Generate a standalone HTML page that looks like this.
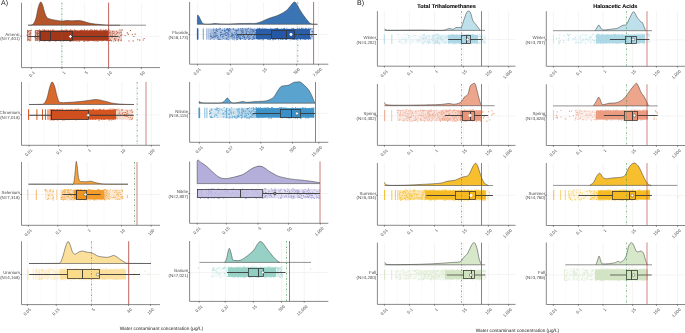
<!DOCTYPE html>
<html><head><meta charset="utf-8"><style>
html,body{margin:0;padding:0;background:#fff;width:685px;height:333px;overflow:hidden}
svg{display:block;font-family:"Liberation Sans", sans-serif;will-change:transform;text-rendering:geometricPrecision}
</style></head><body>
<svg width="685" height="333" viewBox="0 0 685 333">
<rect width="685" height="333" fill="#fff"/>
<line x1="46.60" y1="2.70" x2="46.60" y2="67.60" stroke="#f7f7f7" stroke-width="0.50"/>
<line x1="73.20" y1="2.70" x2="73.20" y2="67.60" stroke="#f7f7f7" stroke-width="0.50"/>
<line x1="96.40" y1="2.70" x2="96.40" y2="67.60" stroke="#f7f7f7" stroke-width="0.50"/>
<line x1="124.90" y1="2.70" x2="124.90" y2="67.60" stroke="#f7f7f7" stroke-width="0.50"/>
<line x1="156.40" y1="2.70" x2="156.40" y2="67.60" stroke="#f7f7f7" stroke-width="0.50"/>
<line x1="31.40" y1="2.70" x2="31.40" y2="67.60" stroke="#ededed" stroke-width="0.60"/>
<line x1="61.90" y1="2.70" x2="61.90" y2="67.60" stroke="#ededed" stroke-width="0.60"/>
<line x1="84.40" y1="2.70" x2="84.40" y2="67.60" stroke="#ededed" stroke-width="0.60"/>
<line x1="108.40" y1="2.70" x2="108.40" y2="67.60" stroke="#ededed" stroke-width="0.60"/>
<line x1="141.40" y1="2.70" x2="141.40" y2="67.60" stroke="#ededed" stroke-width="0.60"/>
<line x1="21.50" y1="36.30" x2="160.00" y2="36.30" stroke="#ededed" stroke-width="0.60"/>
<path d="M27.90,25.20C28.60,25.13 30.98,25.37 32.10,24.80C33.22,24.23 33.90,23.13 34.60,21.80C35.30,20.47 35.73,19.03 36.30,16.80C36.87,14.57 37.30,10.85 38.00,8.40C38.70,5.95 39.73,2.67 40.50,2.10C41.27,1.53 41.90,3.25 42.60,5.00C43.30,6.75 44.00,10.57 44.70,12.60C45.40,14.63 45.97,16.15 46.80,17.20C47.63,18.25 48.23,18.40 49.70,18.90C51.17,19.40 53.55,19.85 55.60,20.20C57.65,20.55 60.10,20.95 62.00,21.00C63.90,21.05 65.17,20.53 67.00,20.50C68.83,20.47 71.00,20.78 73.00,20.80C75.00,20.82 77.17,20.48 79.00,20.60C80.83,20.72 82.33,21.10 84.00,21.50C85.67,21.90 87.17,22.58 89.00,23.00C90.83,23.42 93.00,23.73 95.00,24.00C97.00,24.27 98.83,24.42 101.00,24.60C103.17,24.78 104.83,25.00 108.00,25.10C111.17,25.20 118.00,25.18 120.00,25.20L120.00,25.20L27.90,25.20Z" fill="#b5552b"/>
<line x1="27.90" y1="25.20" x2="146.00" y2="25.20" stroke="#4a4a4a" stroke-width="0.60"/>
<path d="M27.90,25.20C28.60,25.13 30.98,25.37 32.10,24.80C33.22,24.23 33.90,23.13 34.60,21.80C35.30,20.47 35.73,19.03 36.30,16.80C36.87,14.57 37.30,10.85 38.00,8.40C38.70,5.95 39.73,2.67 40.50,2.10C41.27,1.53 41.90,3.25 42.60,5.00C43.30,6.75 44.00,10.57 44.70,12.60C45.40,14.63 45.97,16.15 46.80,17.20C47.63,18.25 48.23,18.40 49.70,18.90C51.17,19.40 53.55,19.85 55.60,20.20C57.65,20.55 60.10,20.95 62.00,21.00C63.90,21.05 65.17,20.53 67.00,20.50C68.83,20.47 71.00,20.78 73.00,20.80C75.00,20.82 77.17,20.48 79.00,20.60C80.83,20.72 82.33,21.10 84.00,21.50C85.67,21.90 87.17,22.58 89.00,23.00C90.83,23.42 93.00,23.73 95.00,24.00C97.00,24.27 98.83,24.42 101.00,24.60C103.17,24.78 104.83,25.00 108.00,25.10C111.17,25.20 118.00,25.18 120.00,25.20" fill="none" stroke="#333" stroke-width="0.5"/>
<rect x="27.00" y="30.20" width="4.50" height="10.70" fill="#a9391b" fill-opacity="0.23"/>
<rect x="34.80" y="30.20" width="3.70" height="10.70" fill="#a9391b" fill-opacity="0.28"/>
<rect x="38.50" y="30.40" width="70.00" height="10.30" fill="#a9391b"/>
<rect x="108.50" y="30.20" width="13.50" height="10.70" fill="#a9391b" fill-opacity="0.25"/>
<rect x="27.28" y="30.00" width="1.05" height="11.10" fill="#a9391b" fill-opacity="0.60"/>
<rect x="29.68" y="30.00" width="1.05" height="11.10" fill="#a9391b" fill-opacity="0.50"/>
<rect x="34.98" y="30.00" width="1.05" height="11.10" fill="#a9391b" fill-opacity="0.60"/>
<rect x="36.78" y="30.00" width="1.05" height="11.10" fill="#a9391b" fill-opacity="0.70"/>
<path fill="#a9391b" fill-opacity="0.8" d="M28.0 31.0h.9v.9h-.9zM29.5 30.1h.9v.9h-.9zM29.0 33.5h.9v.9h-.9zM26.8 35.2h.9v.9h-.9zM26.7 34.3h.9v.9h-.9zM26.9 30.3h.9v.9h-.9zM28.5 38.9h.9v.9h-.9zM27.1 31.9h.9v.9h-.9zM29.4 40.3h.9v.9h-.9zM29.1 33.9h.9v.9h-.9zM30.9 29.8h.9v.9h-.9zM30.4 32.6h.9v.9h-.9zM27.2 30.6h.9v.9h-.9zM27.9 38.8h.9v.9h-.9zM27.4 36.1h.9v.9h-.9zM29.4 33.6h.9v.9h-.9zM36.4 30.0h.9v.9h-.9zM34.6 31.7h.9v.9h-.9zM36.9 34.3h.9v.9h-.9zM35.5 36.1h.9v.9h-.9zM36.0 32.8h.9v.9h-.9zM37.3 37.4h.9v.9h-.9zM35.3 36.0h.9v.9h-.9zM36.3 39.5h.9v.9h-.9zM37.0 32.6h.9v.9h-.9zM38.0 30.6h.9v.9h-.9zM35.9 38.1h.9v.9h-.9zM34.9 35.0h.9v.9h-.9zM34.5 37.1h.9v.9h-.9zM37.2 36.0h.9v.9h-.9zM37.6 32.9h.9v.9h-.9zM36.9 36.2h.9v.9h-.9zM78.6 40.8h.9v.9h-.9zM71.2 40.0h.9v.9h-.9zM83.3 40.8h.9v.9h-.9zM88.2 40.3h.9v.9h-.9zM62.9 29.9h.9v.9h-.9zM91.8 40.2h.9v.9h-.9zM102.2 40.1h.9v.9h-.9zM76.5 40.8h.9v.9h-.9zM87.5 40.6h.9v.9h-.9zM105.1 29.4h.9v.9h-.9zM84.1 29.3h.9v.9h-.9zM56.4 40.4h.9v.9h-.9zM80.7 29.6h.9v.9h-.9zM70.0 40.9h.9v.9h-.9zM65.9 40.4h.9v.9h-.9zM42.4 29.3h.9v.9h-.9zM45.7 29.9h.9v.9h-.9zM75.6 30.2h.9v.9h-.9zM99.3 40.1h.9v.9h-.9zM104.9 29.9h.9v.9h-.9zM97.5 40.4h.9v.9h-.9zM59.9 40.7h.9v.9h-.9zM71.6 29.9h.9v.9h-.9zM104.6 29.8h.9v.9h-.9zM91.1 29.5h.9v.9h-.9zM86.8 29.5h.9v.9h-.9zM62.9 40.5h.9v.9h-.9zM82.6 29.9h.9v.9h-.9zM94.5 30.1h.9v.9h-.9zM52.0 29.7h.9v.9h-.9zM93.4 40.1h.9v.9h-.9zM69.4 40.9h.9v.9h-.9zM43.7 40.4h.9v.9h-.9zM52.4 29.9h.9v.9h-.9zM71.6 29.9h.9v.9h-.9zM96.5 29.4h.9v.9h-.9zM71.5 40.7h.9v.9h-.9zM44.1 40.7h.9v.9h-.9zM66.1 30.2h.9v.9h-.9zM107.6 40.5h.9v.9h-.9zM94.5 40.8h.9v.9h-.9zM84.1 29.6h.9v.9h-.9zM39.5 30.0h.9v.9h-.9zM74.9 30.2h.9v.9h-.9zM95.9 40.2h.9v.9h-.9zM73.1 40.3h.9v.9h-.9zM96.4 40.7h.9v.9h-.9zM84.4 30.1h.9v.9h-.9zM75.3 40.0h.9v.9h-.9zM92.4 29.9h.9v.9h-.9zM50.1 29.7h.9v.9h-.9zM60.9 29.8h.9v.9h-.9zM99.9 29.3h.9v.9h-.9zM92.1 29.8h.9v.9h-.9zM69.1 29.9h.9v.9h-.9zM86.5 40.5h.9v.9h-.9zM73.6 40.5h.9v.9h-.9zM102.6 40.2h.9v.9h-.9zM47.6 29.4h.9v.9h-.9zM85.0 40.2h.9v.9h-.9zM92.9 40.1h.9v.9h-.9zM48.1 30.1h.9v.9h-.9zM90.3 29.3h.9v.9h-.9zM107.3 40.1h.9v.9h-.9zM107.6 40.4h.9v.9h-.9zM60.3 40.0h.9v.9h-.9zM68.9 40.3h.9v.9h-.9zM73.9 29.3h.9v.9h-.9zM106.1 29.4h.9v.9h-.9zM101.5 40.7h.9v.9h-.9zM97.5 40.9h.9v.9h-.9zM48.5 40.5h.9v.9h-.9zM44.3 40.6h.9v.9h-.9zM100.7 29.5h.9v.9h-.9zM94.2 29.3h.9v.9h-.9zM56.6 40.0h.9v.9h-.9zM102.9 29.5h.9v.9h-.9zM103.7 30.2h.9v.9h-.9zM52.2 29.6h.9v.9h-.9zM58.3 40.1h.9v.9h-.9zM94.3 30.2h.9v.9h-.9zM89.4 40.1h.9v.9h-.9zM55.2 40.6h.9v.9h-.9zM84.0 40.8h.9v.9h-.9zM86.2 30.2h.9v.9h-.9zM66.4 29.6h.9v.9h-.9zM39.0 40.8h.9v.9h-.9zM49.5 40.8h.9v.9h-.9zM80.0 29.9h.9v.9h-.9zM49.1 40.2h.9v.9h-.9zM106.1 40.2h.9v.9h-.9zM53.3 29.4h.9v.9h-.9zM71.3 29.8h.9v.9h-.9zM44.4 30.1h.9v.9h-.9zM65.6 29.5h.9v.9h-.9zM79.0 40.7h.9v.9h-.9zM91.6 40.4h.9v.9h-.9zM88.7 40.0h.9v.9h-.9zM89.4 30.1h.9v.9h-.9zM95.9 29.8h.9v.9h-.9zM44.0 29.3h.9v.9h-.9zM64.4 29.7h.9v.9h-.9zM81.9 29.9h.9v.9h-.9zM70.0 29.3h.9v.9h-.9zM84.2 40.7h.9v.9h-.9zM94.7 30.1h.9v.9h-.9zM54.2 40.4h.9v.9h-.9zM43.4 30.2h.9v.9h-.9zM81.2 29.9h.9v.9h-.9zM61.3 29.9h.9v.9h-.9zM38.9 29.3h.9v.9h-.9zM86.5 40.2h.9v.9h-.9zM114.3 34.7h.9v.9h-.9zM109.6 39.7h.9v.9h-.9zM110.7 40.7h.9v.9h-.9zM120.7 29.5h.9v.9h-.9zM114.2 38.8h.9v.9h-.9zM121.1 34.5h.9v.9h-.9zM111.7 31.7h.9v.9h-.9zM120.8 31.7h.9v.9h-.9zM115.9 30.9h.9v.9h-.9zM115.1 40.4h.9v.9h-.9zM109.8 38.8h.9v.9h-.9zM114.9 39.6h.9v.9h-.9zM117.5 32.0h.9v.9h-.9zM120.2 34.9h.9v.9h-.9zM108.4 29.3h.9v.9h-.9zM114.7 34.5h.9v.9h-.9zM112.1 30.9h.9v.9h-.9zM112.7 32.9h.9v.9h-.9zM119.4 29.3h.9v.9h-.9zM118.2 39.1h.9v.9h-.9zM109.7 40.1h.9v.9h-.9zM117.7 39.8h.9v.9h-.9zM112.0 33.6h.9v.9h-.9zM113.4 40.9h.9v.9h-.9zM116.0 33.5h.9v.9h-.9zM113.8 32.5h.9v.9h-.9zM108.7 30.4h.9v.9h-.9zM119.3 32.6h.9v.9h-.9zM120.7 32.2h.9v.9h-.9zM111.6 35.2h.9v.9h-.9zM110.6 33.6h.9v.9h-.9zM121.0 39.6h.9v.9h-.9zM119.0 36.6h.9v.9h-.9zM120.4 40.3h.9v.9h-.9zM115.5 37.7h.9v.9h-.9zM108.7 37.8h.9v.9h-.9zM114.1 38.1h.9v.9h-.9zM116.8 32.6h.9v.9h-.9zM108.7 40.1h.9v.9h-.9zM109.8 34.8h.9v.9h-.9zM112.7 32.7h.9v.9h-.9zM118.0 40.7h.9v.9h-.9zM111.6 36.9h.9v.9h-.9zM112.1 35.8h.9v.9h-.9zM113.4 31.2h.9v.9h-.9zM110.2 31.7h.9v.9h-.9zM120.3 35.1h.9v.9h-.9zM111.0 39.9h.9v.9h-.9zM121.5 34.5h.9v.9h-.9zM109.9 31.5h.9v.9h-.9zM109.3 33.3h.9v.9h-.9zM109.3 32.0h.9v.9h-.9zM111.5 35.9h.9v.9h-.9zM143.6 37.9h1.1v1.1h-1.1zM131.8 34.0h1.1v1.1h-1.1zM134.6 33.6h1.1v1.1h-1.1zM129.9 29.9h1.1v1.1h-1.1zM128.4 40.5h1.1v1.1h-1.1zM124.6 35.0h1.1v1.1h-1.1zM137.2 39.2h1.1v1.1h-1.1zM126.8 32.3h1.1v1.1h-1.1zM127.7 33.8h1.1v1.1h-1.1zM132.6 40.3h1.1v1.1h-1.1zM142.7 39.4h1.1v1.1h-1.1zM122.0 29.5h1.1v1.1h-1.1zM139.2 39.6h1.1v1.1h-1.1zM133.3 36.0h1.1v1.1h-1.1z"/>
<line x1="28.20" y1="36.50" x2="40.50" y2="36.50" stroke="#383838" stroke-width="0.90"/>
<line x1="72.50" y1="36.50" x2="118.50" y2="36.50" stroke="#383838" stroke-width="0.90"/>
<rect x="40.50" y="31.50" width="32.00" height="9.00" fill="#a3361a" fill-opacity="0.90" stroke="#333" stroke-width="0.75"/>
<line x1="50.50" y1="31.50" x2="50.50" y2="40.50" stroke="#333" stroke-width="0.90"/>
<line x1="61.90" y1="2.70" x2="61.90" y2="67.60" stroke="#3f8f4f" stroke-width="0.75" stroke-dasharray="1.8,1.5,0.5,1.5" opacity="0.85"/>
<line x1="108.60" y1="2.70" x2="108.60" y2="67.60" stroke="#b33a30" stroke-width="0.90" opacity="0.85"/>
<path d="M68.90,36.50h3M70.40,35.00v3" stroke="#fff" stroke-width="1.1"/>
<line x1="21.50" y1="2.70" x2="21.50" y2="67.60" stroke="#7a7a7a" stroke-width="0.90"/>
<line x1="21.50" y1="67.60" x2="160.00" y2="67.60" stroke="#7a7a7a" stroke-width="0.90"/>
<line x1="31.40" y1="67.60" x2="31.40" y2="68.90" stroke="#333" stroke-width="0.60"/>
<text transform="translate(35.10,72.90) rotate(-45)" text-anchor="end" font-size="4.3" fill="#4a4a4a" stroke="#4a4a4a" stroke-width="0.0">0.1</text>
<line x1="61.90" y1="67.60" x2="61.90" y2="68.90" stroke="#333" stroke-width="0.60"/>
<text transform="translate(65.60,72.90) rotate(-45)" text-anchor="end" font-size="4.3" fill="#4a4a4a" stroke="#4a4a4a" stroke-width="0.0">1</text>
<line x1="84.40" y1="67.60" x2="84.40" y2="68.90" stroke="#333" stroke-width="0.60"/>
<text transform="translate(88.10,72.90) rotate(-45)" text-anchor="end" font-size="4.3" fill="#4a4a4a" stroke="#4a4a4a" stroke-width="0.0">5</text>
<line x1="108.40" y1="67.60" x2="108.40" y2="68.90" stroke="#333" stroke-width="0.60"/>
<text transform="translate(112.10,72.90) rotate(-45)" text-anchor="end" font-size="4.3" fill="#4a4a4a" stroke="#4a4a4a" stroke-width="0.0">10</text>
<line x1="141.40" y1="67.60" x2="141.40" y2="68.90" stroke="#333" stroke-width="0.60"/>
<text transform="translate(145.10,72.90) rotate(-45)" text-anchor="end" font-size="4.3" fill="#4a4a4a" stroke="#4a4a4a" stroke-width="0.0">50</text>
<line x1="20.20" y1="36.30" x2="21.50" y2="36.30" stroke="#333" stroke-width="0.60"/>
<text x="19.80" y="35.60" text-anchor="end" font-size="4.4" fill="#4a4a4a" stroke="#4a4a4a" stroke-width="0.0">Arsenic</text>
<text x="19.80" y="40.40" text-anchor="end" font-size="4.4" fill="#4a4a4a" stroke="#4a4a4a" stroke-width="0.0">(N=7,401)</text>
<line x1="43.80" y1="82.00" x2="43.80" y2="145.30" stroke="#f7f7f7" stroke-width="0.50"/>
<line x1="73.10" y1="82.00" x2="73.10" y2="145.30" stroke="#f7f7f7" stroke-width="0.50"/>
<line x1="104.50" y1="82.00" x2="104.50" y2="145.30" stroke="#f7f7f7" stroke-width="0.50"/>
<line x1="136.60" y1="82.00" x2="136.60" y2="145.30" stroke="#f7f7f7" stroke-width="0.50"/>
<line x1="29.00" y1="82.00" x2="29.00" y2="145.30" stroke="#ededed" stroke-width="0.60"/>
<line x1="58.60" y1="82.00" x2="58.60" y2="145.30" stroke="#ededed" stroke-width="0.60"/>
<line x1="87.40" y1="82.00" x2="87.40" y2="145.30" stroke="#ededed" stroke-width="0.60"/>
<line x1="121.90" y1="82.00" x2="121.90" y2="145.30" stroke="#ededed" stroke-width="0.60"/>
<line x1="151.30" y1="82.00" x2="151.30" y2="145.30" stroke="#ededed" stroke-width="0.60"/>
<line x1="21.50" y1="114.80" x2="160.00" y2="114.80" stroke="#ededed" stroke-width="0.60"/>
<path d="M29.00,104.50C30.83,104.47 37.50,104.47 40.00,104.30C42.50,104.13 42.83,104.55 44.00,103.50C45.17,102.45 46.08,100.58 47.00,98.00C47.92,95.42 48.67,90.67 49.50,88.00C50.33,85.33 51.17,82.33 52.00,82.00C52.83,81.67 53.67,83.67 54.50,86.00C55.33,88.33 56.25,93.42 57.00,96.00C57.75,98.58 58.17,100.40 59.00,101.50C59.83,102.60 60.17,102.47 62.00,102.60C63.83,102.73 67.00,102.48 70.00,102.30C73.00,102.12 77.00,101.80 80.00,101.50C83.00,101.20 85.50,100.83 88.00,100.50C90.50,100.17 93.00,99.58 95.00,99.50C97.00,99.42 97.83,99.58 100.00,100.00C102.17,100.42 105.50,101.40 108.00,102.00C110.50,102.60 112.17,103.22 115.00,103.60C117.83,103.98 121.83,104.15 125.00,104.30C128.17,104.45 132.50,104.47 134.00,104.50L134.00,104.50L29.00,104.50Z" fill="#d8692c"/>
<line x1="29.00" y1="104.50" x2="134.00" y2="104.50" stroke="#4a4a4a" stroke-width="0.60"/>
<path d="M29.00,104.50C30.83,104.47 37.50,104.47 40.00,104.30C42.50,104.13 42.83,104.55 44.00,103.50C45.17,102.45 46.08,100.58 47.00,98.00C47.92,95.42 48.67,90.67 49.50,88.00C50.33,85.33 51.17,82.33 52.00,82.00C52.83,81.67 53.67,83.67 54.50,86.00C55.33,88.33 56.25,93.42 57.00,96.00C57.75,98.58 58.17,100.40 59.00,101.50C59.83,102.60 60.17,102.47 62.00,102.60C63.83,102.73 67.00,102.48 70.00,102.30C73.00,102.12 77.00,101.80 80.00,101.50C83.00,101.20 85.50,100.83 88.00,100.50C90.50,100.17 93.00,99.58 95.00,99.50C97.00,99.42 97.83,99.58 100.00,100.00C102.17,100.42 105.50,101.40 108.00,102.00C110.50,102.60 112.17,103.22 115.00,103.60C117.83,103.98 121.83,104.15 125.00,104.30C128.17,104.45 132.50,104.47 134.00,104.50" fill="none" stroke="#333" stroke-width="0.5"/>
<rect x="50.50" y="109.70" width="65.50" height="9.80" fill="#d5541f"/>
<rect x="116.00" y="109.50" width="17.00" height="10.20" fill="#d5541f" fill-opacity="0.20"/>
<rect x="28.08" y="109.30" width="1.05" height="10.60" fill="#d5541f" fill-opacity="1.00"/>
<rect x="36.38" y="109.30" width="1.05" height="10.60" fill="#d5541f" fill-opacity="0.95"/>
<rect x="41.98" y="109.30" width="1.05" height="10.60" fill="#d5541f" fill-opacity="0.95"/>
<rect x="44.98" y="109.30" width="1.05" height="10.60" fill="#d5541f" fill-opacity="0.90"/>
<rect x="47.48" y="109.30" width="1.05" height="10.60" fill="#d5541f" fill-opacity="0.90"/>
<rect x="49.48" y="109.30" width="1.05" height="10.60" fill="#d5541f" fill-opacity="0.95"/>
<path fill="#d5541f" fill-opacity="0.8" d="M50.1 119.7h.9v.9h-.9zM113.7 108.8h.9v.9h-.9zM60.0 118.9h.9v.9h-.9zM55.6 109.3h.9v.9h-.9zM65.3 119.4h.9v.9h-.9zM113.1 119.3h.9v.9h-.9zM95.8 108.7h.9v.9h-.9zM75.5 108.8h.9v.9h-.9zM85.3 119.0h.9v.9h-.9zM92.3 109.4h.9v.9h-.9zM85.9 119.2h.9v.9h-.9zM53.7 119.6h.9v.9h-.9zM55.4 119.2h.9v.9h-.9zM64.9 119.1h.9v.9h-.9zM73.8 118.8h.9v.9h-.9zM98.5 109.1h.9v.9h-.9zM70.5 109.4h.9v.9h-.9zM67.4 118.9h.9v.9h-.9zM90.0 109.4h.9v.9h-.9zM112.2 108.7h.9v.9h-.9zM51.6 109.1h.9v.9h-.9zM62.1 119.5h.9v.9h-.9zM98.0 119.7h.9v.9h-.9zM62.5 119.3h.9v.9h-.9zM52.1 119.1h.9v.9h-.9zM114.6 109.0h.9v.9h-.9zM68.4 108.9h.9v.9h-.9zM86.8 119.1h.9v.9h-.9zM103.9 118.8h.9v.9h-.9zM62.9 119.2h.9v.9h-.9zM73.9 118.8h.9v.9h-.9zM66.3 119.2h.9v.9h-.9zM52.3 119.7h.9v.9h-.9zM62.8 119.4h.9v.9h-.9zM67.9 119.4h.9v.9h-.9zM98.9 119.7h.9v.9h-.9zM50.3 109.3h.9v.9h-.9zM51.6 119.2h.9v.9h-.9zM112.5 119.0h.9v.9h-.9zM103.4 108.7h.9v.9h-.9zM102.6 109.3h.9v.9h-.9zM89.8 119.1h.9v.9h-.9zM101.4 119.3h.9v.9h-.9zM99.4 108.8h.9v.9h-.9zM81.6 118.9h.9v.9h-.9zM107.9 109.5h.9v.9h-.9zM63.7 119.7h.9v.9h-.9zM61.4 108.7h.9v.9h-.9zM99.0 109.4h.9v.9h-.9zM101.1 119.0h.9v.9h-.9zM74.5 109.3h.9v.9h-.9zM62.2 108.8h.9v.9h-.9zM71.4 108.9h.9v.9h-.9zM92.6 108.7h.9v.9h-.9zM56.8 119.6h.9v.9h-.9zM109.9 108.6h.9v.9h-.9zM53.4 109.2h.9v.9h-.9zM111.0 119.6h.9v.9h-.9zM89.5 109.3h.9v.9h-.9zM57.0 109.1h.9v.9h-.9zM52.5 118.8h.9v.9h-.9zM52.6 109.3h.9v.9h-.9zM103.7 119.1h.9v.9h-.9zM55.2 119.2h.9v.9h-.9zM54.2 108.7h.9v.9h-.9zM91.9 118.9h.9v.9h-.9zM76.9 108.8h.9v.9h-.9zM70.5 119.1h.9v.9h-.9zM51.2 109.3h.9v.9h-.9zM75.6 119.7h.9v.9h-.9zM109.1 119.6h.9v.9h-.9zM87.9 108.9h.9v.9h-.9zM51.0 119.4h.9v.9h-.9zM55.9 109.2h.9v.9h-.9zM59.6 108.8h.9v.9h-.9zM57.2 109.0h.9v.9h-.9zM69.8 118.8h.9v.9h-.9zM70.7 109.2h.9v.9h-.9zM109.3 109.2h.9v.9h-.9zM92.0 109.4h.9v.9h-.9zM104.4 119.0h.9v.9h-.9zM111.5 108.7h.9v.9h-.9zM66.2 109.3h.9v.9h-.9zM107.9 119.4h.9v.9h-.9zM57.8 119.3h.9v.9h-.9zM92.6 119.0h.9v.9h-.9zM93.2 109.0h.9v.9h-.9zM50.3 119.2h.9v.9h-.9zM100.1 109.3h.9v.9h-.9zM103.1 118.8h.9v.9h-.9zM78.3 108.6h.9v.9h-.9zM52.7 119.7h.9v.9h-.9zM101.0 118.8h.9v.9h-.9zM92.8 109.3h.9v.9h-.9zM115.3 109.3h.9v.9h-.9zM58.7 109.4h.9v.9h-.9zM95.0 119.0h.9v.9h-.9zM90.0 119.1h.9v.9h-.9zM109.3 119.0h.9v.9h-.9zM63.7 119.3h.9v.9h-.9zM74.4 119.2h.9v.9h-.9zM94.6 118.9h.9v.9h-.9zM57.6 119.4h.9v.9h-.9zM113.3 109.0h.9v.9h-.9zM119.8 114.5h.9v.9h-.9zM130.1 116.8h.9v.9h-.9zM121.9 112.8h.9v.9h-.9zM121.8 110.2h.9v.9h-.9zM121.2 109.5h.9v.9h-.9zM119.5 115.4h.9v.9h-.9zM131.8 111.9h.9v.9h-.9zM124.3 112.0h.9v.9h-.9zM132.0 118.3h.9v.9h-.9zM131.3 118.6h.9v.9h-.9zM128.0 116.9h.9v.9h-.9zM119.3 111.8h.9v.9h-.9zM126.2 113.2h.9v.9h-.9zM121.7 109.1h.9v.9h-.9zM123.9 115.4h.9v.9h-.9zM116.3 109.2h.9v.9h-.9zM125.2 112.0h.9v.9h-.9zM124.4 114.5h.9v.9h-.9zM122.6 111.9h.9v.9h-.9zM117.8 112.7h.9v.9h-.9zM129.6 110.3h.9v.9h-.9zM115.8 117.5h.9v.9h-.9zM127.6 113.6h.9v.9h-.9zM116.6 110.2h.9v.9h-.9zM126.9 111.6h.9v.9h-.9zM129.3 119.4h.9v.9h-.9zM116.5 117.7h.9v.9h-.9zM130.7 115.2h.9v.9h-.9zM125.4 115.3h.9v.9h-.9zM124.3 114.1h.9v.9h-.9zM118.4 108.6h.9v.9h-.9zM116.6 108.8h.9v.9h-.9zM118.7 110.3h.9v.9h-.9zM131.0 109.7h.9v.9h-.9zM126.0 115.9h.9v.9h-.9zM118.9 113.2h.9v.9h-.9zM124.4 115.7h.9v.9h-.9zM126.6 113.2h.9v.9h-.9zM126.0 114.2h.9v.9h-.9zM116.6 115.6h.9v.9h-.9zM132.4 116.7h.9v.9h-.9zM123.7 114.6h.9v.9h-.9zM121.9 113.4h.9v.9h-.9zM131.1 109.5h.9v.9h-.9zM126.7 110.5h.9v.9h-.9zM132.5 111.5h.9v.9h-.9zM126.5 109.9h.9v.9h-.9zM130.7 118.9h.9v.9h-.9zM131.6 111.5h.9v.9h-.9zM116.4 115.7h.9v.9h-.9zM127.1 116.2h.9v.9h-.9z"/>
<line x1="29.20" y1="115.25" x2="51.50" y2="115.25" stroke="#383838" stroke-width="1.00"/>
<line x1="88.50" y1="115.25" x2="133.80" y2="115.25" stroke="#383838" stroke-width="1.00"/>
<rect x="51.50" y="110.50" width="37.00" height="9.00" fill="#cf4f1f" fill-opacity="0.90" stroke="#333" stroke-width="0.75"/>
<line x1="51.50" y1="110.50" x2="51.50" y2="119.50" stroke="#333" stroke-width="0.90"/>
<line x1="137.20" y1="82.00" x2="137.20" y2="145.30" stroke="#3f8f4f" stroke-width="0.75" stroke-dasharray="1.8,1.5,0.5,1.5" opacity="0.85"/>
<line x1="146.00" y1="82.00" x2="146.00" y2="145.30" stroke="#b33a30" stroke-width="1.00" opacity="0.62"/>
<circle cx="88.20" cy="115.25" r="1.45" fill="#fff" stroke="#333" stroke-width="0.45"/>
<line x1="21.50" y1="82.00" x2="21.50" y2="145.30" stroke="#7a7a7a" stroke-width="0.90"/>
<line x1="21.50" y1="145.30" x2="160.00" y2="145.30" stroke="#7a7a7a" stroke-width="0.90"/>
<line x1="29.00" y1="145.30" x2="29.00" y2="146.60" stroke="#333" stroke-width="0.60"/>
<text transform="translate(32.70,150.60) rotate(-45)" text-anchor="end" font-size="4.3" fill="#4a4a4a" stroke="#4a4a4a" stroke-width="0.0">0.01</text>
<line x1="58.60" y1="145.30" x2="58.60" y2="146.60" stroke="#333" stroke-width="0.60"/>
<text transform="translate(62.30,150.60) rotate(-45)" text-anchor="end" font-size="4.3" fill="#4a4a4a" stroke="#4a4a4a" stroke-width="0.0">0.1</text>
<line x1="87.40" y1="145.30" x2="87.40" y2="146.60" stroke="#333" stroke-width="0.60"/>
<text transform="translate(91.10,150.60) rotate(-45)" text-anchor="end" font-size="4.3" fill="#4a4a4a" stroke="#4a4a4a" stroke-width="0.0">1</text>
<line x1="121.90" y1="145.30" x2="121.90" y2="146.60" stroke="#333" stroke-width="0.60"/>
<text transform="translate(125.60,150.60) rotate(-45)" text-anchor="end" font-size="4.3" fill="#4a4a4a" stroke="#4a4a4a" stroke-width="0.0">10</text>
<line x1="151.30" y1="145.30" x2="151.30" y2="146.60" stroke="#333" stroke-width="0.60"/>
<text transform="translate(155.00,150.60) rotate(-45)" text-anchor="end" font-size="4.3" fill="#4a4a4a" stroke="#4a4a4a" stroke-width="0.0">100</text>
<line x1="20.20" y1="114.80" x2="21.50" y2="114.80" stroke="#333" stroke-width="0.60"/>
<text x="19.80" y="114.10" text-anchor="end" font-size="4.4" fill="#4a4a4a" stroke="#4a4a4a" stroke-width="0.0">Chromium</text>
<text x="19.80" y="118.90" text-anchor="end" font-size="4.4" fill="#4a4a4a" stroke="#4a4a4a" stroke-width="0.0">(N=7,018)</text>
<line x1="43.00" y1="162.00" x2="43.00" y2="225.30" stroke="#f7f7f7" stroke-width="0.50"/>
<line x1="72.50" y1="162.00" x2="72.50" y2="225.30" stroke="#f7f7f7" stroke-width="0.50"/>
<line x1="104.00" y1="162.00" x2="104.00" y2="225.30" stroke="#f7f7f7" stroke-width="0.50"/>
<line x1="136.00" y1="162.00" x2="136.00" y2="225.30" stroke="#f7f7f7" stroke-width="0.50"/>
<line x1="28.40" y1="162.00" x2="28.40" y2="225.30" stroke="#ededed" stroke-width="0.60"/>
<line x1="57.80" y1="162.00" x2="57.80" y2="225.30" stroke="#ededed" stroke-width="0.60"/>
<line x1="87.20" y1="162.00" x2="87.20" y2="225.30" stroke="#ededed" stroke-width="0.60"/>
<line x1="121.50" y1="162.00" x2="121.50" y2="225.30" stroke="#ededed" stroke-width="0.60"/>
<line x1="151.10" y1="162.00" x2="151.10" y2="225.30" stroke="#ededed" stroke-width="0.60"/>
<line x1="21.50" y1="194.50" x2="160.00" y2="194.50" stroke="#ededed" stroke-width="0.60"/>
<path d="M28.50,184.20C35.42,184.20 62.55,184.23 70.00,184.20C73.20,184.17 72.45,185.03 73.20,184.00C73.95,182.97 74.12,180.67 74.50,178.00C74.88,175.33 75.22,170.77 75.50,168.00C75.78,165.23 75.92,161.73 76.20,161.40C76.48,161.07 76.85,163.57 77.20,166.00C77.55,168.43 77.90,173.50 78.30,176.00C78.70,178.50 78.98,180.08 79.60,181.00C80.22,181.92 80.93,181.37 82.00,181.50C83.07,181.63 84.50,181.85 86.00,181.80C87.50,181.75 89.50,181.08 91.00,181.20C92.50,181.32 93.50,182.12 95.00,182.50C96.50,182.88 98.17,183.23 100.00,183.50C101.83,183.77 101.33,183.98 106.00,184.10C110.67,184.22 124.33,184.18 128.00,184.20L128.00,184.20L28.50,184.20Z" fill="#f5a43c"/>
<line x1="28.50" y1="184.20" x2="128.00" y2="184.20" stroke="#4a4a4a" stroke-width="0.60"/>
<path d="M28.50,184.20C35.42,184.20 62.55,184.23 70.00,184.20C73.20,184.17 72.45,185.03 73.20,184.00C73.95,182.97 74.12,180.67 74.50,178.00C74.88,175.33 75.22,170.77 75.50,168.00C75.78,165.23 75.92,161.73 76.20,161.40C76.48,161.07 76.85,163.57 77.20,166.00C77.55,168.43 77.90,173.50 78.30,176.00C78.70,178.50 78.98,180.08 79.60,181.00C80.22,181.92 80.93,181.37 82.00,181.50C83.07,181.63 84.50,181.85 86.00,181.80C87.50,181.75 89.50,181.08 91.00,181.20C92.50,181.32 93.50,182.12 95.00,182.50C96.50,182.88 98.17,183.23 100.00,183.50C101.83,183.77 101.33,183.98 106.00,184.10C110.67,184.22 124.33,184.18 128.00,184.20" fill="none" stroke="#333" stroke-width="0.5"/>
<rect x="45.00" y="189.70" width="9.00" height="10.00" fill="#f39b2b" fill-opacity="0.17"/>
<rect x="60.50" y="189.70" width="13.50" height="10.00" fill="#f39b2b" fill-opacity="0.35"/>
<rect x="74.00" y="189.90" width="30.40" height="9.60" fill="#f39b2b"/>
<rect x="104.40" y="189.70" width="5.60" height="10.00" fill="#f39b2b" fill-opacity="0.35"/>
<rect x="110.00" y="189.70" width="13.00" height="10.00" fill="#f39b2b" fill-opacity="0.20"/>
<rect x="27.18" y="189.50" width="1.05" height="10.40" fill="#f39b2b" fill-opacity="0.50"/>
<rect x="35.78" y="189.50" width="1.05" height="10.40" fill="#f39b2b" fill-opacity="0.70"/>
<rect x="56.28" y="189.50" width="1.05" height="10.40" fill="#f39b2b" fill-opacity="0.50"/>
<path fill="#f39b2b" fill-opacity="0.8" d="M52.8 199.4h.9v.9h-.9zM47.2 199.0h.9v.9h-.9zM52.6 189.7h.9v.9h-.9zM49.1 190.6h.9v.9h-.9zM52.7 198.0h.9v.9h-.9zM46.4 190.5h.9v.9h-.9zM52.8 190.9h.9v.9h-.9zM48.0 195.4h.9v.9h-.9zM48.0 198.1h.9v.9h-.9zM52.8 199.5h.9v.9h-.9zM52.1 194.6h.9v.9h-.9zM48.8 194.6h.9v.9h-.9zM44.6 189.0h.9v.9h-.9zM53.2 191.3h.9v.9h-.9zM52.5 197.4h.9v.9h-.9zM48.1 195.2h.9v.9h-.9zM49.6 190.6h.9v.9h-.9zM44.8 190.0h.9v.9h-.9zM50.1 190.5h.9v.9h-.9zM53.3 196.5h.9v.9h-.9zM44.8 190.3h.9v.9h-.9zM50.3 189.2h.9v.9h-.9zM45.2 189.3h.9v.9h-.9zM71.6 197.1h.9v.9h-.9zM62.7 199.3h.9v.9h-.9zM67.3 196.1h.9v.9h-.9zM71.9 197.1h.9v.9h-.9zM69.7 193.0h.9v.9h-.9zM63.4 191.0h.9v.9h-.9zM60.5 199.2h.9v.9h-.9zM72.4 197.0h.9v.9h-.9zM61.2 197.0h.9v.9h-.9zM68.6 194.0h.9v.9h-.9zM61.8 197.5h.9v.9h-.9zM68.8 192.0h.9v.9h-.9zM64.6 191.6h.9v.9h-.9zM64.8 199.0h.9v.9h-.9zM60.7 197.1h.9v.9h-.9zM72.3 197.2h.9v.9h-.9zM68.2 194.0h.9v.9h-.9zM63.9 197.0h.9v.9h-.9zM70.7 189.1h.9v.9h-.9zM67.1 189.8h.9v.9h-.9zM66.4 189.3h.9v.9h-.9zM67.7 196.6h.9v.9h-.9zM71.2 195.1h.9v.9h-.9zM63.9 193.5h.9v.9h-.9zM67.1 191.9h.9v.9h-.9zM70.2 189.3h.9v.9h-.9zM64.7 189.8h.9v.9h-.9zM69.4 197.8h.9v.9h-.9zM73.1 195.3h.9v.9h-.9zM73.0 194.4h.9v.9h-.9zM67.9 190.5h.9v.9h-.9zM71.1 199.1h.9v.9h-.9zM63.2 190.6h.9v.9h-.9zM72.7 197.2h.9v.9h-.9zM66.7 199.7h.9v.9h-.9zM67.6 189.9h.9v.9h-.9zM64.5 189.8h.9v.9h-.9zM72.6 198.6h.9v.9h-.9zM70.1 193.4h.9v.9h-.9zM68.8 192.8h.9v.9h-.9zM64.1 193.5h.9v.9h-.9zM67.4 190.6h.9v.9h-.9zM73.3 195.7h.9v.9h-.9zM72.8 190.1h.9v.9h-.9zM68.1 196.3h.9v.9h-.9zM68.2 189.1h.9v.9h-.9zM67.9 194.5h.9v.9h-.9zM71.8 193.7h.9v.9h-.9zM67.5 192.3h.9v.9h-.9zM66.3 196.3h.9v.9h-.9zM63.5 191.3h.9v.9h-.9zM64.6 195.8h.9v.9h-.9zM69.5 194.3h.9v.9h-.9zM63.7 197.1h.9v.9h-.9zM71.2 195.5h.9v.9h-.9zM69.8 199.5h.9v.9h-.9zM69.8 195.4h.9v.9h-.9zM64.8 191.3h.9v.9h-.9zM73.0 191.6h.9v.9h-.9zM72.9 199.7h.9v.9h-.9zM62.3 196.0h.9v.9h-.9zM62.7 190.4h.9v.9h-.9zM62.1 192.1h.9v.9h-.9zM64.1 191.8h.9v.9h-.9zM61.5 198.8h.9v.9h-.9zM63.8 198.5h.9v.9h-.9zM66.3 188.9h.9v.9h-.9zM71.6 193.6h.9v.9h-.9zM63.1 199.5h.9v.9h-.9zM64.0 189.0h.9v.9h-.9zM81.4 189.5h.9v.9h-.9zM101.2 199.3h.9v.9h-.9zM99.3 189.4h.9v.9h-.9zM94.2 199.2h.9v.9h-.9zM81.4 189.5h.9v.9h-.9zM97.3 199.4h.9v.9h-.9zM99.4 198.8h.9v.9h-.9zM89.3 199.6h.9v.9h-.9zM97.2 189.1h.9v.9h-.9zM74.7 189.3h.9v.9h-.9zM89.3 188.9h.9v.9h-.9zM95.4 199.4h.9v.9h-.9zM89.4 189.2h.9v.9h-.9zM103.7 188.9h.9v.9h-.9zM95.7 199.4h.9v.9h-.9zM81.9 198.8h.9v.9h-.9zM101.4 199.4h.9v.9h-.9zM76.9 189.1h.9v.9h-.9zM103.8 189.7h.9v.9h-.9zM77.5 189.5h.9v.9h-.9zM87.8 189.3h.9v.9h-.9zM84.3 199.6h.9v.9h-.9zM87.8 189.0h.9v.9h-.9zM97.3 189.2h.9v.9h-.9zM81.7 199.0h.9v.9h-.9zM94.2 199.6h.9v.9h-.9zM84.4 199.1h.9v.9h-.9zM86.6 199.4h.9v.9h-.9zM78.2 189.1h.9v.9h-.9zM98.7 189.7h.9v.9h-.9zM89.7 189.1h.9v.9h-.9zM79.9 188.8h.9v.9h-.9zM91.1 198.9h.9v.9h-.9zM84.1 188.9h.9v.9h-.9zM92.1 189.4h.9v.9h-.9zM93.9 199.5h.9v.9h-.9zM79.6 199.3h.9v.9h-.9zM94.0 198.9h.9v.9h-.9zM80.7 188.9h.9v.9h-.9zM88.3 189.7h.9v.9h-.9zM88.7 189.3h.9v.9h-.9zM78.4 199.4h.9v.9h-.9zM93.8 199.1h.9v.9h-.9zM103.9 198.9h.9v.9h-.9zM92.9 199.4h.9v.9h-.9zM98.1 188.8h.9v.9h-.9zM74.6 199.4h.9v.9h-.9zM76.4 189.4h.9v.9h-.9zM105.5 192.5h.9v.9h-.9zM105.4 189.3h.9v.9h-.9zM105.6 192.7h.9v.9h-.9zM106.7 192.4h.9v.9h-.9zM109.5 198.4h.9v.9h-.9zM105.9 191.0h.9v.9h-.9zM106.7 190.0h.9v.9h-.9zM105.0 196.6h.9v.9h-.9zM104.7 199.5h.9v.9h-.9zM104.4 199.7h.9v.9h-.9zM106.2 194.8h.9v.9h-.9zM106.2 195.1h.9v.9h-.9zM106.2 189.9h.9v.9h-.9zM104.2 197.8h.9v.9h-.9zM106.6 197.2h.9v.9h-.9zM104.3 194.3h.9v.9h-.9zM107.0 192.9h.9v.9h-.9zM104.8 196.2h.9v.9h-.9zM107.8 198.4h.9v.9h-.9zM104.4 189.2h.9v.9h-.9zM107.5 195.6h.9v.9h-.9zM104.9 196.0h.9v.9h-.9zM108.8 193.4h.9v.9h-.9zM104.5 199.0h.9v.9h-.9zM104.0 198.3h.9v.9h-.9zM104.7 192.2h.9v.9h-.9zM107.9 198.2h.9v.9h-.9zM105.0 189.1h.9v.9h-.9zM104.1 195.0h.9v.9h-.9zM117.1 198.8h.9v.9h-.9zM116.0 194.5h.9v.9h-.9zM120.3 197.3h.9v.9h-.9zM115.0 196.4h.9v.9h-.9zM114.8 189.5h.9v.9h-.9zM118.4 195.3h.9v.9h-.9zM122.5 196.0h.9v.9h-.9zM111.6 197.2h.9v.9h-.9zM116.7 189.7h.9v.9h-.9zM115.7 198.6h.9v.9h-.9zM117.7 193.4h.9v.9h-.9zM109.7 196.1h.9v.9h-.9zM122.4 198.2h.9v.9h-.9zM112.4 190.1h.9v.9h-.9zM115.7 191.8h.9v.9h-.9zM116.9 193.7h.9v.9h-.9zM119.2 198.9h.9v.9h-.9zM114.3 197.0h.9v.9h-.9zM118.6 190.3h.9v.9h-.9zM119.4 192.0h.9v.9h-.9zM116.8 194.2h.9v.9h-.9zM118.3 198.5h.9v.9h-.9zM121.4 189.3h.9v.9h-.9zM110.0 189.4h.9v.9h-.9zM121.0 196.3h.9v.9h-.9zM117.6 193.0h.9v.9h-.9zM113.6 195.4h.9v.9h-.9zM122.0 197.9h.9v.9h-.9zM117.5 192.2h.9v.9h-.9zM121.9 196.8h.9v.9h-.9zM115.7 190.6h.9v.9h-.9zM122.1 190.0h.9v.9h-.9zM122.0 190.6h.9v.9h-.9zM120.0 194.0h.9v.9h-.9zM119.7 193.7h.9v.9h-.9zM113.1 197.1h.9v.9h-.9zM113.9 191.8h.9v.9h-.9zM117.6 195.9h.9v.9h-.9zM126.7 195.2h1.1v1.1h-1.1zM126.9 196.6h1.1v1.1h-1.1z"/>
<line x1="62.40" y1="194.50" x2="76.50" y2="194.50" stroke="#383838" stroke-width="0.90"/>
<line x1="86.50" y1="194.50" x2="100.50" y2="194.50" stroke="#383838" stroke-width="0.90"/>
<rect x="76.50" y="190.50" width="10.00" height="9.00" fill="#f0961f" fill-opacity="0.90" stroke="#333" stroke-width="0.75"/>
<line x1="76.50" y1="190.50" x2="76.50" y2="199.50" stroke="#333" stroke-width="0.90"/>
<line x1="134.50" y1="162.00" x2="134.50" y2="225.30" stroke="#3f8f4f" stroke-width="0.75" stroke-dasharray="1.8,1.5,0.5,1.5" opacity="0.85"/>
<line x1="137.00" y1="162.00" x2="137.00" y2="225.30" stroke="#b33a30" stroke-width="1.00" opacity="0.62"/>
<circle cx="85.40" cy="194.50" r="1.45" fill="#fff" stroke="#333" stroke-width="0.45"/>
<line x1="21.50" y1="162.00" x2="21.50" y2="225.30" stroke="#7a7a7a" stroke-width="0.90"/>
<line x1="21.50" y1="225.30" x2="160.00" y2="225.30" stroke="#7a7a7a" stroke-width="0.90"/>
<line x1="28.40" y1="225.30" x2="28.40" y2="226.60" stroke="#333" stroke-width="0.60"/>
<text transform="translate(32.10,230.60) rotate(-45)" text-anchor="end" font-size="4.3" fill="#4a4a4a" stroke="#4a4a4a" stroke-width="0.0">0.01</text>
<line x1="57.80" y1="225.30" x2="57.80" y2="226.60" stroke="#333" stroke-width="0.60"/>
<text transform="translate(61.50,230.60) rotate(-45)" text-anchor="end" font-size="4.3" fill="#4a4a4a" stroke="#4a4a4a" stroke-width="0.0">0.1</text>
<line x1="87.20" y1="225.30" x2="87.20" y2="226.60" stroke="#333" stroke-width="0.60"/>
<text transform="translate(90.90,230.60) rotate(-45)" text-anchor="end" font-size="4.3" fill="#4a4a4a" stroke="#4a4a4a" stroke-width="0.0">1</text>
<line x1="121.50" y1="225.30" x2="121.50" y2="226.60" stroke="#333" stroke-width="0.60"/>
<text transform="translate(125.20,230.60) rotate(-45)" text-anchor="end" font-size="4.3" fill="#4a4a4a" stroke="#4a4a4a" stroke-width="0.0">10</text>
<line x1="151.10" y1="225.30" x2="151.10" y2="226.60" stroke="#333" stroke-width="0.60"/>
<text transform="translate(154.80,230.60) rotate(-45)" text-anchor="end" font-size="4.3" fill="#4a4a4a" stroke="#4a4a4a" stroke-width="0.0">100</text>
<line x1="20.20" y1="194.50" x2="21.50" y2="194.50" stroke="#333" stroke-width="0.60"/>
<text x="19.80" y="193.80" text-anchor="end" font-size="4.4" fill="#4a4a4a" stroke="#4a4a4a" stroke-width="0.0">Selenium</text>
<text x="19.80" y="198.60" text-anchor="end" font-size="4.4" fill="#4a4a4a" stroke="#4a4a4a" stroke-width="0.0">(N=7,318)</text>
<line x1="41.50" y1="241.30" x2="41.50" y2="304.60" stroke="#f7f7f7" stroke-width="0.50"/>
<line x1="70.00" y1="241.30" x2="70.00" y2="304.60" stroke="#f7f7f7" stroke-width="0.50"/>
<line x1="109.40" y1="241.30" x2="109.40" y2="304.60" stroke="#f7f7f7" stroke-width="0.50"/>
<line x1="140.00" y1="241.30" x2="140.00" y2="304.60" stroke="#f7f7f7" stroke-width="0.50"/>
<line x1="27.40" y1="241.30" x2="27.40" y2="304.60" stroke="#ededed" stroke-width="0.60"/>
<line x1="56.30" y1="241.30" x2="56.30" y2="304.60" stroke="#ededed" stroke-width="0.60"/>
<line x1="91.50" y1="241.30" x2="91.50" y2="304.60" stroke="#ededed" stroke-width="0.60"/>
<line x1="128.50" y1="241.30" x2="128.50" y2="304.60" stroke="#ededed" stroke-width="0.60"/>
<line x1="150.50" y1="241.30" x2="150.50" y2="304.60" stroke="#ededed" stroke-width="0.60"/>
<line x1="21.50" y1="274.50" x2="160.00" y2="274.50" stroke="#ededed" stroke-width="0.60"/>
<path d="M29.00,263.50C33.83,263.47 52.77,263.47 58.00,263.30C60.40,263.13 59.57,263.72 60.40,262.50C61.23,261.28 62.15,258.58 63.00,256.00C63.85,253.42 64.65,249.43 65.50,247.00C66.35,244.57 67.27,241.57 68.10,241.40C68.93,241.23 69.77,244.23 70.50,246.00C71.23,247.77 71.75,250.63 72.50,252.00C73.25,253.37 74.08,254.12 75.00,254.20C75.92,254.28 76.83,253.03 78.00,252.50C79.17,251.97 80.67,251.08 82.00,251.00C83.33,250.92 84.42,251.70 86.00,252.00C87.58,252.30 90.00,252.38 91.50,252.80C93.00,253.22 93.88,253.93 95.00,254.50C96.12,255.07 96.87,255.78 98.20,256.20C99.53,256.62 101.42,256.82 103.00,257.00C104.58,257.18 106.37,257.42 107.70,257.30C109.03,257.18 109.98,256.60 111.00,256.30C112.02,256.00 112.80,255.38 113.80,255.50C114.80,255.62 115.80,256.25 117.00,257.00C118.20,257.75 119.62,259.07 121.00,260.00C122.38,260.93 124.13,262.05 125.30,262.60C126.47,263.15 125.30,263.15 128.00,263.30C132.28,263.45 147.17,263.47 151.00,263.50L151.00,263.50L29.00,263.50Z" fill="#fbe09c"/>
<line x1="29.00" y1="263.50" x2="151.00" y2="263.50" stroke="#4a4a4a" stroke-width="0.60"/>
<path d="M29.00,263.50C33.83,263.47 52.77,263.47 58.00,263.30C60.40,263.13 59.57,263.72 60.40,262.50C61.23,261.28 62.15,258.58 63.00,256.00C63.85,253.42 64.65,249.43 65.50,247.00C66.35,244.57 67.27,241.57 68.10,241.40C68.93,241.23 69.77,244.23 70.50,246.00C71.23,247.77 71.75,250.63 72.50,252.00C73.25,253.37 74.08,254.12 75.00,254.20C75.92,254.28 76.83,253.03 78.00,252.50C79.17,251.97 80.67,251.08 82.00,251.00C83.33,250.92 84.42,251.70 86.00,252.00C87.58,252.30 90.00,252.38 91.50,252.80C93.00,253.22 93.88,253.93 95.00,254.50C96.12,255.07 96.87,255.78 98.20,256.20C99.53,256.62 101.42,256.82 103.00,257.00C104.58,257.18 106.37,257.42 107.70,257.30C109.03,257.18 109.98,256.60 111.00,256.30C112.02,256.00 112.80,255.38 113.80,255.50C114.80,255.62 115.80,256.25 117.00,257.00C118.20,257.75 119.62,259.07 121.00,260.00C122.38,260.93 124.13,262.05 125.30,262.60C126.47,263.15 125.30,263.15 128.00,263.30C132.28,263.45 147.17,263.47 151.00,263.50" fill="none" stroke="#333" stroke-width="0.5"/>
<rect x="36.00" y="269.10" width="24.00" height="10.40" fill="#fbe0a0" fill-opacity="0.25"/>
<rect x="60.00" y="269.30" width="66.00" height="10.00" fill="#fbe0a0"/>
<rect x="27.48" y="268.90" width="1.05" height="10.80" fill="#fbe0a0" fill-opacity="0.90"/>
<rect x="32.78" y="268.90" width="1.05" height="10.80" fill="#fbe0a0" fill-opacity="0.60"/>
<rect x="34.78" y="268.90" width="1.05" height="10.80" fill="#fbe0a0" fill-opacity="0.60"/>
<rect x="38.88" y="268.90" width="1.05" height="10.80" fill="#fbe0a0" fill-opacity="0.60"/>
<rect x="41.48" y="268.90" width="1.05" height="10.80" fill="#fbe0a0" fill-opacity="0.60"/>
<path fill="#fbe0a0" fill-opacity="0.8" d="M35.9 269.9h.9v.9h-.9zM55.5 274.8h.9v.9h-.9zM59.0 271.0h.9v.9h-.9zM44.8 272.4h.9v.9h-.9zM54.1 270.8h.9v.9h-.9zM46.4 276.0h.9v.9h-.9zM43.3 271.2h.9v.9h-.9zM39.3 278.6h.9v.9h-.9zM53.9 277.1h.9v.9h-.9zM42.5 269.8h.9v.9h-.9zM56.9 279.5h.9v.9h-.9zM39.1 279.3h.9v.9h-.9zM54.7 274.4h.9v.9h-.9zM54.2 273.8h.9v.9h-.9zM48.4 274.3h.9v.9h-.9zM47.2 272.5h.9v.9h-.9zM54.5 276.4h.9v.9h-.9zM59.1 271.7h.9v.9h-.9zM36.9 272.7h.9v.9h-.9zM52.6 278.7h.9v.9h-.9zM49.6 268.3h.9v.9h-.9zM44.8 274.3h.9v.9h-.9zM48.4 272.2h.9v.9h-.9zM37.1 272.7h.9v.9h-.9zM48.1 271.1h.9v.9h-.9zM55.5 271.8h.9v.9h-.9zM47.7 270.5h.9v.9h-.9zM40.7 269.2h.9v.9h-.9zM54.9 271.5h.9v.9h-.9zM49.4 272.2h.9v.9h-.9zM54.3 277.9h.9v.9h-.9zM41.5 278.7h.9v.9h-.9zM47.4 278.0h.9v.9h-.9zM44.5 273.4h.9v.9h-.9zM37.5 271.7h.9v.9h-.9zM36.3 271.3h.9v.9h-.9zM50.1 269.2h.9v.9h-.9zM40.5 278.1h.9v.9h-.9zM49.1 274.8h.9v.9h-.9zM40.7 278.7h.9v.9h-.9zM42.3 269.3h.9v.9h-.9zM46.3 274.9h.9v.9h-.9zM50.2 269.6h.9v.9h-.9zM55.8 272.0h.9v.9h-.9zM59.4 272.5h.9v.9h-.9zM36.2 268.5h.9v.9h-.9zM44.4 276.2h.9v.9h-.9zM47.2 277.8h.9v.9h-.9zM57.0 278.0h.9v.9h-.9zM50.9 278.7h.9v.9h-.9zM52.5 269.2h.9v.9h-.9zM43.2 270.8h.9v.9h-.9zM37.7 278.6h.9v.9h-.9zM47.7 270.2h.9v.9h-.9zM55.9 272.4h.9v.9h-.9zM41.2 276.4h.9v.9h-.9zM39.7 278.9h.9v.9h-.9zM58.1 268.8h.9v.9h-.9zM48.8 268.5h.9v.9h-.9zM57.6 271.1h.9v.9h-.9zM47.9 276.6h.9v.9h-.9zM53.8 273.7h.9v.9h-.9zM38.0 271.8h.9v.9h-.9zM35.7 270.4h.9v.9h-.9zM53.5 274.9h.9v.9h-.9zM46.1 275.6h.9v.9h-.9zM46.8 272.4h.9v.9h-.9zM44.9 272.4h.9v.9h-.9zM44.7 273.2h.9v.9h-.9zM54.9 278.6h.9v.9h-.9zM57.0 273.5h.9v.9h-.9zM57.5 277.3h.9v.9h-.9zM39.3 277.6h.9v.9h-.9zM37.4 275.2h.9v.9h-.9zM44.5 276.7h.9v.9h-.9zM54.2 279.1h.9v.9h-.9zM57.8 272.5h.9v.9h-.9zM36.1 269.0h.9v.9h-.9zM58.9 271.8h.9v.9h-.9zM41.2 269.5h.9v.9h-.9zM44.3 271.9h.9v.9h-.9zM53.2 270.2h.9v.9h-.9zM46.4 278.3h.9v.9h-.9zM46.1 269.9h.9v.9h-.9zM45.6 271.0h.9v.9h-.9zM36.2 274.7h.9v.9h-.9zM42.7 277.3h.9v.9h-.9zM41.8 269.4h.9v.9h-.9zM46.5 273.6h.9v.9h-.9zM39.2 274.0h.9v.9h-.9zM50.7 277.1h.9v.9h-.9zM57.8 274.5h.9v.9h-.9zM114.7 279.3h.9v.9h-.9zM88.1 268.4h.9v.9h-.9zM66.0 268.4h.9v.9h-.9zM114.5 269.1h.9v.9h-.9zM88.7 279.1h.9v.9h-.9zM59.7 269.0h.9v.9h-.9zM83.3 279.0h.9v.9h-.9zM97.3 268.3h.9v.9h-.9zM106.5 268.3h.9v.9h-.9zM118.2 268.9h.9v.9h-.9zM73.1 268.8h.9v.9h-.9zM98.0 278.6h.9v.9h-.9zM115.1 279.1h.9v.9h-.9zM81.7 279.4h.9v.9h-.9zM65.5 268.6h.9v.9h-.9zM117.1 278.7h.9v.9h-.9zM62.0 268.9h.9v.9h-.9zM83.1 269.1h.9v.9h-.9zM67.5 279.4h.9v.9h-.9zM111.0 269.0h.9v.9h-.9zM78.8 279.3h.9v.9h-.9zM93.4 268.7h.9v.9h-.9zM75.6 268.2h.9v.9h-.9zM66.3 268.4h.9v.9h-.9zM60.8 279.3h.9v.9h-.9zM60.7 268.7h.9v.9h-.9zM105.9 268.3h.9v.9h-.9zM62.5 279.0h.9v.9h-.9zM66.8 268.3h.9v.9h-.9zM116.4 279.1h.9v.9h-.9zM70.4 279.5h.9v.9h-.9zM105.3 268.7h.9v.9h-.9zM85.7 279.3h.9v.9h-.9zM86.0 279.3h.9v.9h-.9zM113.3 269.0h.9v.9h-.9zM122.8 278.8h.9v.9h-.9zM103.3 268.2h.9v.9h-.9zM64.1 268.6h.9v.9h-.9zM74.4 278.9h.9v.9h-.9zM101.3 269.0h.9v.9h-.9zM61.8 278.8h.9v.9h-.9zM101.0 269.0h.9v.9h-.9zM76.1 268.7h.9v.9h-.9zM78.5 268.5h.9v.9h-.9zM63.5 279.5h.9v.9h-.9zM65.1 279.5h.9v.9h-.9zM67.7 278.8h.9v.9h-.9zM97.7 279.3h.9v.9h-.9zM115.0 279.1h.9v.9h-.9zM72.8 279.0h.9v.9h-.9zM100.0 268.6h.9v.9h-.9zM81.6 279.1h.9v.9h-.9zM60.3 268.5h.9v.9h-.9zM80.9 268.5h.9v.9h-.9zM79.1 268.9h.9v.9h-.9zM99.5 279.2h.9v.9h-.9zM114.6 268.5h.9v.9h-.9zM124.8 279.5h.9v.9h-.9zM81.8 279.2h.9v.9h-.9zM113.7 279.3h.9v.9h-.9zM77.3 268.8h.9v.9h-.9zM86.8 268.3h.9v.9h-.9zM92.4 279.1h.9v.9h-.9zM115.6 268.4h.9v.9h-.9zM84.6 279.0h.9v.9h-.9zM78.9 279.1h.9v.9h-.9zM102.3 279.3h.9v.9h-.9zM84.7 268.5h.9v.9h-.9zM88.3 278.8h.9v.9h-.9zM80.9 279.4h.9v.9h-.9zM73.0 268.6h.9v.9h-.9zM61.2 279.4h.9v.9h-.9zM120.3 279.1h.9v.9h-.9zM93.7 279.2h.9v.9h-.9zM90.2 279.2h.9v.9h-.9zM122.1 268.8h.9v.9h-.9zM86.6 268.7h.9v.9h-.9zM117.6 279.0h.9v.9h-.9zM110.2 269.0h.9v.9h-.9zM70.8 279.5h.9v.9h-.9zM93.4 279.4h.9v.9h-.9zM113.7 279.4h.9v.9h-.9zM101.2 268.7h.9v.9h-.9zM92.9 268.3h.9v.9h-.9zM82.9 269.1h.9v.9h-.9zM105.2 268.2h.9v.9h-.9zM120.1 268.5h.9v.9h-.9zM103.6 279.0h.9v.9h-.9zM117.0 269.0h.9v.9h-.9zM97.5 268.6h.9v.9h-.9zM93.8 268.7h.9v.9h-.9zM70.8 279.4h.9v.9h-.9zM112.8 278.6h.9v.9h-.9zM69.0 268.4h.9v.9h-.9zM77.1 268.2h.9v.9h-.9zM82.6 268.6h.9v.9h-.9zM74.1 268.5h.9v.9h-.9zM88.6 268.8h.9v.9h-.9zM70.1 268.7h.9v.9h-.9zM118.9 278.9h.9v.9h-.9zM122.9 268.6h.9v.9h-.9zM104.3 279.1h.9v.9h-.9zM80.0 269.0h.9v.9h-.9zM65.3 268.3h.9v.9h-.9zM123.7 268.4h.9v.9h-.9zM133.5 278.0h1.1v1.1h-1.1zM133.5 275.5h1.1v1.1h-1.1zM148.5 272.9h1.1v1.1h-1.1zM147.4 274.4h1.1v1.1h-1.1zM134.7 273.4h1.1v1.1h-1.1zM133.7 273.0h1.1v1.1h-1.1zM132.1 268.3h1.1v1.1h-1.1zM144.8 270.8h1.1v1.1h-1.1zM128.6 270.3h1.1v1.1h-1.1zM138.5 277.0h1.1v1.1h-1.1zM138.8 273.4h1.1v1.1h-1.1zM144.5 270.8h1.1v1.1h-1.1zM134.3 270.5h1.1v1.1h-1.1z"/>
<line x1="29.20" y1="274.50" x2="67.50" y2="274.50" stroke="#383838" stroke-width="0.90"/>
<line x1="99.50" y1="274.50" x2="140.00" y2="274.50" stroke="#383838" stroke-width="0.90"/>
<rect x="67.50" y="269.50" width="32.00" height="9.00" fill="#f9da86" fill-opacity="0.90" stroke="#333" stroke-width="0.75"/>
<line x1="82.50" y1="269.50" x2="82.50" y2="278.50" stroke="#333" stroke-width="0.90"/>
<line x1="91.50" y1="241.30" x2="91.50" y2="304.60" stroke="#3f8f4f" stroke-width="0.75" stroke-dasharray="1.8,1.5,0.5,1.5" opacity="0.85"/>
<line x1="128.70" y1="241.30" x2="128.70" y2="304.60" stroke="#b33a30" stroke-width="0.90" opacity="0.85"/>
<circle cx="97.80" cy="274.50" r="1.45" fill="#fff" stroke="#333" stroke-width="0.45"/>
<line x1="21.50" y1="241.30" x2="21.50" y2="304.60" stroke="#7a7a7a" stroke-width="0.90"/>
<line x1="21.50" y1="304.60" x2="160.00" y2="304.60" stroke="#7a7a7a" stroke-width="0.90"/>
<line x1="27.40" y1="304.60" x2="27.40" y2="305.90" stroke="#333" stroke-width="0.60"/>
<text transform="translate(31.10,309.90) rotate(-45)" text-anchor="end" font-size="4.3" fill="#4a4a4a" stroke="#4a4a4a" stroke-width="0.0">0.05</text>
<line x1="56.30" y1="304.60" x2="56.30" y2="305.90" stroke="#333" stroke-width="0.60"/>
<text transform="translate(60.00,309.90) rotate(-45)" text-anchor="end" font-size="4.3" fill="#4a4a4a" stroke="#4a4a4a" stroke-width="0.0">0.15</text>
<line x1="91.50" y1="304.60" x2="91.50" y2="305.90" stroke="#333" stroke-width="0.60"/>
<text transform="translate(95.20,309.90) rotate(-45)" text-anchor="end" font-size="4.3" fill="#4a4a4a" stroke="#4a4a4a" stroke-width="0.0">5</text>
<line x1="128.50" y1="304.60" x2="128.50" y2="305.90" stroke="#333" stroke-width="0.60"/>
<text transform="translate(132.20,309.90) rotate(-45)" text-anchor="end" font-size="4.3" fill="#4a4a4a" stroke="#4a4a4a" stroke-width="0.0">30</text>
<line x1="150.50" y1="304.60" x2="150.50" y2="305.90" stroke="#333" stroke-width="0.60"/>
<text transform="translate(154.20,309.90) rotate(-45)" text-anchor="end" font-size="4.3" fill="#4a4a4a" stroke="#4a4a4a" stroke-width="0.0">150</text>
<line x1="20.20" y1="274.50" x2="21.50" y2="274.50" stroke="#333" stroke-width="0.60"/>
<text x="19.80" y="273.80" text-anchor="end" font-size="4.4" fill="#4a4a4a" stroke="#4a4a4a" stroke-width="0.0">Uranium</text>
<text x="19.80" y="278.60" text-anchor="end" font-size="4.4" fill="#4a4a4a" stroke="#4a4a4a" stroke-width="0.0">(N=4,168)</text>
<line x1="214.50" y1="2.00" x2="214.50" y2="64.20" stroke="#f7f7f7" stroke-width="0.50"/>
<line x1="246.70" y1="2.00" x2="246.70" y2="64.20" stroke="#f7f7f7" stroke-width="0.50"/>
<line x1="279.40" y1="2.00" x2="279.40" y2="64.20" stroke="#f7f7f7" stroke-width="0.50"/>
<line x1="307.50" y1="2.00" x2="307.50" y2="64.20" stroke="#f7f7f7" stroke-width="0.50"/>
<line x1="197.40" y1="2.00" x2="197.40" y2="64.20" stroke="#ededed" stroke-width="0.60"/>
<line x1="230.40" y1="2.00" x2="230.40" y2="64.20" stroke="#ededed" stroke-width="0.60"/>
<line x1="263.60" y1="2.00" x2="263.60" y2="64.20" stroke="#ededed" stroke-width="0.60"/>
<line x1="296.60" y1="2.00" x2="296.60" y2="64.20" stroke="#ededed" stroke-width="0.60"/>
<line x1="318.50" y1="2.00" x2="318.50" y2="64.20" stroke="#ededed" stroke-width="0.60"/>
<line x1="189.60" y1="34.50" x2="328.30" y2="34.50" stroke="#ededed" stroke-width="0.60"/>
<path d="M197.40,24.30C197.42,22.83 197.40,16.80 197.50,15.50C197.77,14.20 198.42,15.67 199.00,16.50C199.58,17.33 200.25,19.28 201.00,20.50C201.75,21.72 202.00,23.20 203.50,23.80C205.00,24.40 208.08,24.13 210.00,24.10C211.92,24.07 213.33,23.63 215.00,23.60C216.67,23.57 217.50,23.83 220.00,23.90C222.50,23.97 226.67,24.05 230.00,24.00C233.33,23.95 236.67,23.70 240.00,23.60C243.33,23.50 247.50,23.43 250.00,23.40C252.50,23.37 253.33,23.60 255.00,23.40C256.67,23.20 258.33,22.77 260.00,22.20C261.67,21.63 263.13,20.77 265.00,20.00C266.87,19.23 269.03,18.38 271.20,17.60C273.37,16.82 275.53,16.43 278.00,15.30C280.47,14.17 284.00,12.27 286.00,10.80C288.00,9.33 288.63,7.97 290.00,6.50C291.37,5.03 293.03,2.33 294.20,2.00C295.37,1.67 296.03,3.17 297.00,4.50C297.97,5.83 298.83,8.08 300.00,10.00C301.17,11.92 302.67,14.17 304.00,16.00C305.33,17.83 306.83,19.70 308.00,21.00C309.17,22.30 309.42,23.25 311.00,23.80C312.58,24.35 316.42,24.22 317.50,24.30L317.50,24.30L197.40,24.30Z" fill="#3b74b5"/>
<line x1="197.40" y1="24.30" x2="317.50" y2="24.30" stroke="#4a4a4a" stroke-width="0.60"/>
<path d="M197.40,24.30C197.42,22.83 197.40,16.80 197.50,15.50C197.77,14.20 198.42,15.67 199.00,16.50C199.58,17.33 200.25,19.28 201.00,20.50C201.75,21.72 202.00,23.20 203.50,23.80C205.00,24.40 208.08,24.13 210.00,24.10C211.92,24.07 213.33,23.63 215.00,23.60C216.67,23.57 217.50,23.83 220.00,23.90C222.50,23.97 226.67,24.05 230.00,24.00C233.33,23.95 236.67,23.70 240.00,23.60C243.33,23.50 247.50,23.43 250.00,23.40C252.50,23.37 253.33,23.60 255.00,23.40C256.67,23.20 258.33,22.77 260.00,22.20C261.67,21.63 263.13,20.77 265.00,20.00C266.87,19.23 269.03,18.38 271.20,17.60C273.37,16.82 275.53,16.43 278.00,15.30C280.47,14.17 284.00,12.27 286.00,10.80C288.00,9.33 288.63,7.97 290.00,6.50C291.37,5.03 293.03,2.33 294.20,2.00C295.37,1.67 296.03,3.17 297.00,4.50C297.97,5.83 298.83,8.08 300.00,10.00C301.17,11.92 302.67,14.17 304.00,16.00C305.33,17.83 306.83,19.70 308.00,21.00C309.17,22.30 309.42,23.25 311.00,23.80C312.58,24.35 316.42,24.22 317.50,24.30" fill="none" stroke="#333" stroke-width="0.5"/>
<rect x="210.00" y="28.60" width="26.00" height="10.80" fill="#2a5ea8" fill-opacity="0.38"/>
<rect x="236.00" y="28.60" width="20.00" height="10.80" fill="#2a5ea8" fill-opacity="0.45"/>
<rect x="256.00" y="28.80" width="54.00" height="10.40" fill="#2a5ea8"/>
<rect x="310.00" y="28.60" width="3.00" height="10.80" fill="#2a5ea8" fill-opacity="0.30"/>
<rect x="196.88" y="28.40" width="1.05" height="11.20" fill="#2a5ea8" fill-opacity="1.00"/>
<rect x="197.38" y="28.40" width="1.05" height="11.20" fill="#2a5ea8" fill-opacity="1.00"/>
<rect x="202.78" y="28.40" width="1.05" height="11.20" fill="#2a5ea8" fill-opacity="0.60"/>
<rect x="206.38" y="28.40" width="1.05" height="11.20" fill="#2a5ea8" fill-opacity="0.60"/>
<rect x="208.38" y="28.40" width="1.05" height="11.20" fill="#2a5ea8" fill-opacity="0.60"/>
<path fill="#2a5ea8" fill-opacity="0.8" d="M220.1 35.1h.9v.9h-.9zM224.6 31.2h.9v.9h-.9zM221.9 30.1h.9v.9h-.9zM231.9 35.6h.9v.9h-.9zM234.0 39.4h.9v.9h-.9zM225.0 32.8h.9v.9h-.9zM235.3 34.0h.9v.9h-.9zM220.1 33.7h.9v.9h-.9zM212.8 36.5h.9v.9h-.9zM227.2 28.7h.9v.9h-.9zM231.7 36.3h.9v.9h-.9zM229.4 28.0h.9v.9h-.9zM228.2 29.4h.9v.9h-.9zM209.9 36.0h.9v.9h-.9zM227.6 36.8h.9v.9h-.9zM215.6 29.9h.9v.9h-.9zM232.7 28.5h.9v.9h-.9zM233.3 37.2h.9v.9h-.9zM229.3 29.9h.9v.9h-.9zM228.2 28.7h.9v.9h-.9zM217.1 37.3h.9v.9h-.9zM219.9 31.8h.9v.9h-.9zM231.5 33.1h.9v.9h-.9zM225.9 35.1h.9v.9h-.9zM232.0 38.7h.9v.9h-.9zM214.1 32.0h.9v.9h-.9zM230.3 35.8h.9v.9h-.9zM232.9 27.9h.9v.9h-.9zM227.8 33.1h.9v.9h-.9zM235.5 32.4h.9v.9h-.9zM233.1 28.8h.9v.9h-.9zM217.1 30.8h.9v.9h-.9zM225.4 30.2h.9v.9h-.9zM227.2 32.4h.9v.9h-.9zM225.4 32.7h.9v.9h-.9zM229.2 29.5h.9v.9h-.9zM228.7 34.2h.9v.9h-.9zM225.9 38.8h.9v.9h-.9zM224.2 30.3h.9v.9h-.9zM222.5 33.8h.9v.9h-.9zM233.6 35.6h.9v.9h-.9zM224.5 38.7h.9v.9h-.9zM212.5 36.7h.9v.9h-.9zM226.6 38.3h.9v.9h-.9zM232.3 34.6h.9v.9h-.9zM227.6 39.1h.9v.9h-.9zM227.3 28.1h.9v.9h-.9zM217.8 36.8h.9v.9h-.9zM218.5 38.4h.9v.9h-.9zM220.4 36.4h.9v.9h-.9zM235.5 34.9h.9v.9h-.9zM215.3 33.9h.9v.9h-.9zM218.6 38.9h.9v.9h-.9zM221.1 31.7h.9v.9h-.9zM222.6 35.8h.9v.9h-.9zM231.4 35.0h.9v.9h-.9zM222.8 35.6h.9v.9h-.9zM214.9 35.6h.9v.9h-.9zM231.6 36.8h.9v.9h-.9zM222.3 29.9h.9v.9h-.9zM234.3 37.4h.9v.9h-.9zM224.1 29.7h.9v.9h-.9zM213.8 36.9h.9v.9h-.9zM215.7 30.7h.9v.9h-.9zM234.6 29.6h.9v.9h-.9zM218.6 28.7h.9v.9h-.9zM226.1 29.3h.9v.9h-.9zM227.4 33.4h.9v.9h-.9zM222.1 36.0h.9v.9h-.9zM209.7 35.8h.9v.9h-.9zM213.0 35.2h.9v.9h-.9zM227.7 29.2h.9v.9h-.9zM228.0 34.6h.9v.9h-.9zM215.8 35.1h.9v.9h-.9zM212.6 32.7h.9v.9h-.9zM234.0 35.6h.9v.9h-.9zM213.6 39.2h.9v.9h-.9zM231.4 32.4h.9v.9h-.9zM214.9 35.8h.9v.9h-.9zM209.9 33.4h.9v.9h-.9zM210.7 38.2h.9v.9h-.9zM217.5 29.0h.9v.9h-.9zM217.6 39.0h.9v.9h-.9zM213.7 32.9h.9v.9h-.9zM224.3 31.1h.9v.9h-.9zM224.0 28.2h.9v.9h-.9zM221.7 39.2h.9v.9h-.9zM222.2 36.5h.9v.9h-.9zM218.2 36.4h.9v.9h-.9zM216.4 35.3h.9v.9h-.9zM234.4 33.4h.9v.9h-.9zM229.9 31.4h.9v.9h-.9zM218.9 28.7h.9v.9h-.9zM217.0 34.9h.9v.9h-.9zM228.5 35.9h.9v.9h-.9zM226.5 28.6h.9v.9h-.9zM229.0 27.9h.9v.9h-.9zM219.8 29.4h.9v.9h-.9zM219.1 39.0h.9v.9h-.9zM223.2 38.2h.9v.9h-.9zM227.3 28.9h.9v.9h-.9zM228.2 31.3h.9v.9h-.9zM225.6 32.1h.9v.9h-.9zM226.4 31.9h.9v.9h-.9zM215.5 29.3h.9v.9h-.9zM233.5 37.5h.9v.9h-.9zM216.1 28.3h.9v.9h-.9zM212.3 37.1h.9v.9h-.9zM233.5 39.4h.9v.9h-.9zM220.0 28.2h.9v.9h-.9zM215.2 32.6h.9v.9h-.9zM228.5 39.4h.9v.9h-.9zM225.2 35.0h.9v.9h-.9zM213.2 30.3h.9v.9h-.9zM213.1 35.2h.9v.9h-.9zM220.0 39.2h.9v.9h-.9zM231.7 33.3h.9v.9h-.9zM215.2 32.0h.9v.9h-.9zM210.4 34.9h.9v.9h-.9zM231.2 33.7h.9v.9h-.9zM213.3 28.5h.9v.9h-.9zM211.0 36.0h.9v.9h-.9zM232.7 28.4h.9v.9h-.9zM209.8 38.9h.9v.9h-.9zM214.1 36.2h.9v.9h-.9zM219.4 27.7h.9v.9h-.9zM230.5 35.6h.9v.9h-.9zM224.3 33.2h.9v.9h-.9zM223.7 33.7h.9v.9h-.9zM220.7 34.0h.9v.9h-.9zM225.8 29.5h.9v.9h-.9zM220.0 34.8h.9v.9h-.9zM211.7 37.2h.9v.9h-.9zM228.3 31.6h.9v.9h-.9zM226.7 34.3h.9v.9h-.9zM220.5 32.0h.9v.9h-.9zM226.6 29.3h.9v.9h-.9zM232.0 33.9h.9v.9h-.9zM226.0 37.7h.9v.9h-.9zM215.3 36.4h.9v.9h-.9zM227.5 29.4h.9v.9h-.9zM224.6 34.2h.9v.9h-.9zM234.1 31.9h.9v.9h-.9zM215.8 32.9h.9v.9h-.9zM216.3 30.3h.9v.9h-.9zM234.7 30.0h.9v.9h-.9zM229.0 30.3h.9v.9h-.9zM231.3 35.3h.9v.9h-.9zM214.4 35.6h.9v.9h-.9zM228.0 30.3h.9v.9h-.9zM221.5 34.0h.9v.9h-.9zM227.7 36.3h.9v.9h-.9zM233.2 34.3h.9v.9h-.9zM231.7 35.7h.9v.9h-.9zM230.4 29.2h.9v.9h-.9zM222.6 33.6h.9v.9h-.9zM252.3 38.8h.9v.9h-.9zM248.1 39.0h.9v.9h-.9zM245.9 33.1h.9v.9h-.9zM249.3 34.1h.9v.9h-.9zM254.9 29.9h.9v.9h-.9zM245.1 28.7h.9v.9h-.9zM243.0 35.0h.9v.9h-.9zM243.6 28.2h.9v.9h-.9zM236.4 35.9h.9v.9h-.9zM254.7 33.1h.9v.9h-.9zM238.0 29.3h.9v.9h-.9zM253.7 28.7h.9v.9h-.9zM255.3 30.0h.9v.9h-.9zM237.8 36.2h.9v.9h-.9zM242.6 32.0h.9v.9h-.9zM252.4 37.1h.9v.9h-.9zM250.3 27.8h.9v.9h-.9zM240.7 30.5h.9v.9h-.9zM245.8 33.8h.9v.9h-.9zM242.7 33.4h.9v.9h-.9zM251.9 31.8h.9v.9h-.9zM242.7 31.5h.9v.9h-.9zM247.6 28.1h.9v.9h-.9zM253.8 30.5h.9v.9h-.9zM242.6 35.8h.9v.9h-.9zM236.0 39.3h.9v.9h-.9zM244.3 37.0h.9v.9h-.9zM245.3 28.5h.9v.9h-.9zM240.7 29.4h.9v.9h-.9zM254.2 38.0h.9v.9h-.9zM248.9 37.5h.9v.9h-.9zM247.3 30.6h.9v.9h-.9zM255.5 36.6h.9v.9h-.9zM240.9 32.9h.9v.9h-.9zM236.0 39.4h.9v.9h-.9zM245.3 33.4h.9v.9h-.9zM236.2 37.5h.9v.9h-.9zM237.0 35.0h.9v.9h-.9zM248.4 34.7h.9v.9h-.9zM252.4 39.1h.9v.9h-.9zM249.4 32.9h.9v.9h-.9zM240.1 39.0h.9v.9h-.9zM245.9 31.9h.9v.9h-.9zM246.1 31.3h.9v.9h-.9zM238.2 35.0h.9v.9h-.9zM239.8 37.3h.9v.9h-.9zM250.1 31.6h.9v.9h-.9zM244.9 38.7h.9v.9h-.9zM241.8 31.6h.9v.9h-.9zM245.2 30.3h.9v.9h-.9zM240.5 38.0h.9v.9h-.9zM247.7 35.1h.9v.9h-.9zM250.1 29.3h.9v.9h-.9zM243.2 28.4h.9v.9h-.9zM255.4 31.9h.9v.9h-.9zM247.0 34.5h.9v.9h-.9zM238.3 35.9h.9v.9h-.9zM253.9 38.3h.9v.9h-.9zM237.5 30.0h.9v.9h-.9zM244.1 34.4h.9v.9h-.9zM237.5 37.0h.9v.9h-.9zM251.4 30.5h.9v.9h-.9zM251.5 29.3h.9v.9h-.9zM237.0 39.0h.9v.9h-.9zM242.4 31.9h.9v.9h-.9zM252.6 30.5h.9v.9h-.9zM253.0 36.1h.9v.9h-.9zM242.2 36.0h.9v.9h-.9zM249.0 38.1h.9v.9h-.9zM251.2 33.6h.9v.9h-.9zM253.4 37.2h.9v.9h-.9zM255.5 29.4h.9v.9h-.9zM239.7 38.1h.9v.9h-.9zM249.0 32.4h.9v.9h-.9zM243.5 36.8h.9v.9h-.9zM254.1 34.6h.9v.9h-.9zM238.4 36.1h.9v.9h-.9zM240.6 34.4h.9v.9h-.9zM248.7 39.0h.9v.9h-.9zM237.0 29.9h.9v.9h-.9zM254.0 34.6h.9v.9h-.9zM241.6 31.8h.9v.9h-.9zM244.9 39.1h.9v.9h-.9zM249.4 36.2h.9v.9h-.9zM254.0 37.5h.9v.9h-.9zM241.9 29.7h.9v.9h-.9zM253.5 34.1h.9v.9h-.9zM250.7 35.0h.9v.9h-.9zM240.3 27.9h.9v.9h-.9zM236.5 32.9h.9v.9h-.9zM253.4 31.0h.9v.9h-.9zM245.6 28.8h.9v.9h-.9zM240.4 28.3h.9v.9h-.9zM238.1 28.2h.9v.9h-.9zM237.0 37.3h.9v.9h-.9zM247.1 36.1h.9v.9h-.9zM235.7 30.8h.9v.9h-.9zM248.4 27.8h.9v.9h-.9zM242.0 28.0h.9v.9h-.9zM242.0 37.9h.9v.9h-.9zM236.1 33.4h.9v.9h-.9zM247.7 37.1h.9v.9h-.9zM239.0 37.8h.9v.9h-.9zM251.5 28.7h.9v.9h-.9zM247.8 36.8h.9v.9h-.9zM255.3 32.4h.9v.9h-.9zM254.4 38.0h.9v.9h-.9zM236.1 31.4h.9v.9h-.9zM248.6 31.3h.9v.9h-.9zM243.9 36.0h.9v.9h-.9zM252.2 29.5h.9v.9h-.9zM235.9 30.1h.9v.9h-.9zM246.1 37.6h.9v.9h-.9zM242.7 31.9h.9v.9h-.9zM242.4 35.7h.9v.9h-.9zM252.9 29.5h.9v.9h-.9zM255.2 34.4h.9v.9h-.9zM240.2 35.0h.9v.9h-.9zM251.8 33.3h.9v.9h-.9zM236.2 35.3h.9v.9h-.9zM248.6 34.1h.9v.9h-.9zM249.7 34.2h.9v.9h-.9zM242.8 33.9h.9v.9h-.9zM241.0 30.6h.9v.9h-.9zM246.7 28.8h.9v.9h-.9zM251.7 39.2h.9v.9h-.9zM238.6 35.1h.9v.9h-.9zM243.6 39.2h.9v.9h-.9zM254.3 35.0h.9v.9h-.9zM238.0 34.1h.9v.9h-.9zM239.6 36.8h.9v.9h-.9zM240.7 34.8h.9v.9h-.9zM250.3 38.3h.9v.9h-.9zM253.0 37.7h.9v.9h-.9zM251.1 33.9h.9v.9h-.9zM242.6 36.0h.9v.9h-.9zM244.4 37.8h.9v.9h-.9zM239.8 38.4h.9v.9h-.9zM253.6 32.2h.9v.9h-.9zM239.8 37.0h.9v.9h-.9zM236.1 35.4h.9v.9h-.9zM235.9 37.2h.9v.9h-.9zM253.8 35.6h.9v.9h-.9zM242.6 30.3h.9v.9h-.9zM275.9 28.6h.9v.9h-.9zM257.2 27.7h.9v.9h-.9zM268.0 39.2h.9v.9h-.9zM271.7 28.6h.9v.9h-.9zM281.3 28.6h.9v.9h-.9zM300.0 38.8h.9v.9h-.9zM302.6 38.8h.9v.9h-.9zM267.0 39.2h.9v.9h-.9zM258.0 38.9h.9v.9h-.9zM302.2 28.6h.9v.9h-.9zM299.0 27.8h.9v.9h-.9zM304.8 27.8h.9v.9h-.9zM296.1 38.8h.9v.9h-.9zM273.9 39.2h.9v.9h-.9zM308.5 27.7h.9v.9h-.9zM257.6 38.7h.9v.9h-.9zM293.3 38.5h.9v.9h-.9zM259.0 27.8h.9v.9h-.9zM283.9 27.7h.9v.9h-.9zM289.7 39.4h.9v.9h-.9zM300.9 28.6h.9v.9h-.9zM301.6 28.6h.9v.9h-.9zM270.3 27.8h.9v.9h-.9zM307.7 38.5h.9v.9h-.9zM270.0 38.5h.9v.9h-.9zM284.9 39.1h.9v.9h-.9zM277.1 28.0h.9v.9h-.9zM276.5 28.0h.9v.9h-.9zM304.0 38.7h.9v.9h-.9zM293.0 28.4h.9v.9h-.9zM291.4 27.7h.9v.9h-.9zM304.6 39.1h.9v.9h-.9zM292.5 39.1h.9v.9h-.9zM308.0 39.2h.9v.9h-.9zM283.1 28.2h.9v.9h-.9zM300.1 39.3h.9v.9h-.9zM294.0 39.0h.9v.9h-.9zM259.4 39.1h.9v.9h-.9zM269.7 39.3h.9v.9h-.9zM283.7 28.1h.9v.9h-.9zM259.1 28.4h.9v.9h-.9zM284.0 28.5h.9v.9h-.9zM263.8 28.3h.9v.9h-.9zM272.9 39.3h.9v.9h-.9zM262.2 27.8h.9v.9h-.9zM275.2 39.0h.9v.9h-.9zM280.0 38.8h.9v.9h-.9zM293.1 28.1h.9v.9h-.9zM296.5 39.1h.9v.9h-.9zM281.9 39.1h.9v.9h-.9zM298.8 27.9h.9v.9h-.9zM286.4 38.6h.9v.9h-.9zM305.1 38.7h.9v.9h-.9zM260.5 28.3h.9v.9h-.9zM262.5 38.7h.9v.9h-.9zM305.3 28.4h.9v.9h-.9zM294.0 38.9h.9v.9h-.9zM274.6 28.0h.9v.9h-.9zM308.3 28.5h.9v.9h-.9zM291.5 38.5h.9v.9h-.9zM276.0 28.2h.9v.9h-.9zM261.4 39.4h.9v.9h-.9zM278.0 39.3h.9v.9h-.9zM277.0 27.8h.9v.9h-.9zM291.8 28.4h.9v.9h-.9zM305.5 38.8h.9v.9h-.9zM297.1 27.8h.9v.9h-.9zM286.4 27.7h.9v.9h-.9zM286.0 39.1h.9v.9h-.9zM281.6 39.1h.9v.9h-.9zM301.1 27.8h.9v.9h-.9zM302.6 27.8h.9v.9h-.9zM265.6 28.2h.9v.9h-.9zM272.5 39.3h.9v.9h-.9zM283.1 38.5h.9v.9h-.9zM269.0 38.9h.9v.9h-.9zM272.0 38.7h.9v.9h-.9zM305.9 28.3h.9v.9h-.9zM275.3 28.5h.9v.9h-.9zM294.9 38.5h.9v.9h-.9zM257.5 27.9h.9v.9h-.9zM293.9 39.0h.9v.9h-.9zM277.5 28.4h.9v.9h-.9zM258.7 28.1h.9v.9h-.9zM262.9 39.3h.9v.9h-.9zM265.3 28.6h.9v.9h-.9zM311.0 35.6h.9v.9h-.9zM311.6 31.1h.9v.9h-.9zM310.2 37.5h.9v.9h-.9zM310.0 38.5h.9v.9h-.9zM310.2 28.8h.9v.9h-.9zM309.8 36.9h.9v.9h-.9zM312.4 32.5h.9v.9h-.9zM311.5 30.7h.9v.9h-.9zM312.3 35.7h.9v.9h-.9zM310.0 28.3h.9v.9h-.9zM311.6 28.1h.9v.9h-.9zM312.1 31.1h.9v.9h-.9zM310.2 34.5h.9v.9h-.9zM310.5 34.3h.9v.9h-.9z"/>
<line x1="237.00" y1="34.50" x2="271.50" y2="34.50" stroke="#383838" stroke-width="0.90"/>
<line x1="294.50" y1="34.50" x2="316.80" y2="34.50" stroke="#383838" stroke-width="0.90"/>
<rect x="271.50" y="30.50" width="23.00" height="8.00" fill="#2458a6" fill-opacity="0.90" stroke="#333" stroke-width="0.75"/>
<line x1="286.50" y1="30.50" x2="286.50" y2="38.50" stroke="#333" stroke-width="0.90"/>
<line x1="297.80" y1="2.00" x2="297.80" y2="64.20" stroke="#3f8f4f" stroke-width="0.75" stroke-dasharray="1.8,1.5,0.5,1.5" opacity="0.85"/>
<line x1="313.60" y1="2.00" x2="313.60" y2="64.20" stroke="#b33a30" stroke-width="0.90" opacity="0.85"/>
<circle cx="291.00" cy="34.50" r="1.45" fill="#fff"/>
<line x1="189.60" y1="2.00" x2="189.60" y2="64.20" stroke="#7a7a7a" stroke-width="0.90"/>
<line x1="189.60" y1="64.20" x2="328.30" y2="64.20" stroke="#7a7a7a" stroke-width="0.90"/>
<line x1="197.40" y1="64.20" x2="197.40" y2="65.50" stroke="#333" stroke-width="0.60"/>
<text transform="translate(201.10,69.50) rotate(-45)" text-anchor="end" font-size="4.3" fill="#4a4a4a" stroke="#4a4a4a" stroke-width="0.0">0.01</text>
<line x1="230.40" y1="64.20" x2="230.40" y2="65.50" stroke="#333" stroke-width="0.60"/>
<text transform="translate(234.10,69.50) rotate(-45)" text-anchor="end" font-size="4.3" fill="#4a4a4a" stroke="#4a4a4a" stroke-width="0.0">0.37</text>
<line x1="263.60" y1="64.20" x2="263.60" y2="65.50" stroke="#333" stroke-width="0.60"/>
<text transform="translate(267.30,69.50) rotate(-45)" text-anchor="end" font-size="4.3" fill="#4a4a4a" stroke="#4a4a4a" stroke-width="0.0">15</text>
<line x1="296.60" y1="64.20" x2="296.60" y2="65.50" stroke="#333" stroke-width="0.60"/>
<text transform="translate(300.30,69.50) rotate(-45)" text-anchor="end" font-size="4.3" fill="#4a4a4a" stroke="#4a4a4a" stroke-width="0.0">500</text>
<line x1="318.50" y1="64.20" x2="318.50" y2="65.50" stroke="#333" stroke-width="0.60"/>
<text transform="translate(322.20,69.50) rotate(-45)" text-anchor="end" font-size="4.3" fill="#4a4a4a" stroke="#4a4a4a" stroke-width="0.0">7,500</text>
<line x1="188.30" y1="34.50" x2="189.60" y2="34.50" stroke="#333" stroke-width="0.60"/>
<text x="188.20" y="33.80" text-anchor="end" font-size="4.4" fill="#4a4a4a" stroke="#4a4a4a" stroke-width="0.0">Fluoride</text>
<text x="188.20" y="38.60" text-anchor="end" font-size="4.4" fill="#4a4a4a" stroke="#4a4a4a" stroke-width="0.0">(N=8,173)</text>
<line x1="214.50" y1="82.00" x2="214.50" y2="142.30" stroke="#f7f7f7" stroke-width="0.50"/>
<line x1="245.20" y1="82.00" x2="245.20" y2="142.30" stroke="#f7f7f7" stroke-width="0.50"/>
<line x1="276.60" y1="82.00" x2="276.60" y2="142.30" stroke="#f7f7f7" stroke-width="0.50"/>
<line x1="305.60" y1="82.00" x2="305.60" y2="142.30" stroke="#f7f7f7" stroke-width="0.50"/>
<line x1="199.40" y1="82.00" x2="199.40" y2="142.30" stroke="#ededed" stroke-width="0.60"/>
<line x1="229.60" y1="82.00" x2="229.60" y2="142.30" stroke="#ededed" stroke-width="0.60"/>
<line x1="260.80" y1="82.00" x2="260.80" y2="142.30" stroke="#ededed" stroke-width="0.60"/>
<line x1="292.50" y1="82.00" x2="292.50" y2="142.30" stroke="#ededed" stroke-width="0.60"/>
<line x1="318.80" y1="82.00" x2="318.80" y2="142.30" stroke="#ededed" stroke-width="0.60"/>
<line x1="189.60" y1="113.30" x2="328.30" y2="113.30" stroke="#ededed" stroke-width="0.60"/>
<path d="M199.00,103.20C199.05,102.93 199.00,101.67 199.30,101.60C199.80,101.53 200.22,102.57 202.00,102.80C203.78,103.03 207.00,102.98 210.00,103.00C213.00,103.02 217.67,103.15 220.00,102.90C222.33,102.65 222.80,102.32 224.00,101.50C225.20,100.68 226.20,98.08 227.20,98.00C228.20,97.92 229.03,100.17 230.00,101.00C230.97,101.83 231.67,102.75 233.00,103.00C234.33,103.25 236.38,102.77 238.00,102.50C239.62,102.23 241.20,101.43 242.70,101.40C244.20,101.37 244.95,102.27 247.00,102.30C249.05,102.33 251.98,101.82 255.00,101.60C258.02,101.38 262.60,101.35 265.10,101.00C267.60,100.65 268.53,100.18 270.00,99.50C271.47,98.82 272.73,98.15 273.90,96.90C275.07,95.65 275.87,93.68 277.00,92.00C278.13,90.32 279.53,87.83 280.70,86.80C281.87,85.77 282.65,86.08 284.00,85.80C285.35,85.52 287.22,85.67 288.80,85.10C290.38,84.53 292.13,82.92 293.50,82.40C294.87,81.88 295.87,82.07 297.00,82.00C298.13,81.93 299.13,81.50 300.30,82.00C301.47,82.50 302.65,83.75 304.00,85.00C305.35,86.25 307.15,87.83 308.40,89.50C309.65,91.17 310.48,92.87 311.50,95.00C312.52,97.13 313.92,100.93 314.50,102.30C315.00,103.67 314.92,103.05 315.00,103.20L315.00,103.20L199.00,103.20Z" fill="#5aa3cf"/>
<line x1="199.00" y1="103.20" x2="315.00" y2="103.20" stroke="#4a4a4a" stroke-width="0.60"/>
<path d="M199.00,103.20C199.05,102.93 199.00,101.67 199.30,101.60C199.80,101.53 200.22,102.57 202.00,102.80C203.78,103.03 207.00,102.98 210.00,103.00C213.00,103.02 217.67,103.15 220.00,102.90C222.33,102.65 222.80,102.32 224.00,101.50C225.20,100.68 226.20,98.08 227.20,98.00C228.20,97.92 229.03,100.17 230.00,101.00C230.97,101.83 231.67,102.75 233.00,103.00C234.33,103.25 236.38,102.77 238.00,102.50C239.62,102.23 241.20,101.43 242.70,101.40C244.20,101.37 244.95,102.27 247.00,102.30C249.05,102.33 251.98,101.82 255.00,101.60C258.02,101.38 262.60,101.35 265.10,101.00C267.60,100.65 268.53,100.18 270.00,99.50C271.47,98.82 272.73,98.15 273.90,96.90C275.07,95.65 275.87,93.68 277.00,92.00C278.13,90.32 279.53,87.83 280.70,86.80C281.87,85.77 282.65,86.08 284.00,85.80C285.35,85.52 287.22,85.67 288.80,85.10C290.38,84.53 292.13,82.92 293.50,82.40C294.87,81.88 295.87,82.07 297.00,82.00C298.13,81.93 299.13,81.50 300.30,82.00C301.47,82.50 302.65,83.75 304.00,85.00C305.35,86.25 307.15,87.83 308.40,89.50C309.65,91.17 310.48,92.87 311.50,95.00C312.52,97.13 313.92,100.93 314.50,102.30C315.00,103.67 314.92,103.05 315.00,103.20" fill="none" stroke="#333" stroke-width="0.5"/>
<rect x="209.00" y="107.90" width="17.00" height="10.00" fill="#3d93c8" fill-opacity="0.20"/>
<rect x="228.00" y="107.90" width="14.00" height="10.00" fill="#3d93c8" fill-opacity="0.25"/>
<rect x="243.00" y="107.90" width="13.00" height="10.00" fill="#3d93c8" fill-opacity="0.35"/>
<rect x="256.00" y="108.10" width="58.30" height="9.60" fill="#3d93c8"/>
<rect x="198.48" y="107.70" width="1.05" height="10.40" fill="#3d93c8" fill-opacity="1.00"/>
<rect x="199.08" y="107.70" width="1.05" height="10.40" fill="#3d93c8" fill-opacity="0.90"/>
<rect x="204.28" y="107.70" width="1.05" height="10.40" fill="#3d93c8" fill-opacity="0.60"/>
<rect x="206.38" y="107.70" width="1.05" height="10.40" fill="#3d93c8" fill-opacity="0.60"/>
<rect x="226.28" y="107.70" width="1.05" height="10.40" fill="#3d93c8" fill-opacity="1.00"/>
<rect x="241.58" y="107.70" width="1.05" height="10.40" fill="#3d93c8" fill-opacity="0.90"/>
<path fill="#3d93c8" fill-opacity="0.8" d="M211.2 117.0h.9v.9h-.9zM214.1 116.2h.9v.9h-.9zM211.1 115.7h.9v.9h-.9zM225.2 111.3h.9v.9h-.9zM209.1 111.1h.9v.9h-.9zM219.4 109.4h.9v.9h-.9zM217.8 108.0h.9v.9h-.9zM216.4 115.0h.9v.9h-.9zM215.9 114.4h.9v.9h-.9zM210.5 116.1h.9v.9h-.9zM210.6 117.1h.9v.9h-.9zM225.5 117.3h.9v.9h-.9zM217.5 110.1h.9v.9h-.9zM214.5 115.2h.9v.9h-.9zM217.0 117.2h.9v.9h-.9zM210.1 112.3h.9v.9h-.9zM223.2 113.5h.9v.9h-.9zM217.7 107.9h.9v.9h-.9zM210.9 109.9h.9v.9h-.9zM223.7 116.2h.9v.9h-.9zM212.4 117.1h.9v.9h-.9zM209.1 113.5h.9v.9h-.9zM225.0 110.7h.9v.9h-.9zM224.6 114.2h.9v.9h-.9zM209.4 110.6h.9v.9h-.9zM216.2 109.7h.9v.9h-.9zM221.2 108.9h.9v.9h-.9zM221.9 110.2h.9v.9h-.9zM209.7 113.1h.9v.9h-.9zM210.2 113.0h.9v.9h-.9zM221.9 113.5h.9v.9h-.9zM216.4 107.3h.9v.9h-.9zM217.3 108.0h.9v.9h-.9zM219.5 108.4h.9v.9h-.9zM218.4 110.8h.9v.9h-.9zM214.9 114.2h.9v.9h-.9zM211.3 108.8h.9v.9h-.9zM224.6 110.6h.9v.9h-.9zM222.9 116.6h.9v.9h-.9zM216.7 108.6h.9v.9h-.9zM210.1 116.6h.9v.9h-.9zM210.5 112.4h.9v.9h-.9zM217.7 108.2h.9v.9h-.9zM216.5 108.8h.9v.9h-.9zM217.7 112.5h.9v.9h-.9zM214.8 109.1h.9v.9h-.9zM215.4 109.2h.9v.9h-.9zM210.7 109.6h.9v.9h-.9zM223.4 112.5h.9v.9h-.9zM223.7 107.1h.9v.9h-.9zM240.8 112.3h.9v.9h-.9zM238.6 113.2h.9v.9h-.9zM237.2 109.5h.9v.9h-.9zM238.1 108.6h.9v.9h-.9zM231.2 107.3h.9v.9h-.9zM233.1 112.6h.9v.9h-.9zM231.6 116.7h.9v.9h-.9zM228.7 113.3h.9v.9h-.9zM230.8 113.5h.9v.9h-.9zM238.5 114.8h.9v.9h-.9zM228.4 109.7h.9v.9h-.9zM235.9 117.8h.9v.9h-.9zM228.1 113.8h.9v.9h-.9zM237.2 115.9h.9v.9h-.9zM232.3 115.9h.9v.9h-.9zM234.0 117.1h.9v.9h-.9zM227.7 117.3h.9v.9h-.9zM233.3 111.4h.9v.9h-.9zM228.8 109.6h.9v.9h-.9zM237.8 114.4h.9v.9h-.9zM229.7 110.7h.9v.9h-.9zM229.5 109.1h.9v.9h-.9zM230.6 110.6h.9v.9h-.9zM241.2 117.9h.9v.9h-.9zM238.6 112.2h.9v.9h-.9zM234.5 115.5h.9v.9h-.9zM240.3 115.2h.9v.9h-.9zM236.5 109.1h.9v.9h-.9zM236.3 116.3h.9v.9h-.9zM238.6 108.0h.9v.9h-.9zM237.6 110.8h.9v.9h-.9zM229.8 117.6h.9v.9h-.9zM237.0 115.2h.9v.9h-.9zM229.4 116.1h.9v.9h-.9zM240.7 116.9h.9v.9h-.9zM238.0 116.1h.9v.9h-.9zM238.8 113.4h.9v.9h-.9zM233.6 116.0h.9v.9h-.9zM238.5 116.5h.9v.9h-.9zM231.7 117.5h.9v.9h-.9zM235.0 117.4h.9v.9h-.9zM229.2 117.6h.9v.9h-.9zM238.6 109.7h.9v.9h-.9zM239.3 109.5h.9v.9h-.9zM230.3 112.0h.9v.9h-.9zM230.9 112.4h.9v.9h-.9zM240.3 114.5h.9v.9h-.9zM237.5 111.3h.9v.9h-.9zM238.5 115.7h.9v.9h-.9zM237.1 117.3h.9v.9h-.9zM239.1 111.4h.9v.9h-.9zM228.8 114.1h.9v.9h-.9zM253.4 110.7h.9v.9h-.9zM250.3 116.1h.9v.9h-.9zM252.9 107.0h.9v.9h-.9zM248.9 107.1h.9v.9h-.9zM244.0 115.9h.9v.9h-.9zM248.0 113.6h.9v.9h-.9zM248.5 110.6h.9v.9h-.9zM245.3 110.8h.9v.9h-.9zM253.5 113.8h.9v.9h-.9zM246.3 107.9h.9v.9h-.9zM246.1 114.7h.9v.9h-.9zM248.3 114.2h.9v.9h-.9zM253.0 108.3h.9v.9h-.9zM251.4 107.4h.9v.9h-.9zM253.2 109.0h.9v.9h-.9zM246.1 117.5h.9v.9h-.9zM247.3 109.4h.9v.9h-.9zM254.1 113.7h.9v.9h-.9zM254.2 111.3h.9v.9h-.9zM249.0 117.5h.9v.9h-.9zM249.1 117.8h.9v.9h-.9zM245.0 116.1h.9v.9h-.9zM244.7 112.7h.9v.9h-.9zM242.6 108.9h.9v.9h-.9zM254.8 112.0h.9v.9h-.9zM253.1 109.7h.9v.9h-.9zM247.1 108.1h.9v.9h-.9zM249.7 116.4h.9v.9h-.9zM249.2 111.1h.9v.9h-.9zM254.6 116.8h.9v.9h-.9zM251.2 107.8h.9v.9h-.9zM250.7 111.8h.9v.9h-.9zM255.0 110.9h.9v.9h-.9zM251.1 113.9h.9v.9h-.9zM247.4 112.7h.9v.9h-.9zM251.3 116.9h.9v.9h-.9zM249.0 111.0h.9v.9h-.9zM255.2 107.6h.9v.9h-.9zM253.4 114.5h.9v.9h-.9zM249.8 111.9h.9v.9h-.9zM252.3 116.8h.9v.9h-.9zM252.0 115.2h.9v.9h-.9zM243.0 110.5h.9v.9h-.9zM244.3 117.4h.9v.9h-.9zM254.1 108.5h.9v.9h-.9zM250.2 113.3h.9v.9h-.9zM243.2 111.3h.9v.9h-.9zM252.3 114.0h.9v.9h-.9zM246.2 115.3h.9v.9h-.9zM246.3 112.9h.9v.9h-.9zM248.0 117.7h.9v.9h-.9zM251.0 115.8h.9v.9h-.9zM251.3 111.1h.9v.9h-.9zM255.1 114.8h.9v.9h-.9zM251.5 110.0h.9v.9h-.9zM244.7 113.3h.9v.9h-.9zM253.3 115.7h.9v.9h-.9zM247.1 108.5h.9v.9h-.9zM249.3 116.6h.9v.9h-.9zM244.7 115.1h.9v.9h-.9zM244.8 110.4h.9v.9h-.9zM243.2 110.2h.9v.9h-.9zM247.5 117.6h.9v.9h-.9zM255.1 109.0h.9v.9h-.9zM246.6 117.3h.9v.9h-.9zM245.1 110.5h.9v.9h-.9zM248.2 108.1h.9v.9h-.9zM270.7 117.3h.9v.9h-.9zM271.1 117.9h.9v.9h-.9zM284.8 117.1h.9v.9h-.9zM258.1 117.5h.9v.9h-.9zM299.4 117.3h.9v.9h-.9zM286.4 117.6h.9v.9h-.9zM281.8 117.5h.9v.9h-.9zM276.2 107.9h.9v.9h-.9zM307.2 117.0h.9v.9h-.9zM304.2 107.7h.9v.9h-.9zM293.1 107.9h.9v.9h-.9zM300.7 117.9h.9v.9h-.9zM278.9 107.4h.9v.9h-.9zM297.1 117.7h.9v.9h-.9zM294.6 117.1h.9v.9h-.9zM295.3 107.9h.9v.9h-.9zM305.2 117.5h.9v.9h-.9zM268.0 107.7h.9v.9h-.9zM264.4 107.6h.9v.9h-.9zM307.9 117.7h.9v.9h-.9zM306.8 117.7h.9v.9h-.9zM291.3 117.0h.9v.9h-.9zM291.0 117.3h.9v.9h-.9zM295.0 117.8h.9v.9h-.9zM256.9 117.1h.9v.9h-.9zM268.3 117.7h.9v.9h-.9zM271.6 107.0h.9v.9h-.9zM257.9 107.8h.9v.9h-.9zM272.7 107.9h.9v.9h-.9zM268.3 107.7h.9v.9h-.9zM268.6 117.8h.9v.9h-.9zM280.3 107.0h.9v.9h-.9zM289.7 117.5h.9v.9h-.9zM268.7 117.9h.9v.9h-.9zM311.6 107.3h.9v.9h-.9zM293.0 117.4h.9v.9h-.9zM266.7 107.6h.9v.9h-.9zM272.0 107.1h.9v.9h-.9zM281.1 107.1h.9v.9h-.9zM300.6 117.7h.9v.9h-.9zM299.1 107.9h.9v.9h-.9zM259.2 117.0h.9v.9h-.9zM288.1 117.5h.9v.9h-.9zM313.4 107.3h.9v.9h-.9zM295.9 117.0h.9v.9h-.9zM300.6 117.8h.9v.9h-.9zM300.9 117.9h.9v.9h-.9zM301.9 107.4h.9v.9h-.9zM305.1 117.2h.9v.9h-.9zM267.8 107.2h.9v.9h-.9zM297.0 117.9h.9v.9h-.9zM300.7 117.1h.9v.9h-.9zM263.4 117.2h.9v.9h-.9zM257.2 107.8h.9v.9h-.9zM282.6 107.0h.9v.9h-.9zM305.6 117.5h.9v.9h-.9zM283.8 107.6h.9v.9h-.9zM267.5 107.3h.9v.9h-.9zM290.0 117.1h.9v.9h-.9zM288.9 117.6h.9v.9h-.9zM300.0 117.7h.9v.9h-.9zM265.4 107.6h.9v.9h-.9zM297.3 107.4h.9v.9h-.9zM262.5 107.4h.9v.9h-.9zM302.2 107.8h.9v.9h-.9zM292.5 107.7h.9v.9h-.9zM308.5 117.0h.9v.9h-.9zM258.4 107.2h.9v.9h-.9zM300.8 117.5h.9v.9h-.9zM270.9 107.1h.9v.9h-.9zM299.8 107.8h.9v.9h-.9zM302.6 107.1h.9v.9h-.9zM285.3 107.9h.9v.9h-.9zM259.8 107.0h.9v.9h-.9zM284.8 107.6h.9v.9h-.9zM296.7 117.6h.9v.9h-.9zM278.7 107.0h.9v.9h-.9zM266.5 107.5h.9v.9h-.9zM262.7 117.2h.9v.9h-.9zM312.9 117.0h.9v.9h-.9zM295.1 107.0h.9v.9h-.9zM260.8 117.3h.9v.9h-.9zM264.2 107.6h.9v.9h-.9zM256.0 107.0h.9v.9h-.9zM285.9 107.4h.9v.9h-.9zM309.0 107.7h.9v.9h-.9zM304.4 107.7h.9v.9h-.9zM305.1 107.4h.9v.9h-.9zM291.6 107.2h.9v.9h-.9zM270.3 117.3h.9v.9h-.9zM277.8 117.1h.9v.9h-.9zM300.0 117.9h.9v.9h-.9zM271.5 107.2h.9v.9h-.9z"/>
<line x1="252.50" y1="113.50" x2="280.50" y2="113.50" stroke="#383838" stroke-width="0.90"/>
<line x1="300.50" y1="113.50" x2="315.00" y2="113.50" stroke="#383838" stroke-width="0.90"/>
<rect x="280.50" y="109.50" width="20.00" height="8.00" fill="#3a90c6" fill-opacity="0.90" stroke="#333" stroke-width="0.75"/>
<line x1="291.50" y1="109.50" x2="291.50" y2="117.50" stroke="#333" stroke-width="0.90"/>
<line x1="315.50" y1="82.00" x2="315.50" y2="142.30" stroke="#b33a30" stroke-width="0.90" opacity="0.85"/>
<circle cx="296.90" cy="113.50" r="1.45" fill="#fff" stroke="#333" stroke-width="0.45"/>
<line x1="189.60" y1="82.00" x2="189.60" y2="142.30" stroke="#7a7a7a" stroke-width="0.90"/>
<line x1="189.60" y1="142.30" x2="328.30" y2="142.30" stroke="#7a7a7a" stroke-width="0.90"/>
<line x1="199.40" y1="142.30" x2="199.40" y2="143.60" stroke="#333" stroke-width="0.60"/>
<text transform="translate(203.10,147.60) rotate(-45)" text-anchor="end" font-size="4.3" fill="#4a4a4a" stroke="#4a4a4a" stroke-width="0.0">0.01</text>
<line x1="229.60" y1="142.30" x2="229.60" y2="143.60" stroke="#333" stroke-width="0.60"/>
<text transform="translate(233.30,147.60) rotate(-45)" text-anchor="end" font-size="4.3" fill="#4a4a4a" stroke="#4a4a4a" stroke-width="0.0">0.37</text>
<line x1="260.80" y1="142.30" x2="260.80" y2="143.60" stroke="#333" stroke-width="0.60"/>
<text transform="translate(264.50,147.60) rotate(-45)" text-anchor="end" font-size="4.3" fill="#4a4a4a" stroke="#4a4a4a" stroke-width="0.0">15</text>
<line x1="292.50" y1="142.30" x2="292.50" y2="143.60" stroke="#333" stroke-width="0.60"/>
<text transform="translate(296.20,147.60) rotate(-45)" text-anchor="end" font-size="4.3" fill="#4a4a4a" stroke="#4a4a4a" stroke-width="0.0">500</text>
<line x1="318.80" y1="142.30" x2="318.80" y2="143.60" stroke="#333" stroke-width="0.60"/>
<text transform="translate(322.50,147.60) rotate(-45)" text-anchor="end" font-size="4.3" fill="#4a4a4a" stroke="#4a4a4a" stroke-width="0.0">15,000</text>
<line x1="188.30" y1="113.30" x2="189.60" y2="113.30" stroke="#333" stroke-width="0.60"/>
<text x="188.20" y="112.60" text-anchor="end" font-size="4.4" fill="#4a4a4a" stroke="#4a4a4a" stroke-width="0.0">Nitrate</text>
<text x="188.20" y="117.40" text-anchor="end" font-size="4.4" fill="#4a4a4a" stroke="#4a4a4a" stroke-width="0.0">(N=8,115)</text>
<line x1="211.50" y1="161.50" x2="211.50" y2="223.30" stroke="#f7f7f7" stroke-width="0.50"/>
<line x1="242.10" y1="161.50" x2="242.10" y2="223.30" stroke="#f7f7f7" stroke-width="0.50"/>
<line x1="272.80" y1="161.50" x2="272.80" y2="223.30" stroke="#f7f7f7" stroke-width="0.50"/>
<line x1="303.90" y1="161.50" x2="303.90" y2="223.30" stroke="#f7f7f7" stroke-width="0.50"/>
<line x1="197.20" y1="161.50" x2="197.20" y2="223.30" stroke="#ededed" stroke-width="0.60"/>
<line x1="226.30" y1="161.50" x2="226.30" y2="223.30" stroke="#ededed" stroke-width="0.60"/>
<line x1="258.00" y1="161.50" x2="258.00" y2="223.30" stroke="#ededed" stroke-width="0.60"/>
<line x1="288.40" y1="161.50" x2="288.40" y2="223.30" stroke="#ededed" stroke-width="0.60"/>
<line x1="320.30" y1="161.50" x2="320.30" y2="223.30" stroke="#ededed" stroke-width="0.60"/>
<line x1="189.60" y1="193.50" x2="328.30" y2="193.50" stroke="#ededed" stroke-width="0.60"/>
<path d="M197.20,183.60C197.20,179.90 197.20,164.92 197.20,161.40C197.83,157.88 199.50,161.73 201.00,162.50C202.50,163.27 204.70,164.83 206.20,166.00C207.70,167.17 208.65,168.25 210.00,169.50C211.35,170.75 212.97,172.33 214.30,173.50C215.63,174.67 216.75,175.72 218.00,176.50C219.25,177.28 220.38,177.85 221.80,178.20C223.22,178.55 224.60,178.75 226.50,178.60C228.40,178.45 230.50,177.97 233.20,177.30C235.90,176.63 239.98,175.80 242.70,174.60C245.42,173.40 247.62,171.28 249.50,170.10C251.38,168.92 252.30,168.17 254.00,167.50C255.70,166.83 258.03,166.10 259.70,166.10C261.37,166.10 262.53,166.72 264.00,167.50C265.47,168.28 266.83,169.72 268.50,170.80C270.17,171.88 272.20,173.05 274.00,174.00C275.80,174.95 276.62,175.68 279.30,176.50C281.98,177.32 286.65,178.32 290.10,178.90C293.55,179.48 296.83,179.65 300.00,180.00C303.17,180.35 305.77,180.55 309.10,181.00C312.43,181.45 318.18,182.42 320.00,182.70L320.00,183.60L197.20,183.60Z" fill="#b4afda"/>
<line x1="197.20" y1="183.60" x2="320.00" y2="183.60" stroke="#4a4a4a" stroke-width="0.60"/>
<path d="M197.20,183.60C197.20,179.90 197.20,164.92 197.20,161.40C197.83,157.88 199.50,161.73 201.00,162.50C202.50,163.27 204.70,164.83 206.20,166.00C207.70,167.17 208.65,168.25 210.00,169.50C211.35,170.75 212.97,172.33 214.30,173.50C215.63,174.67 216.75,175.72 218.00,176.50C219.25,177.28 220.38,177.85 221.80,178.20C223.22,178.55 224.60,178.75 226.50,178.60C228.40,178.45 230.50,177.97 233.20,177.30C235.90,176.63 239.98,175.80 242.70,174.60C245.42,173.40 247.62,171.28 249.50,170.10C251.38,168.92 252.30,168.17 254.00,167.50C255.70,166.83 258.03,166.10 259.70,166.10C261.37,166.10 262.53,166.72 264.00,167.50C265.47,168.28 266.83,169.72 268.50,170.80C270.17,171.88 272.20,173.05 274.00,174.00C275.80,174.95 276.62,175.68 279.30,176.50C281.98,177.32 286.65,178.32 290.10,178.90C293.55,179.48 296.83,179.65 300.00,180.00C303.17,180.35 305.77,180.55 309.10,181.00C312.43,181.45 318.18,182.42 320.00,182.70" fill="none" stroke="#333" stroke-width="0.5"/>
<rect x="197.00" y="189.00" width="65.00" height="9.20" fill="#8e88c8" fill-opacity="0.23"/>
<rect x="262.00" y="189.00" width="58.00" height="9.20" fill="#8e88c8" fill-opacity="0.25"/>
<rect x="207.88" y="188.80" width="1.05" height="9.60" fill="#8e88c8" fill-opacity="0.80"/>
<rect x="210.78" y="188.80" width="1.05" height="9.60" fill="#8e88c8" fill-opacity="0.70"/>
<path fill="#8e88c8" fill-opacity="0.8" d="M218.7 193.6h.9v.9h-.9zM219.7 196.4h.9v.9h-.9zM196.7 195.9h.9v.9h-.9zM212.1 191.5h.9v.9h-.9zM201.7 189.7h.9v.9h-.9zM198.8 196.7h.9v.9h-.9zM224.2 191.5h.9v.9h-.9zM200.7 189.3h.9v.9h-.9zM226.3 190.2h.9v.9h-.9zM200.0 194.8h.9v.9h-.9zM212.5 197.4h.9v.9h-.9zM257.1 193.3h.9v.9h-.9zM247.0 194.5h.9v.9h-.9zM238.7 190.3h.9v.9h-.9zM245.6 197.1h.9v.9h-.9zM243.0 192.5h.9v.9h-.9zM204.2 197.7h.9v.9h-.9zM236.2 194.3h.9v.9h-.9zM207.4 197.7h.9v.9h-.9zM215.0 192.0h.9v.9h-.9zM218.8 197.8h.9v.9h-.9zM202.5 196.9h.9v.9h-.9zM238.2 194.4h.9v.9h-.9zM239.2 195.6h.9v.9h-.9zM205.8 188.8h.9v.9h-.9zM201.0 192.0h.9v.9h-.9zM201.6 195.5h.9v.9h-.9zM231.4 188.8h.9v.9h-.9zM201.4 193.7h.9v.9h-.9zM243.5 194.7h.9v.9h-.9zM229.7 197.0h.9v.9h-.9zM256.4 192.6h.9v.9h-.9zM255.0 190.7h.9v.9h-.9zM222.2 195.2h.9v.9h-.9zM207.8 198.1h.9v.9h-.9zM253.6 196.8h.9v.9h-.9zM226.5 191.3h.9v.9h-.9zM209.9 192.0h.9v.9h-.9zM247.5 189.1h.9v.9h-.9zM210.1 191.6h.9v.9h-.9zM218.4 194.4h.9v.9h-.9zM251.5 188.8h.9v.9h-.9zM202.4 196.0h.9v.9h-.9zM239.6 191.2h.9v.9h-.9zM213.6 188.5h.9v.9h-.9zM227.8 196.6h.9v.9h-.9zM200.3 190.6h.9v.9h-.9zM202.3 194.0h.9v.9h-.9zM200.6 191.1h.9v.9h-.9zM214.0 197.5h.9v.9h-.9zM257.4 191.7h.9v.9h-.9zM231.8 189.8h.9v.9h-.9zM220.6 195.6h.9v.9h-.9zM220.6 189.7h.9v.9h-.9zM239.7 196.9h.9v.9h-.9zM255.7 189.7h.9v.9h-.9zM246.0 197.6h.9v.9h-.9zM198.5 194.7h.9v.9h-.9zM254.2 195.8h.9v.9h-.9zM252.0 190.5h.9v.9h-.9zM254.6 190.7h.9v.9h-.9zM197.0 189.1h.9v.9h-.9zM221.1 191.8h.9v.9h-.9zM214.9 192.9h.9v.9h-.9zM228.2 189.2h.9v.9h-.9zM232.6 193.1h.9v.9h-.9zM222.9 193.0h.9v.9h-.9zM256.6 197.3h.9v.9h-.9zM224.2 188.7h.9v.9h-.9zM209.0 190.8h.9v.9h-.9zM225.4 190.5h.9v.9h-.9zM218.6 188.6h.9v.9h-.9zM229.7 193.0h.9v.9h-.9zM210.6 194.3h.9v.9h-.9zM261.5 197.5h.9v.9h-.9zM221.0 188.7h.9v.9h-.9zM224.6 188.6h.9v.9h-.9zM230.5 193.3h.9v.9h-.9zM217.1 189.1h.9v.9h-.9zM227.6 192.8h.9v.9h-.9zM258.1 196.1h.9v.9h-.9zM205.1 196.3h.9v.9h-.9zM237.6 189.0h.9v.9h-.9zM214.8 196.1h.9v.9h-.9zM201.0 195.2h.9v.9h-.9zM227.4 190.7h.9v.9h-.9zM229.7 194.5h.9v.9h-.9zM249.3 197.3h.9v.9h-.9zM238.4 195.1h.9v.9h-.9zM198.6 194.7h.9v.9h-.9zM246.8 194.8h.9v.9h-.9zM205.6 191.8h.9v.9h-.9zM221.7 197.1h.9v.9h-.9zM217.5 188.5h.9v.9h-.9zM252.3 194.7h.9v.9h-.9zM238.9 195.2h.9v.9h-.9zM197.6 192.7h.9v.9h-.9zM243.6 192.6h.9v.9h-.9zM251.8 191.0h.9v.9h-.9zM260.0 196.6h.9v.9h-.9zM216.3 191.3h.9v.9h-.9zM209.5 188.7h.9v.9h-.9zM198.2 189.7h.9v.9h-.9zM219.9 193.0h.9v.9h-.9zM200.8 191.9h.9v.9h-.9zM252.0 195.6h.9v.9h-.9zM240.3 190.2h.9v.9h-.9zM255.4 190.0h.9v.9h-.9zM227.1 191.2h.9v.9h-.9zM247.5 190.8h.9v.9h-.9zM259.9 195.8h.9v.9h-.9zM198.6 189.9h.9v.9h-.9zM223.4 195.3h.9v.9h-.9zM233.5 195.9h.9v.9h-.9zM212.0 196.6h.9v.9h-.9zM206.6 196.3h.9v.9h-.9zM236.0 192.9h.9v.9h-.9zM232.2 192.0h.9v.9h-.9zM213.5 193.8h.9v.9h-.9zM214.4 192.3h.9v.9h-.9zM255.7 198.2h.9v.9h-.9zM205.3 191.3h.9v.9h-.9zM245.5 189.8h.9v.9h-.9zM224.0 188.9h.9v.9h-.9zM249.8 196.1h.9v.9h-.9zM213.0 193.9h.9v.9h-.9zM211.0 189.6h.9v.9h-.9zM244.9 197.9h.9v.9h-.9zM242.8 189.0h.9v.9h-.9zM224.9 196.4h.9v.9h-.9zM259.4 197.3h.9v.9h-.9zM201.1 195.7h.9v.9h-.9zM207.9 189.5h.9v.9h-.9zM201.3 191.9h.9v.9h-.9zM216.1 194.8h.9v.9h-.9zM242.4 194.0h.9v.9h-.9zM225.6 193.1h.9v.9h-.9zM231.0 195.0h.9v.9h-.9zM220.6 193.4h.9v.9h-.9zM232.8 192.5h.9v.9h-.9zM235.0 190.6h.9v.9h-.9zM221.4 196.8h.9v.9h-.9zM258.7 194.6h.9v.9h-.9zM223.3 197.8h.9v.9h-.9zM213.3 196.4h.9v.9h-.9zM242.1 188.6h.9v.9h-.9zM240.9 190.2h.9v.9h-.9zM217.9 197.4h.9v.9h-.9zM225.5 191.5h.9v.9h-.9zM246.0 197.8h.9v.9h-.9zM254.4 192.8h.9v.9h-.9zM217.6 198.0h.9v.9h-.9zM260.1 189.0h.9v.9h-.9zM259.7 193.6h.9v.9h-.9zM222.6 189.4h.9v.9h-.9zM245.1 191.8h.9v.9h-.9zM242.6 191.9h.9v.9h-.9zM228.7 191.8h.9v.9h-.9zM261.4 194.6h.9v.9h-.9zM253.7 189.2h.9v.9h-.9zM229.7 197.1h.9v.9h-.9zM236.6 194.6h.9v.9h-.9zM227.1 192.7h.9v.9h-.9zM218.1 193.6h.9v.9h-.9zM219.0 195.8h.9v.9h-.9zM217.0 196.3h.9v.9h-.9zM241.6 194.9h.9v.9h-.9zM247.3 192.1h.9v.9h-.9zM204.2 194.5h.9v.9h-.9zM215.5 193.7h.9v.9h-.9zM209.8 190.6h.9v.9h-.9zM235.0 195.9h.9v.9h-.9zM220.5 196.7h.9v.9h-.9zM238.7 189.7h.9v.9h-.9zM200.8 192.7h.9v.9h-.9zM239.8 195.9h.9v.9h-.9zM199.5 197.2h.9v.9h-.9zM235.3 192.3h.9v.9h-.9zM233.0 188.3h.9v.9h-.9zM248.4 196.6h.9v.9h-.9zM202.1 190.6h.9v.9h-.9zM207.8 189.8h.9v.9h-.9zM255.1 196.1h.9v.9h-.9zM211.9 188.3h.9v.9h-.9zM201.9 189.0h.9v.9h-.9zM209.4 192.8h.9v.9h-.9zM201.3 191.6h.9v.9h-.9zM215.5 195.7h.9v.9h-.9zM253.4 191.4h.9v.9h-.9zM256.8 190.7h.9v.9h-.9zM213.8 188.7h.9v.9h-.9zM200.0 198.0h.9v.9h-.9zM205.1 196.9h.9v.9h-.9zM217.9 193.2h.9v.9h-.9zM205.7 194.2h.9v.9h-.9zM260.9 196.3h.9v.9h-.9zM245.4 196.6h.9v.9h-.9zM224.0 191.1h.9v.9h-.9zM197.6 191.2h.9v.9h-.9zM201.2 192.9h.9v.9h-.9zM200.8 189.6h.9v.9h-.9zM248.2 192.7h.9v.9h-.9zM288.7 196.4h.9v.9h-.9zM297.7 196.5h.9v.9h-.9zM288.9 192.5h.9v.9h-.9zM262.3 197.6h.9v.9h-.9zM274.1 196.6h.9v.9h-.9zM288.1 195.7h.9v.9h-.9zM290.6 193.4h.9v.9h-.9zM280.8 188.6h.9v.9h-.9zM274.8 188.3h.9v.9h-.9zM291.3 190.2h.9v.9h-.9zM303.2 192.7h.9v.9h-.9zM272.7 189.9h.9v.9h-.9zM318.8 198.2h.9v.9h-.9zM313.7 189.4h.9v.9h-.9zM265.1 192.8h.9v.9h-.9zM281.2 195.2h.9v.9h-.9zM301.1 195.2h.9v.9h-.9zM308.2 192.1h.9v.9h-.9zM291.9 191.2h.9v.9h-.9zM306.5 191.3h.9v.9h-.9zM278.6 191.4h.9v.9h-.9zM275.3 189.8h.9v.9h-.9zM298.1 190.6h.9v.9h-.9zM263.3 191.3h.9v.9h-.9zM307.1 195.4h.9v.9h-.9zM312.0 195.0h.9v.9h-.9zM289.2 191.2h.9v.9h-.9zM265.9 194.8h.9v.9h-.9zM297.7 192.5h.9v.9h-.9zM265.4 196.2h.9v.9h-.9zM291.3 192.6h.9v.9h-.9zM311.0 197.6h.9v.9h-.9zM285.8 195.2h.9v.9h-.9zM292.6 196.0h.9v.9h-.9zM303.6 191.3h.9v.9h-.9zM264.5 195.9h.9v.9h-.9zM266.6 197.5h.9v.9h-.9zM269.3 196.8h.9v.9h-.9zM316.3 193.7h.9v.9h-.9zM265.2 195.0h.9v.9h-.9zM263.6 194.8h.9v.9h-.9zM311.0 194.8h.9v.9h-.9zM281.3 193.4h.9v.9h-.9zM270.0 195.2h.9v.9h-.9zM303.1 195.6h.9v.9h-.9zM263.4 197.3h.9v.9h-.9zM300.4 193.5h.9v.9h-.9zM302.2 191.3h.9v.9h-.9zM309.0 194.2h.9v.9h-.9zM285.1 190.5h.9v.9h-.9zM284.0 196.3h.9v.9h-.9zM302.6 191.7h.9v.9h-.9zM313.2 192.7h.9v.9h-.9zM293.6 189.0h.9v.9h-.9zM316.2 197.6h.9v.9h-.9zM303.3 192.0h.9v.9h-.9zM274.7 189.9h.9v.9h-.9zM308.6 195.8h.9v.9h-.9zM284.4 190.1h.9v.9h-.9zM307.2 195.7h.9v.9h-.9zM314.6 193.1h.9v.9h-.9zM311.9 193.3h.9v.9h-.9zM308.1 188.3h.9v.9h-.9zM291.3 196.4h.9v.9h-.9zM301.9 198.0h.9v.9h-.9zM297.2 191.2h.9v.9h-.9zM303.9 196.7h.9v.9h-.9zM301.1 194.8h.9v.9h-.9zM264.8 188.1h.9v.9h-.9zM275.0 191.6h.9v.9h-.9zM307.2 190.6h.9v.9h-.9zM263.8 188.4h.9v.9h-.9zM319.4 190.4h.9v.9h-.9zM280.0 197.0h.9v.9h-.9zM316.6 191.1h.9v.9h-.9zM297.4 192.1h.9v.9h-.9zM278.0 197.7h.9v.9h-.9zM262.3 194.9h.9v.9h-.9zM305.4 195.9h.9v.9h-.9zM294.4 197.4h.9v.9h-.9zM308.9 194.6h.9v.9h-.9zM264.6 197.1h.9v.9h-.9zM271.5 189.6h.9v.9h-.9zM279.3 193.2h.9v.9h-.9zM280.5 192.5h.9v.9h-.9zM279.4 190.5h.9v.9h-.9zM302.9 194.9h.9v.9h-.9zM264.7 197.2h.9v.9h-.9zM271.6 191.3h.9v.9h-.9zM306.5 196.8h.9v.9h-.9zM316.9 197.0h.9v.9h-.9zM293.0 197.3h.9v.9h-.9zM307.6 196.6h.9v.9h-.9zM318.3 197.7h.9v.9h-.9zM288.8 192.8h.9v.9h-.9zM305.0 196.6h.9v.9h-.9zM303.9 191.7h.9v.9h-.9zM265.3 189.3h.9v.9h-.9zM313.0 197.3h.9v.9h-.9zM263.0 191.8h.9v.9h-.9zM297.2 193.1h.9v.9h-.9zM264.6 196.8h.9v.9h-.9zM298.7 191.2h.9v.9h-.9zM289.2 191.9h.9v.9h-.9zM298.6 197.1h.9v.9h-.9zM295.0 191.3h.9v.9h-.9zM281.6 196.6h.9v.9h-.9zM304.4 191.6h.9v.9h-.9zM314.6 194.2h.9v.9h-.9zM319.4 197.2h.9v.9h-.9zM265.5 192.6h.9v.9h-.9zM262.2 197.8h.9v.9h-.9zM274.7 190.2h.9v.9h-.9zM293.0 197.5h.9v.9h-.9zM299.8 196.9h.9v.9h-.9zM299.5 193.8h.9v.9h-.9zM288.3 193.9h.9v.9h-.9zM262.9 189.4h.9v.9h-.9zM319.5 189.9h.9v.9h-.9zM278.4 193.3h.9v.9h-.9zM304.8 189.1h.9v.9h-.9zM307.6 194.2h.9v.9h-.9zM264.9 191.8h.9v.9h-.9zM316.2 195.6h.9v.9h-.9zM270.7 194.5h.9v.9h-.9zM266.0 192.3h.9v.9h-.9zM280.5 198.2h.9v.9h-.9zM291.5 198.0h.9v.9h-.9zM290.0 195.7h.9v.9h-.9zM262.2 196.9h.9v.9h-.9zM296.6 191.9h.9v.9h-.9zM309.8 197.2h.9v.9h-.9zM271.1 188.2h.9v.9h-.9zM299.2 197.0h.9v.9h-.9zM268.1 193.9h.9v.9h-.9zM264.6 188.6h.9v.9h-.9zM290.8 197.2h.9v.9h-.9zM310.9 195.3h.9v.9h-.9zM302.9 190.2h.9v.9h-.9zM288.4 189.6h.9v.9h-.9zM273.9 189.6h.9v.9h-.9zM287.0 188.4h.9v.9h-.9zM269.5 195.1h.9v.9h-.9zM296.6 190.4h.9v.9h-.9zM274.1 194.5h.9v.9h-.9zM264.7 195.9h.9v.9h-.9zM308.1 197.3h.9v.9h-.9zM271.1 196.0h.9v.9h-.9zM292.8 190.4h.9v.9h-.9zM309.2 190.4h.9v.9h-.9zM271.7 196.9h.9v.9h-.9zM318.2 195.4h.9v.9h-.9zM267.9 192.8h.9v.9h-.9zM296.0 190.3h.9v.9h-.9zM310.0 192.4h.9v.9h-.9zM291.2 193.0h.9v.9h-.9zM261.7 196.9h.9v.9h-.9zM311.9 197.2h.9v.9h-.9zM294.0 192.3h.9v.9h-.9zM280.1 189.8h.9v.9h-.9zM274.1 193.6h.9v.9h-.9zM285.2 195.4h.9v.9h-.9zM319.3 190.4h.9v.9h-.9zM312.0 191.7h.9v.9h-.9zM286.8 191.2h.9v.9h-.9zM298.4 192.6h.9v.9h-.9zM269.8 194.1h.9v.9h-.9zM268.8 191.1h.9v.9h-.9zM285.8 196.6h.9v.9h-.9zM306.1 194.1h.9v.9h-.9zM289.0 190.9h.9v.9h-.9zM291.6 192.9h.9v.9h-.9zM291.1 193.2h.9v.9h-.9zM275.1 191.6h.9v.9h-.9zM283.8 188.8h.9v.9h-.9zM267.4 195.5h.9v.9h-.9zM281.0 195.2h.9v.9h-.9zM310.3 194.6h.9v.9h-.9zM288.5 196.6h.9v.9h-.9zM293.3 188.5h.9v.9h-.9zM307.0 192.9h.9v.9h-.9zM291.1 195.3h.9v.9h-.9zM300.9 197.8h.9v.9h-.9zM297.5 189.6h.9v.9h-.9zM299.4 195.7h.9v.9h-.9zM261.8 195.1h.9v.9h-.9zM297.9 195.0h.9v.9h-.9zM284.7 191.4h.9v.9h-.9zM294.7 190.3h.9v.9h-.9zM308.0 189.6h.9v.9h-.9zM293.6 194.7h.9v.9h-.9zM278.1 189.4h.9v.9h-.9zM314.0 198.0h.9v.9h-.9zM297.3 196.3h.9v.9h-.9zM287.1 190.9h.9v.9h-.9zM291.8 188.3h.9v.9h-.9zM293.4 196.1h.9v.9h-.9zM280.4 197.6h.9v.9h-.9zM268.3 190.6h.9v.9h-.9zM296.9 193.8h.9v.9h-.9z"/>
<line x1="262.50" y1="193.50" x2="320.00" y2="193.50" stroke="#383838" stroke-width="0.90"/>
<rect x="197.50" y="189.50" width="65.00" height="8.00" fill="#c0bbe2" fill-opacity="0.80" stroke="#333" stroke-width="0.75"/>
<line x1="240.50" y1="189.50" x2="240.50" y2="197.50" stroke="#333" stroke-width="0.90"/>
<line x1="320.00" y1="161.50" x2="320.00" y2="223.30" stroke="#b33a30" stroke-width="1.00" opacity="0.62"/>
<circle cx="274.90" cy="193.50" r="1.35" fill="#8a8a8a" stroke="#222" stroke-width="0.6"/>
<line x1="189.60" y1="161.50" x2="189.60" y2="223.30" stroke="#7a7a7a" stroke-width="0.90"/>
<line x1="189.60" y1="223.30" x2="328.30" y2="223.30" stroke="#7a7a7a" stroke-width="0.90"/>
<line x1="197.20" y1="223.30" x2="197.20" y2="224.60" stroke="#333" stroke-width="0.60"/>
<text transform="translate(200.90,228.60) rotate(-45)" text-anchor="end" font-size="4.3" fill="#4a4a4a" stroke="#4a4a4a" stroke-width="0.0">0.01</text>
<line x1="226.30" y1="223.30" x2="226.30" y2="224.60" stroke="#333" stroke-width="0.60"/>
<text transform="translate(230.00,228.60) rotate(-45)" text-anchor="end" font-size="4.3" fill="#4a4a4a" stroke="#4a4a4a" stroke-width="0.0">0.15</text>
<line x1="258.00" y1="223.30" x2="258.00" y2="224.60" stroke="#333" stroke-width="0.60"/>
<text transform="translate(261.70,228.60) rotate(-45)" text-anchor="end" font-size="4.3" fill="#4a4a4a" stroke="#4a4a4a" stroke-width="0.0">5</text>
<line x1="288.40" y1="223.30" x2="288.40" y2="224.60" stroke="#333" stroke-width="0.60"/>
<text transform="translate(292.10,228.60) rotate(-45)" text-anchor="end" font-size="4.3" fill="#4a4a4a" stroke="#4a4a4a" stroke-width="0.0">50</text>
<line x1="320.30" y1="223.30" x2="320.30" y2="224.60" stroke="#333" stroke-width="0.60"/>
<text transform="translate(324.00,228.60) rotate(-45)" text-anchor="end" font-size="4.3" fill="#4a4a4a" stroke="#4a4a4a" stroke-width="0.0">1,000</text>
<line x1="188.30" y1="193.50" x2="189.60" y2="193.50" stroke="#333" stroke-width="0.60"/>
<text x="188.20" y="192.80" text-anchor="end" font-size="4.4" fill="#4a4a4a" stroke="#4a4a4a" stroke-width="0.0">Nitrite</text>
<text x="188.20" y="197.60" text-anchor="end" font-size="4.4" fill="#4a4a4a" stroke="#4a4a4a" stroke-width="0.0">(N=2,807)</text>
<line x1="212.00" y1="241.00" x2="212.00" y2="301.40" stroke="#f7f7f7" stroke-width="0.50"/>
<line x1="239.00" y1="241.00" x2="239.00" y2="301.40" stroke="#f7f7f7" stroke-width="0.50"/>
<line x1="267.20" y1="241.00" x2="267.20" y2="301.40" stroke="#f7f7f7" stroke-width="0.50"/>
<line x1="293.70" y1="241.00" x2="293.70" y2="301.40" stroke="#f7f7f7" stroke-width="0.50"/>
<line x1="318.20" y1="241.00" x2="318.20" y2="301.40" stroke="#f7f7f7" stroke-width="0.50"/>
<line x1="199.20" y1="241.00" x2="199.20" y2="301.40" stroke="#ededed" stroke-width="0.60"/>
<line x1="225.30" y1="241.00" x2="225.30" y2="301.40" stroke="#ededed" stroke-width="0.60"/>
<line x1="253.40" y1="241.00" x2="253.40" y2="301.40" stroke="#ededed" stroke-width="0.60"/>
<line x1="281.50" y1="241.00" x2="281.50" y2="301.40" stroke="#ededed" stroke-width="0.60"/>
<line x1="304.20" y1="241.00" x2="304.20" y2="301.40" stroke="#ededed" stroke-width="0.60"/>
<line x1="189.60" y1="272.50" x2="328.30" y2="272.50" stroke="#ededed" stroke-width="0.60"/>
<path d="M224.70,262.40C225.00,261.83 225.95,260.73 226.50,259.00C227.05,257.27 227.55,253.77 228.00,252.00C228.45,250.23 228.78,248.57 229.20,248.40C229.62,248.23 230.03,249.57 230.50,251.00C230.97,252.43 231.62,255.50 232.00,257.00C232.38,258.50 232.13,259.42 232.80,260.00C233.47,260.58 234.75,260.45 236.00,260.50C237.25,260.55 238.47,261.02 240.30,260.30C242.13,259.58 244.75,257.90 247.00,256.20C249.25,254.50 252.17,251.93 253.80,250.10C255.43,248.27 255.93,246.52 256.80,245.20C257.67,243.88 258.38,242.80 259.00,242.20C259.62,241.60 259.95,241.53 260.50,241.60C261.05,241.67 261.63,242.00 262.30,242.60C262.97,243.20 263.67,244.08 264.50,245.20C265.33,246.32 265.72,247.23 267.30,249.30C268.88,251.37 272.38,255.73 274.00,257.60C275.62,259.47 276.20,259.78 277.00,260.50C277.80,261.22 278.30,261.58 278.80,261.90C279.30,262.22 279.80,262.32 280.00,262.40L280.00,262.40L224.70,262.40Z" fill="#97d1c6"/>
<line x1="199.50" y1="262.40" x2="311.00" y2="262.40" stroke="#4a4a4a" stroke-width="0.60"/>
<path d="M224.70,262.40C225.00,261.83 225.95,260.73 226.50,259.00C227.05,257.27 227.55,253.77 228.00,252.00C228.45,250.23 228.78,248.57 229.20,248.40C229.62,248.23 230.03,249.57 230.50,251.00C230.97,252.43 231.62,255.50 232.00,257.00C232.38,258.50 232.13,259.42 232.80,260.00C233.47,260.58 234.75,260.45 236.00,260.50C237.25,260.55 238.47,261.02 240.30,260.30C242.13,259.58 244.75,257.90 247.00,256.20C249.25,254.50 252.17,251.93 253.80,250.10C255.43,248.27 255.93,246.52 256.80,245.20C257.67,243.88 258.38,242.80 259.00,242.20C259.62,241.60 259.95,241.53 260.50,241.60C261.05,241.67 261.63,242.00 262.30,242.60C262.97,243.20 263.67,244.08 264.50,245.20C265.33,246.32 265.72,247.23 267.30,249.30C268.88,251.37 272.38,255.73 274.00,257.60C275.62,259.47 276.20,259.78 277.00,260.50C277.80,261.22 278.30,261.58 278.80,261.90C279.30,262.22 279.80,262.32 280.00,262.40" fill="none" stroke="#333" stroke-width="0.5"/>
<rect x="212.00" y="267.20" width="15.50" height="9.90" fill="#98d2c7" fill-opacity="0.11"/>
<rect x="227.80" y="267.40" width="48.20" height="9.50" fill="#98d2c7"/>
<rect x="276.00" y="267.20" width="6.60" height="9.90" fill="#98d2c7" fill-opacity="0.30"/>
<path fill="#98d2c7" fill-opacity="0.8" d="M224.8 266.4h.9v.9h-.9zM224.0 267.0h.9v.9h-.9zM224.1 273.1h.9v.9h-.9zM211.7 276.0h.9v.9h-.9zM216.0 271.6h.9v.9h-.9zM226.1 270.4h.9v.9h-.9zM212.7 268.5h.9v.9h-.9zM223.0 267.8h.9v.9h-.9zM216.4 268.6h.9v.9h-.9zM218.3 267.6h.9v.9h-.9zM226.6 276.1h.9v.9h-.9zM213.2 267.8h.9v.9h-.9zM220.1 276.9h.9v.9h-.9zM223.5 267.9h.9v.9h-.9zM224.5 266.7h.9v.9h-.9zM219.3 274.2h.9v.9h-.9zM218.1 273.1h.9v.9h-.9zM222.5 268.2h.9v.9h-.9zM213.5 269.5h.9v.9h-.9zM212.9 268.0h.9v.9h-.9zM212.2 269.8h.9v.9h-.9zM222.3 268.1h.9v.9h-.9zM218.7 267.4h.9v.9h-.9zM214.6 270.2h.9v.9h-.9zM226.1 268.4h.9v.9h-.9zM233.2 276.5h.9v.9h-.9zM239.6 266.5h.9v.9h-.9zM235.3 267.1h.9v.9h-.9zM248.8 277.1h.9v.9h-.9zM253.7 276.2h.9v.9h-.9zM269.8 276.5h.9v.9h-.9zM252.0 266.4h.9v.9h-.9zM251.3 266.9h.9v.9h-.9zM251.5 267.2h.9v.9h-.9zM268.1 266.6h.9v.9h-.9zM254.8 276.6h.9v.9h-.9zM273.4 276.8h.9v.9h-.9zM270.5 266.4h.9v.9h-.9zM265.5 277.0h.9v.9h-.9zM242.7 276.4h.9v.9h-.9zM235.0 276.6h.9v.9h-.9zM268.7 267.2h.9v.9h-.9zM234.5 276.7h.9v.9h-.9zM255.6 266.7h.9v.9h-.9zM255.7 266.4h.9v.9h-.9zM256.6 277.0h.9v.9h-.9zM231.3 266.7h.9v.9h-.9zM251.2 276.4h.9v.9h-.9zM240.7 277.1h.9v.9h-.9zM264.4 276.8h.9v.9h-.9zM249.3 276.6h.9v.9h-.9zM273.5 277.0h.9v.9h-.9zM229.9 267.2h.9v.9h-.9zM244.3 277.0h.9v.9h-.9zM266.6 266.3h.9v.9h-.9zM231.3 267.0h.9v.9h-.9zM249.7 276.9h.9v.9h-.9zM243.9 267.2h.9v.9h-.9zM258.4 276.8h.9v.9h-.9zM243.6 277.1h.9v.9h-.9zM268.7 266.5h.9v.9h-.9zM238.0 267.2h.9v.9h-.9zM257.8 277.0h.9v.9h-.9zM237.6 276.6h.9v.9h-.9zM260.2 276.4h.9v.9h-.9zM250.5 276.3h.9v.9h-.9zM235.1 276.7h.9v.9h-.9zM270.2 277.0h.9v.9h-.9zM251.1 276.5h.9v.9h-.9zM264.1 266.8h.9v.9h-.9zM245.1 267.2h.9v.9h-.9zM251.4 266.5h.9v.9h-.9zM242.5 266.3h.9v.9h-.9zM273.5 276.5h.9v.9h-.9zM250.5 267.2h.9v.9h-.9zM244.7 266.9h.9v.9h-.9zM261.5 266.8h.9v.9h-.9zM254.0 266.5h.9v.9h-.9zM263.7 276.3h.9v.9h-.9zM272.0 267.2h.9v.9h-.9zM240.2 276.2h.9v.9h-.9zM242.4 276.2h.9v.9h-.9zM244.2 267.0h.9v.9h-.9zM228.0 266.5h.9v.9h-.9zM232.2 276.4h.9v.9h-.9zM259.9 266.6h.9v.9h-.9zM230.6 267.1h.9v.9h-.9zM267.3 276.7h.9v.9h-.9zM244.9 266.9h.9v.9h-.9zM275.2 266.9h.9v.9h-.9zM245.3 276.3h.9v.9h-.9zM239.6 266.4h.9v.9h-.9zM232.7 276.3h.9v.9h-.9zM251.6 276.7h.9v.9h-.9zM249.7 267.0h.9v.9h-.9zM247.7 266.5h.9v.9h-.9zM270.5 276.9h.9v.9h-.9zM255.7 266.7h.9v.9h-.9zM238.1 277.0h.9v.9h-.9zM275.0 266.5h.9v.9h-.9zM236.9 266.5h.9v.9h-.9zM243.7 266.3h.9v.9h-.9zM278.9 276.5h.9v.9h-.9zM277.2 267.9h.9v.9h-.9zM277.6 269.8h.9v.9h-.9zM281.6 273.9h.9v.9h-.9zM278.4 268.1h.9v.9h-.9zM275.8 267.6h.9v.9h-.9zM281.1 273.3h.9v.9h-.9zM276.6 273.1h.9v.9h-.9zM275.9 271.8h.9v.9h-.9zM277.8 267.4h.9v.9h-.9zM280.5 274.1h.9v.9h-.9zM278.9 268.1h.9v.9h-.9zM280.0 271.0h.9v.9h-.9zM279.9 267.2h.9v.9h-.9zM281.5 266.3h.9v.9h-.9zM277.0 270.6h.9v.9h-.9zM276.9 267.2h.9v.9h-.9zM280.1 277.1h.9v.9h-.9zM277.8 269.2h.9v.9h-.9zM280.0 268.7h.9v.9h-.9zM278.2 273.8h.9v.9h-.9zM278.4 267.9h.9v.9h-.9zM276.0 272.2h.9v.9h-.9zM282.1 276.3h.9v.9h-.9zM276.2 271.7h.9v.9h-.9zM278.8 268.4h.9v.9h-.9zM280.0 271.7h.9v.9h-.9zM280.9 269.4h.9v.9h-.9zM281.7 275.1h.9v.9h-.9zM198.0 267.5h1v1h-1zM310.2 268.5h1v1h-1z"/>
<line x1="227.00" y1="272.50" x2="248.50" y2="272.50" stroke="#383838" stroke-width="0.90"/>
<line x1="263.50" y1="272.50" x2="285.50" y2="272.50" stroke="#383838" stroke-width="0.90"/>
<rect x="248.50" y="268.50" width="15.00" height="8.00" fill="#8fcdc1" fill-opacity="0.90" stroke="#333" stroke-width="0.75"/>
<line x1="258.50" y1="268.50" x2="258.50" y2="276.50" stroke="#333" stroke-width="0.90"/>
<line x1="286.50" y1="241.00" x2="286.50" y2="301.40" stroke="#3f8f4f" stroke-width="0.75" stroke-dasharray="1.8,1.5,0.5,1.5" opacity="0.85"/>
<line x1="289.50" y1="241.00" x2="289.50" y2="301.40" stroke="#b33a30" stroke-width="0.90" opacity="0.85"/>
<circle cx="262.70" cy="272.50" r="1.45" fill="#fff" stroke="#333" stroke-width="0.45"/>
<line x1="189.60" y1="241.00" x2="189.60" y2="301.40" stroke="#7a7a7a" stroke-width="0.90"/>
<line x1="189.60" y1="301.40" x2="328.30" y2="301.40" stroke="#7a7a7a" stroke-width="0.90"/>
<line x1="199.20" y1="301.40" x2="199.20" y2="302.70" stroke="#333" stroke-width="0.60"/>
<text transform="translate(202.90,306.70) rotate(-45)" text-anchor="end" font-size="4.3" fill="#4a4a4a" stroke="#4a4a4a" stroke-width="0.0">0.01</text>
<line x1="225.30" y1="301.40" x2="225.30" y2="302.70" stroke="#333" stroke-width="0.60"/>
<text transform="translate(229.00,306.70) rotate(-45)" text-anchor="end" font-size="4.3" fill="#4a4a4a" stroke="#4a4a4a" stroke-width="0.0">0.37</text>
<line x1="253.40" y1="301.40" x2="253.40" y2="302.70" stroke="#333" stroke-width="0.60"/>
<text transform="translate(257.10,306.70) rotate(-45)" text-anchor="end" font-size="4.3" fill="#4a4a4a" stroke="#4a4a4a" stroke-width="0.0">15</text>
<line x1="281.50" y1="301.40" x2="281.50" y2="302.70" stroke="#333" stroke-width="0.60"/>
<text transform="translate(285.20,306.70) rotate(-45)" text-anchor="end" font-size="4.3" fill="#4a4a4a" stroke="#4a4a4a" stroke-width="0.0">500</text>
<line x1="304.20" y1="301.40" x2="304.20" y2="302.70" stroke="#333" stroke-width="0.60"/>
<text transform="translate(307.90,306.70) rotate(-45)" text-anchor="end" font-size="4.3" fill="#4a4a4a" stroke="#4a4a4a" stroke-width="0.0">15,000</text>
<line x1="188.30" y1="272.50" x2="189.60" y2="272.50" stroke="#333" stroke-width="0.60"/>
<text x="188.20" y="271.80" text-anchor="end" font-size="4.4" fill="#4a4a4a" stroke="#4a4a4a" stroke-width="0.0">Barium</text>
<text x="188.20" y="276.60" text-anchor="end" font-size="4.4" fill="#4a4a4a" stroke="#4a4a4a" stroke-width="0.0">(N=7,021)</text>
<line x1="396.90" y1="11.20" x2="396.90" y2="66.20" stroke="#f7f7f7" stroke-width="0.50"/>
<line x1="422.00" y1="11.20" x2="422.00" y2="66.20" stroke="#f7f7f7" stroke-width="0.50"/>
<line x1="449.00" y1="11.20" x2="449.00" y2="66.20" stroke="#f7f7f7" stroke-width="0.50"/>
<line x1="476.00" y1="11.20" x2="476.00" y2="66.20" stroke="#f7f7f7" stroke-width="0.50"/>
<line x1="498.50" y1="11.20" x2="498.50" y2="66.20" stroke="#f7f7f7" stroke-width="0.50"/>
<line x1="384.40" y1="11.20" x2="384.40" y2="66.20" stroke="#ededed" stroke-width="0.60"/>
<line x1="409.40" y1="11.20" x2="409.40" y2="66.20" stroke="#ededed" stroke-width="0.60"/>
<line x1="434.50" y1="11.20" x2="434.50" y2="66.20" stroke="#ededed" stroke-width="0.60"/>
<line x1="463.40" y1="11.20" x2="463.40" y2="66.20" stroke="#ededed" stroke-width="0.60"/>
<line x1="488.40" y1="11.20" x2="488.40" y2="66.20" stroke="#ededed" stroke-width="0.60"/>
<line x1="508.60" y1="11.20" x2="508.60" y2="66.20" stroke="#ededed" stroke-width="0.60"/>
<line x1="377.40" y1="39.50" x2="515.50" y2="39.50" stroke="#ededed" stroke-width="0.60"/>
<path d="M384.50,28.60C384.75,28.80 385.08,29.52 386.00,29.80C386.92,30.08 386.00,30.25 390.00,30.30C395.67,30.35 411.67,30.08 420.00,30.10C428.33,30.12 435.78,30.45 440.00,30.40C444.22,30.35 443.77,30.12 445.30,29.80C446.83,29.48 447.90,28.58 449.20,28.50C450.50,28.42 452.00,29.45 453.10,29.30C454.20,29.15 454.48,27.93 455.80,27.60C457.12,27.27 459.92,27.78 461.00,27.30C462.08,26.82 461.72,26.23 462.30,24.70C462.88,23.17 463.77,20.15 464.50,18.10C465.23,16.05 466.00,13.57 466.70,12.40C467.40,11.23 468.05,11.02 468.70,11.10C469.35,11.18 469.92,11.37 470.60,12.90C471.28,14.43 472.07,18.55 472.80,20.30C473.53,22.05 474.18,22.30 475.00,23.40C475.82,24.50 476.82,25.73 477.70,26.90C478.58,28.07 479.87,29.82 480.30,30.40L480.30,30.40L384.50,30.40Z" fill="#bde0ea"/>
<line x1="384.50" y1="30.40" x2="485.10" y2="30.40" stroke="#4a4a4a" stroke-width="0.60"/>
<path d="M384.50,28.60C384.75,28.80 385.08,29.52 386.00,29.80C386.92,30.08 386.00,30.25 390.00,30.30C395.67,30.35 411.67,30.08 420.00,30.10C428.33,30.12 435.78,30.45 440.00,30.40C444.22,30.35 443.77,30.12 445.30,29.80C446.83,29.48 447.90,28.58 449.20,28.50C450.50,28.42 452.00,29.45 453.10,29.30C454.20,29.15 454.48,27.93 455.80,27.60C457.12,27.27 459.92,27.78 461.00,27.30C462.08,26.82 461.72,26.23 462.30,24.70C462.88,23.17 463.77,20.15 464.50,18.10C465.23,16.05 466.00,13.57 466.70,12.40C467.40,11.23 468.05,11.02 468.70,11.10C469.35,11.18 469.92,11.37 470.60,12.90C471.28,14.43 472.07,18.55 472.80,20.30C473.53,22.05 474.18,22.30 475.00,23.40C475.82,24.50 476.82,25.73 477.70,26.90C478.58,28.07 479.87,29.82 480.30,30.40" fill="none" stroke="#333" stroke-width="0.5"/>
<rect x="398.00" y="34.60" width="22.00" height="9.00" fill="#acd7e4" fill-opacity="0.10"/>
<rect x="420.00" y="34.60" width="12.00" height="9.00" fill="#acd7e4" fill-opacity="0.19"/>
<rect x="432.00" y="34.60" width="16.00" height="9.00" fill="#acd7e4" fill-opacity="0.30"/>
<rect x="448.00" y="34.80" width="30.00" height="8.60" fill="#acd7e4"/>
<rect x="478.00" y="34.60" width="8.00" height="9.00" fill="#acd7e4" fill-opacity="0.17"/>
<rect x="383.78" y="34.40" width="1.05" height="9.40" fill="#acd7e4" fill-opacity="0.90"/>
<rect x="391.28" y="34.40" width="1.05" height="9.40" fill="#acd7e4" fill-opacity="0.90"/>
<path fill="#acd7e4" fill-opacity="0.8" d="M408.0 35.1h.9v.9h-.9zM408.2 34.9h.9v.9h-.9zM412.6 40.6h.9v.9h-.9zM410.3 43.4h.9v.9h-.9zM398.5 40.8h.9v.9h-.9zM415.2 34.8h.9v.9h-.9zM404.6 34.2h.9v.9h-.9zM410.4 40.9h.9v.9h-.9zM405.2 40.6h.9v.9h-.9zM405.6 40.8h.9v.9h-.9zM403.6 43.4h.9v.9h-.9zM407.2 33.7h.9v.9h-.9zM399.6 40.9h.9v.9h-.9zM416.6 40.0h.9v.9h-.9zM401.0 42.4h.9v.9h-.9zM413.3 34.8h.9v.9h-.9zM405.9 40.4h.9v.9h-.9zM397.6 34.1h.9v.9h-.9zM405.3 42.4h.9v.9h-.9zM419.5 36.8h.9v.9h-.9zM417.5 41.5h.9v.9h-.9zM416.6 39.5h.9v.9h-.9zM418.9 40.1h.9v.9h-.9zM418.4 39.3h.9v.9h-.9zM401.9 38.8h.9v.9h-.9zM408.2 37.0h.9v.9h-.9zM405.8 38.8h.9v.9h-.9zM410.5 35.9h.9v.9h-.9zM403.7 38.7h.9v.9h-.9zM425.6 37.8h.9v.9h-.9zM427.5 35.5h.9v.9h-.9zM425.9 36.4h.9v.9h-.9zM428.8 40.7h.9v.9h-.9zM428.9 38.8h.9v.9h-.9zM422.5 42.9h.9v.9h-.9zM425.7 37.4h.9v.9h-.9zM423.0 37.7h.9v.9h-.9zM428.1 41.8h.9v.9h-.9zM425.3 41.0h.9v.9h-.9zM422.1 38.2h.9v.9h-.9zM423.8 36.7h.9v.9h-.9zM423.9 41.2h.9v.9h-.9zM428.4 35.7h.9v.9h-.9zM422.4 41.5h.9v.9h-.9zM427.4 40.4h.9v.9h-.9zM427.2 40.6h.9v.9h-.9zM422.8 34.3h.9v.9h-.9zM423.9 34.0h.9v.9h-.9zM431.1 38.9h.9v.9h-.9zM427.6 43.3h.9v.9h-.9zM429.2 35.9h.9v.9h-.9zM423.6 34.7h.9v.9h-.9zM429.1 41.0h.9v.9h-.9zM425.4 37.3h.9v.9h-.9zM422.8 38.5h.9v.9h-.9zM428.1 42.6h.9v.9h-.9zM429.7 42.3h.9v.9h-.9zM424.8 37.9h.9v.9h-.9zM423.3 43.4h.9v.9h-.9zM434.5 35.2h.9v.9h-.9zM436.0 42.9h.9v.9h-.9zM445.2 37.0h.9v.9h-.9zM445.2 42.6h.9v.9h-.9zM438.4 35.6h.9v.9h-.9zM443.9 37.4h.9v.9h-.9zM433.5 42.7h.9v.9h-.9zM438.6 37.6h.9v.9h-.9zM441.1 36.2h.9v.9h-.9zM431.9 37.6h.9v.9h-.9zM437.6 33.8h.9v.9h-.9zM437.5 41.3h.9v.9h-.9zM436.9 40.4h.9v.9h-.9zM441.5 35.5h.9v.9h-.9zM431.9 40.4h.9v.9h-.9zM441.3 36.6h.9v.9h-.9zM434.8 42.2h.9v.9h-.9zM446.1 36.0h.9v.9h-.9zM440.9 39.4h.9v.9h-.9zM436.7 34.0h.9v.9h-.9zM436.8 40.1h.9v.9h-.9zM441.2 38.8h.9v.9h-.9zM433.5 35.8h.9v.9h-.9zM436.5 37.8h.9v.9h-.9zM437.4 42.7h.9v.9h-.9zM433.4 43.5h.9v.9h-.9zM435.4 42.2h.9v.9h-.9zM435.4 39.5h.9v.9h-.9zM437.6 34.0h.9v.9h-.9zM444.3 41.8h.9v.9h-.9zM435.9 41.4h.9v.9h-.9zM439.2 43.5h.9v.9h-.9zM432.4 37.5h.9v.9h-.9zM435.2 39.9h.9v.9h-.9zM444.0 42.1h.9v.9h-.9zM440.3 37.5h.9v.9h-.9zM444.3 34.7h.9v.9h-.9zM435.7 41.2h.9v.9h-.9zM438.6 43.6h.9v.9h-.9zM433.0 38.3h.9v.9h-.9zM435.0 33.7h.9v.9h-.9zM433.0 34.6h.9v.9h-.9zM437.5 38.0h.9v.9h-.9zM439.7 36.5h.9v.9h-.9zM442.8 38.8h.9v.9h-.9zM447.3 35.3h.9v.9h-.9zM439.7 38.6h.9v.9h-.9zM437.5 42.3h.9v.9h-.9zM434.9 42.4h.9v.9h-.9zM437.3 37.0h.9v.9h-.9zM441.4 39.3h.9v.9h-.9zM436.1 34.5h.9v.9h-.9zM446.8 37.3h.9v.9h-.9zM433.4 40.2h.9v.9h-.9zM440.1 36.9h.9v.9h-.9zM436.8 42.1h.9v.9h-.9zM437.0 37.8h.9v.9h-.9zM446.9 37.3h.9v.9h-.9zM438.0 35.3h.9v.9h-.9zM442.1 40.3h.9v.9h-.9zM438.7 37.7h.9v.9h-.9zM435.3 41.5h.9v.9h-.9zM438.9 42.0h.9v.9h-.9zM437.5 41.0h.9v.9h-.9zM432.0 35.8h.9v.9h-.9zM476.4 43.3h.9v.9h-.9zM463.9 34.5h.9v.9h-.9zM466.9 34.3h.9v.9h-.9zM468.6 43.3h.9v.9h-.9zM456.3 34.2h.9v.9h-.9zM451.6 34.0h.9v.9h-.9zM467.7 34.4h.9v.9h-.9zM470.1 34.0h.9v.9h-.9zM472.2 34.3h.9v.9h-.9zM465.3 34.3h.9v.9h-.9zM455.6 34.5h.9v.9h-.9zM448.0 43.1h.9v.9h-.9zM463.5 42.9h.9v.9h-.9zM465.6 33.8h.9v.9h-.9zM448.2 42.7h.9v.9h-.9zM467.7 34.0h.9v.9h-.9zM473.7 43.1h.9v.9h-.9zM464.1 42.7h.9v.9h-.9zM454.4 43.6h.9v.9h-.9zM465.9 42.8h.9v.9h-.9zM458.9 34.5h.9v.9h-.9zM456.0 34.4h.9v.9h-.9zM451.5 34.0h.9v.9h-.9zM454.1 43.0h.9v.9h-.9zM462.6 43.4h.9v.9h-.9zM459.6 43.1h.9v.9h-.9zM452.2 34.4h.9v.9h-.9zM461.7 34.2h.9v.9h-.9zM467.2 33.9h.9v.9h-.9zM455.5 42.8h.9v.9h-.9zM458.9 42.9h.9v.9h-.9zM471.8 34.5h.9v.9h-.9zM464.1 34.3h.9v.9h-.9zM468.6 33.8h.9v.9h-.9zM471.1 43.5h.9v.9h-.9zM472.6 34.4h.9v.9h-.9zM452.2 43.5h.9v.9h-.9zM454.2 34.5h.9v.9h-.9zM450.5 34.4h.9v.9h-.9zM461.8 43.1h.9v.9h-.9zM472.7 33.7h.9v.9h-.9zM460.9 34.5h.9v.9h-.9zM463.7 43.4h.9v.9h-.9zM466.5 34.2h.9v.9h-.9zM467.0 34.0h.9v.9h-.9zM477.0 43.0h.9v.9h-.9zM464.1 34.4h.9v.9h-.9zM453.5 33.9h.9v.9h-.9zM479.7 35.5h.9v.9h-.9zM477.6 42.8h.9v.9h-.9zM479.3 36.1h.9v.9h-.9zM484.6 37.8h.9v.9h-.9zM483.6 42.3h.9v.9h-.9zM478.5 41.1h.9v.9h-.9zM481.2 38.6h.9v.9h-.9zM477.7 35.9h.9v.9h-.9zM480.4 36.8h.9v.9h-.9zM480.7 40.2h.9v.9h-.9zM481.8 35.9h.9v.9h-.9zM480.9 39.8h.9v.9h-.9zM484.0 41.1h.9v.9h-.9zM483.0 39.5h.9v.9h-.9zM481.8 41.2h.9v.9h-.9zM479.7 41.9h.9v.9h-.9zM484.8 41.9h.9v.9h-.9zM479.2 34.1h.9v.9h-.9zM479.3 43.2h.9v.9h-.9z"/>
<line x1="448.20" y1="39.50" x2="461.50" y2="39.50" stroke="#383838" stroke-width="0.90"/>
<line x1="470.50" y1="39.50" x2="482.70" y2="39.50" stroke="#383838" stroke-width="0.90"/>
<rect x="461.50" y="35.50" width="9.00" height="8.00" fill="#a9d6e3" fill-opacity="0.90" stroke="#333" stroke-width="0.75"/>
<line x1="466.50" y1="35.50" x2="466.50" y2="43.50" stroke="#333" stroke-width="0.90"/>
<line x1="461.50" y1="11.20" x2="461.50" y2="66.20" stroke="#3f8f4f" stroke-width="0.75" stroke-dasharray="1.8,1.5,0.5,1.5" opacity="0.85"/>
<line x1="481.50" y1="11.20" x2="481.50" y2="66.20" stroke="#b33a30" stroke-width="0.90" opacity="0.85"/>
<path d="M467.60,37.60l1.5,1.9l-1.5,1.9l-1.5,-1.9Z" fill="#fff" stroke="#333" stroke-width="0.4"/>
<line x1="377.40" y1="11.20" x2="377.40" y2="66.20" stroke="#7a7a7a" stroke-width="0.90"/>
<line x1="377.40" y1="66.20" x2="515.50" y2="66.20" stroke="#7a7a7a" stroke-width="0.90"/>
<line x1="384.40" y1="66.20" x2="384.40" y2="67.50" stroke="#333" stroke-width="0.60"/>
<text transform="translate(388.10,71.50) rotate(-45)" text-anchor="end" font-size="4.3" fill="#4a4a4a" stroke="#4a4a4a" stroke-width="0.0">0.01</text>
<line x1="409.40" y1="66.20" x2="409.40" y2="67.50" stroke="#333" stroke-width="0.60"/>
<text transform="translate(413.10,71.50) rotate(-45)" text-anchor="end" font-size="4.3" fill="#4a4a4a" stroke="#4a4a4a" stroke-width="0.0">0.1</text>
<line x1="434.50" y1="66.20" x2="434.50" y2="67.50" stroke="#333" stroke-width="0.60"/>
<text transform="translate(438.20,71.50) rotate(-45)" text-anchor="end" font-size="4.3" fill="#4a4a4a" stroke="#4a4a4a" stroke-width="0.0">1</text>
<line x1="463.40" y1="66.20" x2="463.40" y2="67.50" stroke="#333" stroke-width="0.60"/>
<text transform="translate(467.10,71.50) rotate(-45)" text-anchor="end" font-size="4.3" fill="#4a4a4a" stroke="#4a4a4a" stroke-width="0.0">15</text>
<line x1="488.40" y1="66.20" x2="488.40" y2="67.50" stroke="#333" stroke-width="0.60"/>
<text transform="translate(492.10,71.50) rotate(-45)" text-anchor="end" font-size="4.3" fill="#4a4a4a" stroke="#4a4a4a" stroke-width="0.0">150</text>
<line x1="508.60" y1="66.20" x2="508.60" y2="67.50" stroke="#333" stroke-width="0.60"/>
<text transform="translate(512.30,71.50) rotate(-45)" text-anchor="end" font-size="4.3" fill="#4a4a4a" stroke="#4a4a4a" stroke-width="0.0">1,000</text>
<line x1="376.10" y1="39.50" x2="377.40" y2="39.50" stroke="#333" stroke-width="0.60"/>
<text x="376.20" y="38.80" text-anchor="end" font-size="4.4" fill="#4a4a4a" stroke="#4a4a4a" stroke-width="0.0">Winter</text>
<text x="376.20" y="43.60" text-anchor="end" font-size="4.4" fill="#4a4a4a" stroke="#4a4a4a" stroke-width="0.0">(N=4,202)</text>
<line x1="396.90" y1="84.00" x2="396.90" y2="145.40" stroke="#f7f7f7" stroke-width="0.50"/>
<line x1="422.00" y1="84.00" x2="422.00" y2="145.40" stroke="#f7f7f7" stroke-width="0.50"/>
<line x1="449.00" y1="84.00" x2="449.00" y2="145.40" stroke="#f7f7f7" stroke-width="0.50"/>
<line x1="476.00" y1="84.00" x2="476.00" y2="145.40" stroke="#f7f7f7" stroke-width="0.50"/>
<line x1="498.50" y1="84.00" x2="498.50" y2="145.40" stroke="#f7f7f7" stroke-width="0.50"/>
<line x1="384.40" y1="84.00" x2="384.40" y2="145.40" stroke="#ededed" stroke-width="0.60"/>
<line x1="409.40" y1="84.00" x2="409.40" y2="145.40" stroke="#ededed" stroke-width="0.60"/>
<line x1="434.50" y1="84.00" x2="434.50" y2="145.40" stroke="#ededed" stroke-width="0.60"/>
<line x1="463.40" y1="84.00" x2="463.40" y2="145.40" stroke="#ededed" stroke-width="0.60"/>
<line x1="488.40" y1="84.00" x2="488.40" y2="145.40" stroke="#ededed" stroke-width="0.60"/>
<line x1="508.60" y1="84.00" x2="508.60" y2="145.40" stroke="#ededed" stroke-width="0.60"/>
<line x1="377.40" y1="115.90" x2="515.50" y2="115.90" stroke="#ededed" stroke-width="0.60"/>
<path d="M384.50,102.50C384.92,102.88 384.50,104.35 387.00,104.80C389.58,105.25 394.50,105.17 400.00,105.20C405.50,105.23 413.33,105.12 420.00,105.00C426.67,104.88 435.20,104.75 440.00,104.50C444.80,104.25 446.47,103.53 448.80,103.50C451.13,103.47 452.33,104.35 454.00,104.30C455.67,104.25 457.55,103.67 458.80,103.20C460.05,102.73 460.63,102.45 461.50,101.50C462.37,100.55 463.20,98.45 464.00,97.50C464.80,96.55 465.63,96.38 466.30,95.80C466.97,95.22 467.35,95.62 468.00,94.00C468.65,92.38 469.53,87.70 470.20,86.10C470.87,84.50 471.27,84.87 472.00,84.40C472.73,83.93 473.95,83.02 474.60,83.30C475.25,83.58 475.32,84.17 475.90,86.10C476.48,88.03 477.37,92.12 478.10,94.90C478.83,97.68 479.72,101.00 480.30,102.80C480.88,104.60 481.38,105.22 481.60,105.70L481.60,105.70L384.50,105.70Z" fill="#eda58b"/>
<line x1="384.50" y1="105.70" x2="494.70" y2="105.70" stroke="#4a4a4a" stroke-width="0.60"/>
<path d="M384.50,102.50C384.92,102.88 384.50,104.35 387.00,104.80C389.58,105.25 394.50,105.17 400.00,105.20C405.50,105.23 413.33,105.12 420.00,105.00C426.67,104.88 435.20,104.75 440.00,104.50C444.80,104.25 446.47,103.53 448.80,103.50C451.13,103.47 452.33,104.35 454.00,104.30C455.67,104.25 457.55,103.67 458.80,103.20C460.05,102.73 460.63,102.45 461.50,101.50C462.37,100.55 463.20,98.45 464.00,97.50C464.80,96.55 465.63,96.38 466.30,95.80C466.97,95.22 467.35,95.62 468.00,94.00C468.65,92.38 469.53,87.70 470.20,86.10C470.87,84.50 471.27,84.87 472.00,84.40C472.73,83.93 473.95,83.02 474.60,83.30C475.25,83.58 475.32,84.17 475.90,86.10C476.48,88.03 477.37,92.12 478.10,94.90C478.83,97.68 479.72,101.00 480.30,102.80C480.88,104.60 481.38,105.22 481.60,105.70" fill="none" stroke="#333" stroke-width="0.5"/>
<rect x="397.00" y="110.10" width="23.00" height="10.90" fill="#eb9c80" fill-opacity="0.23"/>
<rect x="420.00" y="110.10" width="20.00" height="10.90" fill="#eb9c80" fill-opacity="0.28"/>
<rect x="440.00" y="110.10" width="20.00" height="10.90" fill="#eb9c80" fill-opacity="0.40"/>
<rect x="460.00" y="110.30" width="21.20" height="10.50" fill="#eb9c80"/>
<rect x="384.18" y="109.90" width="1.05" height="11.30" fill="#eb9c80" fill-opacity="0.90"/>
<rect x="391.18" y="109.90" width="1.05" height="11.30" fill="#eb9c80" fill-opacity="0.60"/>
<path fill="#eb9c80" fill-opacity="0.8" d="M417.3 121.0h.9v.9h-.9zM408.2 110.6h.9v.9h-.9zM412.3 119.9h.9v.9h-.9zM406.5 109.3h.9v.9h-.9zM402.5 115.0h.9v.9h-.9zM400.2 111.4h.9v.9h-.9zM415.4 119.6h.9v.9h-.9zM406.5 116.7h.9v.9h-.9zM418.0 110.8h.9v.9h-.9zM405.6 109.2h.9v.9h-.9zM403.4 113.7h.9v.9h-.9zM413.1 115.3h.9v.9h-.9zM401.9 110.0h.9v.9h-.9zM397.7 110.1h.9v.9h-.9zM397.5 112.7h.9v.9h-.9zM414.8 117.3h.9v.9h-.9zM400.3 110.2h.9v.9h-.9zM411.3 121.0h.9v.9h-.9zM403.4 118.4h.9v.9h-.9zM417.6 117.5h.9v.9h-.9zM410.7 116.7h.9v.9h-.9zM413.6 119.8h.9v.9h-.9zM399.3 114.7h.9v.9h-.9zM407.8 114.4h.9v.9h-.9zM399.0 120.2h.9v.9h-.9zM405.3 111.5h.9v.9h-.9zM407.6 117.6h.9v.9h-.9zM405.3 115.3h.9v.9h-.9zM409.3 119.1h.9v.9h-.9zM410.0 116.9h.9v.9h-.9zM402.6 120.1h.9v.9h-.9zM400.1 113.8h.9v.9h-.9zM410.6 113.5h.9v.9h-.9zM410.4 111.2h.9v.9h-.9zM400.0 112.4h.9v.9h-.9zM415.8 110.6h.9v.9h-.9zM396.9 110.1h.9v.9h-.9zM410.7 117.0h.9v.9h-.9zM414.7 120.0h.9v.9h-.9zM406.7 118.2h.9v.9h-.9zM398.9 118.7h.9v.9h-.9zM405.9 115.2h.9v.9h-.9zM415.4 118.8h.9v.9h-.9zM404.9 118.7h.9v.9h-.9zM398.6 109.5h.9v.9h-.9zM408.1 116.7h.9v.9h-.9zM415.3 115.7h.9v.9h-.9zM410.5 110.0h.9v.9h-.9zM403.2 120.7h.9v.9h-.9zM406.7 116.1h.9v.9h-.9zM403.7 120.6h.9v.9h-.9zM409.5 120.8h.9v.9h-.9zM409.0 117.0h.9v.9h-.9zM403.6 109.8h.9v.9h-.9zM399.1 114.2h.9v.9h-.9zM409.7 111.7h.9v.9h-.9zM415.8 119.4h.9v.9h-.9zM412.1 112.6h.9v.9h-.9zM409.8 109.4h.9v.9h-.9zM407.0 113.0h.9v.9h-.9zM409.2 116.7h.9v.9h-.9zM408.3 110.3h.9v.9h-.9zM408.4 113.2h.9v.9h-.9zM405.0 112.9h.9v.9h-.9zM415.7 112.6h.9v.9h-.9zM403.6 112.1h.9v.9h-.9zM417.6 115.3h.9v.9h-.9zM410.2 116.3h.9v.9h-.9zM402.1 114.3h.9v.9h-.9zM407.2 120.4h.9v.9h-.9zM416.2 118.7h.9v.9h-.9zM399.7 115.7h.9v.9h-.9zM399.5 118.8h.9v.9h-.9zM396.9 112.2h.9v.9h-.9zM412.7 113.4h.9v.9h-.9zM412.4 120.2h.9v.9h-.9zM405.7 111.2h.9v.9h-.9zM411.5 112.7h.9v.9h-.9zM415.0 111.3h.9v.9h-.9zM411.3 115.4h.9v.9h-.9zM406.2 119.8h.9v.9h-.9zM418.6 113.8h.9v.9h-.9zM412.3 111.5h.9v.9h-.9zM432.9 115.8h.9v.9h-.9zM439.1 112.6h.9v.9h-.9zM432.7 113.9h.9v.9h-.9zM427.5 113.8h.9v.9h-.9zM422.4 115.2h.9v.9h-.9zM426.3 115.8h.9v.9h-.9zM420.3 110.1h.9v.9h-.9zM433.2 110.1h.9v.9h-.9zM430.7 111.2h.9v.9h-.9zM426.7 118.5h.9v.9h-.9zM437.4 114.6h.9v.9h-.9zM426.2 116.3h.9v.9h-.9zM439.2 119.7h.9v.9h-.9zM423.2 115.6h.9v.9h-.9zM423.1 110.2h.9v.9h-.9zM437.4 115.5h.9v.9h-.9zM429.1 119.4h.9v.9h-.9zM430.0 110.9h.9v.9h-.9zM430.6 120.8h.9v.9h-.9zM435.8 120.7h.9v.9h-.9zM425.3 110.1h.9v.9h-.9zM423.7 120.1h.9v.9h-.9zM438.5 111.8h.9v.9h-.9zM428.9 114.4h.9v.9h-.9zM432.2 118.5h.9v.9h-.9zM421.4 120.4h.9v.9h-.9zM427.6 112.0h.9v.9h-.9zM431.4 114.6h.9v.9h-.9zM427.9 117.1h.9v.9h-.9zM421.4 114.5h.9v.9h-.9zM423.8 109.8h.9v.9h-.9zM431.0 109.5h.9v.9h-.9zM436.4 118.2h.9v.9h-.9zM431.4 116.6h.9v.9h-.9zM431.3 119.7h.9v.9h-.9zM429.3 110.9h.9v.9h-.9zM427.5 119.8h.9v.9h-.9zM428.8 113.3h.9v.9h-.9zM422.8 110.2h.9v.9h-.9zM439.2 118.5h.9v.9h-.9zM432.8 113.1h.9v.9h-.9zM428.2 111.5h.9v.9h-.9zM425.3 117.3h.9v.9h-.9zM420.5 115.1h.9v.9h-.9zM429.7 109.6h.9v.9h-.9zM424.6 118.0h.9v.9h-.9zM438.4 112.2h.9v.9h-.9zM425.0 114.3h.9v.9h-.9zM430.0 114.5h.9v.9h-.9zM428.9 115.9h.9v.9h-.9zM437.9 117.3h.9v.9h-.9zM423.1 110.5h.9v.9h-.9zM434.4 117.2h.9v.9h-.9zM433.7 111.6h.9v.9h-.9zM423.7 117.1h.9v.9h-.9zM423.3 113.1h.9v.9h-.9zM434.1 114.9h.9v.9h-.9zM420.5 119.1h.9v.9h-.9zM435.8 109.8h.9v.9h-.9zM428.5 110.0h.9v.9h-.9zM420.2 119.7h.9v.9h-.9zM434.4 115.1h.9v.9h-.9zM421.3 111.9h.9v.9h-.9zM422.3 109.7h.9v.9h-.9zM427.8 113.2h.9v.9h-.9zM432.2 114.1h.9v.9h-.9zM420.7 119.6h.9v.9h-.9zM419.7 109.6h.9v.9h-.9zM435.3 114.3h.9v.9h-.9zM424.0 120.9h.9v.9h-.9zM420.1 119.2h.9v.9h-.9zM436.6 119.4h.9v.9h-.9zM429.3 115.0h.9v.9h-.9zM427.0 110.3h.9v.9h-.9zM427.1 112.9h.9v.9h-.9zM438.7 116.6h.9v.9h-.9zM427.7 120.6h.9v.9h-.9zM429.5 115.4h.9v.9h-.9zM421.6 110.3h.9v.9h-.9zM432.7 115.1h.9v.9h-.9zM428.2 115.2h.9v.9h-.9zM420.0 117.9h.9v.9h-.9zM428.9 118.3h.9v.9h-.9zM436.5 112.8h.9v.9h-.9zM431.7 114.2h.9v.9h-.9zM431.5 117.1h.9v.9h-.9zM419.6 114.8h.9v.9h-.9zM437.5 113.3h.9v.9h-.9zM448.9 110.4h.9v.9h-.9zM452.1 116.3h.9v.9h-.9zM440.6 112.8h.9v.9h-.9zM444.2 119.0h.9v.9h-.9zM447.5 119.7h.9v.9h-.9zM455.5 117.0h.9v.9h-.9zM448.2 119.7h.9v.9h-.9zM452.2 116.1h.9v.9h-.9zM442.5 117.9h.9v.9h-.9zM445.6 119.9h.9v.9h-.9zM440.5 112.6h.9v.9h-.9zM452.9 110.9h.9v.9h-.9zM453.7 117.5h.9v.9h-.9zM454.9 112.1h.9v.9h-.9zM457.8 111.1h.9v.9h-.9zM444.8 117.9h.9v.9h-.9zM456.3 118.0h.9v.9h-.9zM453.9 120.8h.9v.9h-.9zM454.9 116.5h.9v.9h-.9zM442.4 118.7h.9v.9h-.9zM455.9 110.4h.9v.9h-.9zM448.3 119.7h.9v.9h-.9zM458.6 111.0h.9v.9h-.9zM448.5 119.2h.9v.9h-.9zM458.8 112.6h.9v.9h-.9zM447.0 115.4h.9v.9h-.9zM455.5 109.8h.9v.9h-.9zM442.0 119.1h.9v.9h-.9zM439.6 119.1h.9v.9h-.9zM453.2 118.0h.9v.9h-.9zM446.1 110.0h.9v.9h-.9zM447.1 120.2h.9v.9h-.9zM450.4 109.6h.9v.9h-.9zM457.1 119.3h.9v.9h-.9zM448.7 118.1h.9v.9h-.9zM449.3 119.1h.9v.9h-.9zM442.0 119.7h.9v.9h-.9zM442.6 112.8h.9v.9h-.9zM457.6 109.8h.9v.9h-.9zM457.8 112.2h.9v.9h-.9zM457.5 111.3h.9v.9h-.9zM448.3 115.4h.9v.9h-.9zM455.7 120.8h.9v.9h-.9zM459.1 110.7h.9v.9h-.9zM443.3 117.6h.9v.9h-.9zM447.4 110.9h.9v.9h-.9zM453.1 114.5h.9v.9h-.9zM455.7 116.3h.9v.9h-.9zM443.2 116.5h.9v.9h-.9zM447.0 111.0h.9v.9h-.9zM453.4 109.4h.9v.9h-.9zM457.0 111.6h.9v.9h-.9zM445.7 109.2h.9v.9h-.9zM446.0 118.0h.9v.9h-.9zM458.0 117.2h.9v.9h-.9zM455.7 115.6h.9v.9h-.9zM448.4 110.3h.9v.9h-.9zM447.6 111.3h.9v.9h-.9zM443.7 120.2h.9v.9h-.9zM439.7 120.0h.9v.9h-.9zM447.6 110.6h.9v.9h-.9zM448.6 109.8h.9v.9h-.9zM458.4 116.6h.9v.9h-.9zM441.9 113.9h.9v.9h-.9zM443.6 116.1h.9v.9h-.9zM448.3 113.3h.9v.9h-.9zM448.6 113.5h.9v.9h-.9zM456.6 119.6h.9v.9h-.9zM440.9 114.1h.9v.9h-.9zM445.4 110.5h.9v.9h-.9zM448.3 114.4h.9v.9h-.9zM443.3 119.6h.9v.9h-.9zM455.5 112.8h.9v.9h-.9zM452.0 110.2h.9v.9h-.9zM441.9 109.9h.9v.9h-.9zM448.4 114.2h.9v.9h-.9zM449.4 113.9h.9v.9h-.9zM444.2 117.5h.9v.9h-.9zM452.4 115.2h.9v.9h-.9zM443.4 109.2h.9v.9h-.9zM457.2 119.1h.9v.9h-.9zM458.8 113.2h.9v.9h-.9zM452.4 115.8h.9v.9h-.9zM454.0 110.2h.9v.9h-.9zM447.4 111.0h.9v.9h-.9zM447.8 110.7h.9v.9h-.9zM446.0 119.0h.9v.9h-.9zM445.3 119.5h.9v.9h-.9zM455.0 116.2h.9v.9h-.9zM451.8 116.5h.9v.9h-.9zM443.0 112.2h.9v.9h-.9zM449.6 109.3h.9v.9h-.9zM453.7 118.6h.9v.9h-.9zM445.0 115.5h.9v.9h-.9zM449.5 119.6h.9v.9h-.9zM457.0 114.2h.9v.9h-.9zM440.0 121.0h.9v.9h-.9zM454.1 117.5h.9v.9h-.9zM453.2 110.3h.9v.9h-.9zM452.3 121.0h.9v.9h-.9zM445.8 111.6h.9v.9h-.9zM447.0 117.0h.9v.9h-.9zM453.3 114.6h.9v.9h-.9zM448.2 113.8h.9v.9h-.9zM444.1 112.8h.9v.9h-.9zM441.8 118.1h.9v.9h-.9zM454.8 120.3h.9v.9h-.9zM452.8 115.9h.9v.9h-.9zM452.2 112.0h.9v.9h-.9zM452.1 115.2h.9v.9h-.9zM459.4 113.1h.9v.9h-.9zM447.3 121.0h.9v.9h-.9zM454.2 109.6h.9v.9h-.9zM449.5 115.2h.9v.9h-.9zM452.8 118.8h.9v.9h-.9zM440.7 112.7h.9v.9h-.9zM441.1 111.7h.9v.9h-.9zM449.5 112.7h.9v.9h-.9zM457.6 114.0h.9v.9h-.9zM441.1 117.9h.9v.9h-.9zM443.0 111.6h.9v.9h-.9zM441.4 111.0h.9v.9h-.9zM450.1 118.0h.9v.9h-.9zM446.8 110.8h.9v.9h-.9zM446.0 114.2h.9v.9h-.9zM442.0 110.1h.9v.9h-.9zM446.0 119.4h.9v.9h-.9zM447.6 117.8h.9v.9h-.9zM447.0 120.9h.9v.9h-.9zM465.2 120.2h.9v.9h-.9zM479.6 110.1h.9v.9h-.9zM472.2 109.8h.9v.9h-.9zM463.6 110.1h.9v.9h-.9zM473.1 109.3h.9v.9h-.9zM472.7 120.1h.9v.9h-.9zM476.1 109.9h.9v.9h-.9zM471.7 120.3h.9v.9h-.9zM471.4 120.4h.9v.9h-.9zM461.3 110.0h.9v.9h-.9zM472.0 120.7h.9v.9h-.9zM470.1 109.6h.9v.9h-.9zM469.9 109.2h.9v.9h-.9zM466.5 120.7h.9v.9h-.9zM473.7 120.7h.9v.9h-.9zM476.5 120.9h.9v.9h-.9zM470.9 109.7h.9v.9h-.9zM480.5 120.1h.9v.9h-.9zM466.9 109.9h.9v.9h-.9zM468.3 109.4h.9v.9h-.9zM480.0 120.8h.9v.9h-.9zM465.3 121.0h.9v.9h-.9zM475.8 121.0h.9v.9h-.9zM465.0 110.1h.9v.9h-.9zM464.3 120.8h.9v.9h-.9zM465.1 120.8h.9v.9h-.9zM465.5 109.7h.9v.9h-.9zM464.0 109.3h.9v.9h-.9zM470.3 120.1h.9v.9h-.9zM470.1 109.5h.9v.9h-.9zM466.8 110.1h.9v.9h-.9zM469.6 120.2h.9v.9h-.9zM472.4 109.2h.9v.9h-.9zM481.1 117.4h1.1v1.1h-1.1zM483.9 115.4h1.1v1.1h-1.1zM492.2 113.2h1.1v1.1h-1.1zM487.5 117.0h1.1v1.1h-1.1zM483.3 116.5h1.1v1.1h-1.1zM486.5 120.7h1.1v1.1h-1.1zM483.2 117.5h1.1v1.1h-1.1zM481.2 112.3h1.1v1.1h-1.1zM482.3 110.8h1.1v1.1h-1.1zM487.9 111.1h1.1v1.1h-1.1zM491.6 110.2h1.1v1.1h-1.1zM489.2 119.3h1.1v1.1h-1.1zM482.4 111.6h1.1v1.1h-1.1zM491.2 114.6h1.1v1.1h-1.1zM493.5 113.1h1.1v1.1h-1.1zM486.1 120.4h1.1v1.1h-1.1z"/>
<line x1="444.80" y1="115.50" x2="462.50" y2="115.50" stroke="#383838" stroke-width="0.90"/>
<line x1="474.50" y1="115.50" x2="488.20" y2="115.50" stroke="#383838" stroke-width="0.90"/>
<rect x="462.50" y="111.50" width="12.00" height="9.00" fill="#e99476" fill-opacity="0.90" stroke="#333" stroke-width="0.75"/>
<line x1="470.50" y1="111.50" x2="470.50" y2="120.50" stroke="#333" stroke-width="0.90"/>
<line x1="461.50" y1="84.00" x2="461.50" y2="145.40" stroke="#3f8f4f" stroke-width="0.75" stroke-dasharray="1.8,1.5,0.5,1.5" opacity="0.85"/>
<line x1="481.50" y1="84.00" x2="481.50" y2="145.40" stroke="#b33a30" stroke-width="0.90" opacity="0.85"/>
<circle cx="470.00" cy="115.50" r="1.45" fill="#fff"/>
<line x1="377.40" y1="84.00" x2="377.40" y2="145.40" stroke="#7a7a7a" stroke-width="0.90"/>
<line x1="377.40" y1="145.40" x2="515.50" y2="145.40" stroke="#7a7a7a" stroke-width="0.90"/>
<line x1="384.40" y1="145.40" x2="384.40" y2="146.70" stroke="#333" stroke-width="0.60"/>
<text transform="translate(388.10,150.70) rotate(-45)" text-anchor="end" font-size="4.3" fill="#4a4a4a" stroke="#4a4a4a" stroke-width="0.0">0.01</text>
<line x1="409.40" y1="145.40" x2="409.40" y2="146.70" stroke="#333" stroke-width="0.60"/>
<text transform="translate(413.10,150.70) rotate(-45)" text-anchor="end" font-size="4.3" fill="#4a4a4a" stroke="#4a4a4a" stroke-width="0.0">0.1</text>
<line x1="434.50" y1="145.40" x2="434.50" y2="146.70" stroke="#333" stroke-width="0.60"/>
<text transform="translate(438.20,150.70) rotate(-45)" text-anchor="end" font-size="4.3" fill="#4a4a4a" stroke="#4a4a4a" stroke-width="0.0">1</text>
<line x1="463.40" y1="145.40" x2="463.40" y2="146.70" stroke="#333" stroke-width="0.60"/>
<text transform="translate(467.10,150.70) rotate(-45)" text-anchor="end" font-size="4.3" fill="#4a4a4a" stroke="#4a4a4a" stroke-width="0.0">15</text>
<line x1="488.40" y1="145.40" x2="488.40" y2="146.70" stroke="#333" stroke-width="0.60"/>
<text transform="translate(492.10,150.70) rotate(-45)" text-anchor="end" font-size="4.3" fill="#4a4a4a" stroke="#4a4a4a" stroke-width="0.0">150</text>
<line x1="508.60" y1="145.40" x2="508.60" y2="146.70" stroke="#333" stroke-width="0.60"/>
<text transform="translate(512.30,150.70) rotate(-45)" text-anchor="end" font-size="4.3" fill="#4a4a4a" stroke="#4a4a4a" stroke-width="0.0">1,000</text>
<line x1="376.10" y1="115.90" x2="377.40" y2="115.90" stroke="#333" stroke-width="0.60"/>
<text x="376.20" y="115.20" text-anchor="end" font-size="4.4" fill="#4a4a4a" stroke="#4a4a4a" stroke-width="0.0">Spring</text>
<text x="376.20" y="120.00" text-anchor="end" font-size="4.4" fill="#4a4a4a" stroke="#4a4a4a" stroke-width="0.0">(N=4,402)</text>
<line x1="396.90" y1="163.00" x2="396.90" y2="225.30" stroke="#f7f7f7" stroke-width="0.50"/>
<line x1="422.00" y1="163.00" x2="422.00" y2="225.30" stroke="#f7f7f7" stroke-width="0.50"/>
<line x1="449.00" y1="163.00" x2="449.00" y2="225.30" stroke="#f7f7f7" stroke-width="0.50"/>
<line x1="476.00" y1="163.00" x2="476.00" y2="225.30" stroke="#f7f7f7" stroke-width="0.50"/>
<line x1="498.50" y1="163.00" x2="498.50" y2="225.30" stroke="#f7f7f7" stroke-width="0.50"/>
<line x1="384.40" y1="163.00" x2="384.40" y2="225.30" stroke="#ededed" stroke-width="0.60"/>
<line x1="409.40" y1="163.00" x2="409.40" y2="225.30" stroke="#ededed" stroke-width="0.60"/>
<line x1="434.50" y1="163.00" x2="434.50" y2="225.30" stroke="#ededed" stroke-width="0.60"/>
<line x1="463.40" y1="163.00" x2="463.40" y2="225.30" stroke="#ededed" stroke-width="0.60"/>
<line x1="488.40" y1="163.00" x2="488.40" y2="225.30" stroke="#ededed" stroke-width="0.60"/>
<line x1="508.60" y1="163.00" x2="508.60" y2="225.30" stroke="#ededed" stroke-width="0.60"/>
<line x1="377.40" y1="195.30" x2="515.50" y2="195.30" stroke="#ededed" stroke-width="0.60"/>
<path d="M384.50,182.20C384.92,182.67 384.50,184.48 387.00,185.00C389.58,185.52 394.50,185.38 400.00,185.30C405.50,185.22 413.33,184.85 420.00,184.50C426.67,184.15 435.50,183.73 440.00,183.20C444.50,182.67 444.52,181.78 447.00,181.30C449.48,180.82 452.72,180.85 454.90,180.30C457.08,179.75 458.65,178.58 460.10,178.00C461.55,177.42 462.35,177.13 463.60,176.80C464.85,176.47 466.50,176.75 467.60,176.00C468.70,175.25 469.33,173.87 470.20,172.30C471.07,170.73 471.92,168.10 472.80,166.60C473.68,165.10 474.68,163.38 475.50,163.30C476.32,163.22 476.90,164.32 477.70,166.10C478.50,167.88 479.43,171.58 480.30,174.00C481.17,176.42 482.03,178.92 482.90,180.60C483.77,182.28 484.62,183.30 485.50,184.10C486.38,184.90 487.75,185.18 488.20,185.40L488.20,185.50L384.50,185.50Z" fill="#f7bf2e"/>
<line x1="384.50" y1="185.50" x2="493.00" y2="185.50" stroke="#4a4a4a" stroke-width="0.60"/>
<path d="M384.50,182.20C384.92,182.67 384.50,184.48 387.00,185.00C389.58,185.52 394.50,185.38 400.00,185.30C405.50,185.22 413.33,184.85 420.00,184.50C426.67,184.15 435.50,183.73 440.00,183.20C444.50,182.67 444.52,181.78 447.00,181.30C449.48,180.82 452.72,180.85 454.90,180.30C457.08,179.75 458.65,178.58 460.10,178.00C461.55,177.42 462.35,177.13 463.60,176.80C464.85,176.47 466.50,176.75 467.60,176.00C468.70,175.25 469.33,173.87 470.20,172.30C471.07,170.73 471.92,168.10 472.80,166.60C473.68,165.10 474.68,163.38 475.50,163.30C476.32,163.22 476.90,164.32 477.70,166.10C478.50,167.88 479.43,171.58 480.30,174.00C481.17,176.42 482.03,178.92 482.90,180.60C483.77,182.28 484.62,183.30 485.50,184.10C486.38,184.90 487.75,185.18 488.20,185.40" fill="none" stroke="#333" stroke-width="0.5"/>
<rect x="399.00" y="190.20" width="26.00" height="9.70" fill="#f6bb22" fill-opacity="0.35"/>
<rect x="425.00" y="190.40" width="61.00" height="9.30" fill="#f6bb22"/>
<rect x="486.00" y="190.20" width="4.00" height="9.70" fill="#f6bb22" fill-opacity="0.10"/>
<rect x="384.08" y="190.00" width="1.05" height="10.10" fill="#f6bb22" fill-opacity="0.95"/>
<rect x="391.28" y="190.00" width="1.05" height="10.10" fill="#f6bb22" fill-opacity="0.80"/>
<rect x="394.88" y="190.00" width="1.05" height="10.10" fill="#f6bb22" fill-opacity="0.80"/>
<rect x="397.28" y="190.00" width="1.05" height="10.10" fill="#f6bb22" fill-opacity="0.70"/>
<path fill="#f6bb22" fill-opacity="0.8" d="M407.5 199.6h.9v.9h-.9zM421.7 191.4h.9v.9h-.9zM412.7 199.3h.9v.9h-.9zM401.6 198.3h.9v.9h-.9zM418.7 197.3h.9v.9h-.9zM414.2 190.3h.9v.9h-.9zM423.5 190.3h.9v.9h-.9zM418.9 197.0h.9v.9h-.9zM406.8 196.6h.9v.9h-.9zM409.2 197.3h.9v.9h-.9zM399.7 199.2h.9v.9h-.9zM408.5 197.8h.9v.9h-.9zM410.8 197.9h.9v.9h-.9zM406.4 195.1h.9v.9h-.9zM399.2 194.5h.9v.9h-.9zM400.6 198.4h.9v.9h-.9zM416.2 193.8h.9v.9h-.9zM423.9 199.4h.9v.9h-.9zM423.4 190.1h.9v.9h-.9zM416.9 197.0h.9v.9h-.9zM414.3 189.4h.9v.9h-.9zM422.6 193.9h.9v.9h-.9zM414.0 198.0h.9v.9h-.9zM405.7 189.6h.9v.9h-.9zM422.6 192.1h.9v.9h-.9zM399.6 190.7h.9v.9h-.9zM424.4 197.2h.9v.9h-.9zM404.0 190.8h.9v.9h-.9zM421.9 196.4h.9v.9h-.9zM413.7 190.7h.9v.9h-.9zM409.3 199.4h.9v.9h-.9zM398.6 193.7h.9v.9h-.9zM400.0 199.9h.9v.9h-.9zM401.3 199.5h.9v.9h-.9zM420.4 197.1h.9v.9h-.9zM399.6 196.7h.9v.9h-.9zM411.4 194.5h.9v.9h-.9zM402.3 194.7h.9v.9h-.9zM419.4 190.7h.9v.9h-.9zM421.3 193.7h.9v.9h-.9zM405.5 191.8h.9v.9h-.9zM410.5 196.2h.9v.9h-.9zM413.4 198.8h.9v.9h-.9zM411.8 194.7h.9v.9h-.9zM424.3 191.6h.9v.9h-.9zM399.0 192.8h.9v.9h-.9zM406.7 190.6h.9v.9h-.9zM409.4 189.6h.9v.9h-.9zM422.5 194.4h.9v.9h-.9zM421.4 196.7h.9v.9h-.9zM417.5 197.4h.9v.9h-.9zM406.4 197.1h.9v.9h-.9zM403.9 195.2h.9v.9h-.9zM414.0 197.5h.9v.9h-.9zM402.9 192.9h.9v.9h-.9zM420.0 197.9h.9v.9h-.9zM424.0 190.5h.9v.9h-.9zM404.0 190.4h.9v.9h-.9zM417.4 197.2h.9v.9h-.9zM415.4 197.6h.9v.9h-.9zM412.0 195.3h.9v.9h-.9zM422.5 196.2h.9v.9h-.9zM415.6 195.5h.9v.9h-.9zM411.4 197.3h.9v.9h-.9zM413.4 190.6h.9v.9h-.9zM409.6 193.8h.9v.9h-.9zM409.8 195.3h.9v.9h-.9zM408.0 193.4h.9v.9h-.9zM409.6 193.2h.9v.9h-.9zM423.8 190.2h.9v.9h-.9zM399.0 197.0h.9v.9h-.9zM408.8 194.1h.9v.9h-.9zM413.9 193.2h.9v.9h-.9zM404.8 189.4h.9v.9h-.9zM421.3 199.3h.9v.9h-.9zM406.0 194.2h.9v.9h-.9zM407.0 189.9h.9v.9h-.9zM421.8 198.2h.9v.9h-.9zM404.8 192.0h.9v.9h-.9zM416.7 197.8h.9v.9h-.9zM410.8 193.4h.9v.9h-.9zM404.6 197.8h.9v.9h-.9zM421.0 198.4h.9v.9h-.9zM401.5 195.6h.9v.9h-.9zM424.2 196.9h.9v.9h-.9zM410.5 190.8h.9v.9h-.9zM400.1 197.1h.9v.9h-.9zM400.3 197.9h.9v.9h-.9zM415.9 194.3h.9v.9h-.9zM421.7 199.2h.9v.9h-.9zM414.6 190.3h.9v.9h-.9zM413.9 193.8h.9v.9h-.9zM405.0 199.2h.9v.9h-.9zM417.5 190.6h.9v.9h-.9zM404.5 192.9h.9v.9h-.9zM413.4 192.7h.9v.9h-.9zM410.0 198.0h.9v.9h-.9zM403.3 197.0h.9v.9h-.9zM407.1 199.4h.9v.9h-.9zM423.3 192.8h.9v.9h-.9zM414.3 190.4h.9v.9h-.9zM409.2 195.9h.9v.9h-.9zM415.1 192.9h.9v.9h-.9zM399.4 190.6h.9v.9h-.9zM413.1 191.1h.9v.9h-.9zM406.5 195.9h.9v.9h-.9zM422.0 194.8h.9v.9h-.9zM405.2 195.5h.9v.9h-.9zM405.7 197.6h.9v.9h-.9zM402.6 192.1h.9v.9h-.9zM410.0 199.0h.9v.9h-.9zM402.9 191.3h.9v.9h-.9zM402.0 191.5h.9v.9h-.9zM407.2 193.5h.9v.9h-.9zM418.3 193.6h.9v.9h-.9zM410.9 193.5h.9v.9h-.9zM418.7 198.9h.9v.9h-.9zM409.6 199.1h.9v.9h-.9zM405.1 199.7h.9v.9h-.9zM412.2 196.5h.9v.9h-.9zM408.5 192.2h.9v.9h-.9zM402.1 198.7h.9v.9h-.9zM407.9 196.7h.9v.9h-.9zM410.5 194.9h.9v.9h-.9zM403.9 191.1h.9v.9h-.9zM407.3 196.5h.9v.9h-.9zM412.7 189.3h.9v.9h-.9zM417.0 193.9h.9v.9h-.9zM400.3 192.0h.9v.9h-.9zM404.1 198.1h.9v.9h-.9zM412.9 192.7h.9v.9h-.9zM405.0 192.4h.9v.9h-.9zM441.6 189.6h.9v.9h-.9zM467.1 190.1h.9v.9h-.9zM459.5 189.3h.9v.9h-.9zM474.7 189.8h.9v.9h-.9zM454.4 199.8h.9v.9h-.9zM427.4 190.2h.9v.9h-.9zM448.8 199.7h.9v.9h-.9zM467.8 199.9h.9v.9h-.9zM441.8 189.5h.9v.9h-.9zM429.7 199.5h.9v.9h-.9zM445.3 199.6h.9v.9h-.9zM435.5 190.1h.9v.9h-.9zM426.4 189.6h.9v.9h-.9zM458.3 199.8h.9v.9h-.9zM434.6 199.0h.9v.9h-.9zM475.6 189.3h.9v.9h-.9zM432.4 189.5h.9v.9h-.9zM455.4 189.4h.9v.9h-.9zM457.6 199.1h.9v.9h-.9zM434.6 199.1h.9v.9h-.9zM432.8 199.2h.9v.9h-.9zM473.4 199.3h.9v.9h-.9zM477.3 190.2h.9v.9h-.9zM459.2 199.1h.9v.9h-.9zM444.2 189.7h.9v.9h-.9zM435.5 199.4h.9v.9h-.9zM443.9 189.4h.9v.9h-.9zM447.2 199.1h.9v.9h-.9zM452.6 199.3h.9v.9h-.9zM467.8 189.4h.9v.9h-.9zM446.1 199.4h.9v.9h-.9zM470.9 199.3h.9v.9h-.9zM433.0 189.3h.9v.9h-.9zM466.9 189.9h.9v.9h-.9zM474.0 189.8h.9v.9h-.9zM449.6 189.8h.9v.9h-.9zM430.8 189.4h.9v.9h-.9zM481.3 189.3h.9v.9h-.9zM470.5 190.2h.9v.9h-.9zM434.1 199.9h.9v.9h-.9zM483.6 190.1h.9v.9h-.9zM466.1 199.7h.9v.9h-.9zM480.9 189.3h.9v.9h-.9zM466.3 199.5h.9v.9h-.9zM483.1 199.8h.9v.9h-.9zM458.2 199.0h.9v.9h-.9zM468.1 190.1h.9v.9h-.9zM464.1 189.3h.9v.9h-.9zM429.9 199.2h.9v.9h-.9zM464.1 199.5h.9v.9h-.9zM459.9 199.5h.9v.9h-.9zM484.1 199.7h.9v.9h-.9zM429.1 189.4h.9v.9h-.9zM457.6 190.2h.9v.9h-.9zM483.0 189.5h.9v.9h-.9zM449.0 199.0h.9v.9h-.9zM442.9 199.5h.9v.9h-.9zM470.9 189.8h.9v.9h-.9zM453.3 189.7h.9v.9h-.9zM430.5 190.2h.9v.9h-.9zM476.6 190.1h.9v.9h-.9zM438.6 189.6h.9v.9h-.9zM444.6 199.9h.9v.9h-.9zM461.0 199.8h.9v.9h-.9zM444.7 190.0h.9v.9h-.9zM435.3 190.2h.9v.9h-.9zM452.7 190.2h.9v.9h-.9zM481.7 199.3h.9v.9h-.9zM457.2 190.2h.9v.9h-.9zM429.1 199.6h.9v.9h-.9zM429.0 199.7h.9v.9h-.9zM478.0 189.5h.9v.9h-.9zM445.7 189.3h.9v.9h-.9zM447.0 199.2h.9v.9h-.9zM430.3 199.0h.9v.9h-.9zM445.8 199.0h.9v.9h-.9zM452.0 199.1h.9v.9h-.9zM481.6 199.8h.9v.9h-.9zM465.4 190.1h.9v.9h-.9zM429.7 190.2h.9v.9h-.9zM433.5 190.2h.9v.9h-.9zM449.5 190.1h.9v.9h-.9zM424.7 189.3h.9v.9h-.9zM432.4 189.7h.9v.9h-.9zM468.1 199.0h.9v.9h-.9zM444.1 189.3h.9v.9h-.9zM460.4 190.2h.9v.9h-.9zM463.6 189.5h.9v.9h-.9zM451.3 199.3h.9v.9h-.9zM485.2 199.7h.9v.9h-.9zM467.3 189.6h.9v.9h-.9zM457.2 199.0h.9v.9h-.9zM431.0 199.6h.9v.9h-.9zM476.6 199.6h.9v.9h-.9zM453.4 199.6h.9v.9h-.9zM454.8 190.2h.9v.9h-.9zM479.2 199.5h.9v.9h-.9zM487.0 195.6h.9v.9h-.9zM488.8 191.8h.9v.9h-.9zM487.3 198.0h.9v.9h-.9zM489.0 194.6h.9v.9h-.9zM487.5 195.0h.9v.9h-.9z"/>
<line x1="426.40" y1="195.50" x2="455.50" y2="195.50" stroke="#383838" stroke-width="0.90"/>
<line x1="475.50" y1="195.50" x2="493.00" y2="195.50" stroke="#383838" stroke-width="0.90"/>
<rect x="455.50" y="191.50" width="20.00" height="8.00" fill="#f5b820" fill-opacity="0.90" stroke="#333" stroke-width="0.75"/>
<line x1="469.50" y1="191.50" x2="469.50" y2="199.50" stroke="#333" stroke-width="0.90"/>
<line x1="461.50" y1="163.00" x2="461.50" y2="225.30" stroke="#3f8f4f" stroke-width="0.75" stroke-dasharray="1.8,1.5,0.5,1.5" opacity="0.85"/>
<line x1="481.50" y1="163.00" x2="481.50" y2="225.30" stroke="#b33a30" stroke-width="0.90" opacity="0.85"/>
<circle cx="471.00" cy="195.50" r="1.45" fill="#fff"/>
<line x1="377.40" y1="163.00" x2="377.40" y2="225.30" stroke="#7a7a7a" stroke-width="0.90"/>
<line x1="377.40" y1="225.30" x2="515.50" y2="225.30" stroke="#7a7a7a" stroke-width="0.90"/>
<line x1="384.40" y1="225.30" x2="384.40" y2="226.60" stroke="#333" stroke-width="0.60"/>
<text transform="translate(388.10,230.60) rotate(-45)" text-anchor="end" font-size="4.3" fill="#4a4a4a" stroke="#4a4a4a" stroke-width="0.0">0.01</text>
<line x1="409.40" y1="225.30" x2="409.40" y2="226.60" stroke="#333" stroke-width="0.60"/>
<text transform="translate(413.10,230.60) rotate(-45)" text-anchor="end" font-size="4.3" fill="#4a4a4a" stroke="#4a4a4a" stroke-width="0.0">0.1</text>
<line x1="434.50" y1="225.30" x2="434.50" y2="226.60" stroke="#333" stroke-width="0.60"/>
<text transform="translate(438.20,230.60) rotate(-45)" text-anchor="end" font-size="4.3" fill="#4a4a4a" stroke="#4a4a4a" stroke-width="0.0">1</text>
<line x1="463.40" y1="225.30" x2="463.40" y2="226.60" stroke="#333" stroke-width="0.60"/>
<text transform="translate(467.10,230.60) rotate(-45)" text-anchor="end" font-size="4.3" fill="#4a4a4a" stroke="#4a4a4a" stroke-width="0.0">15</text>
<line x1="488.40" y1="225.30" x2="488.40" y2="226.60" stroke="#333" stroke-width="0.60"/>
<text transform="translate(492.10,230.60) rotate(-45)" text-anchor="end" font-size="4.3" fill="#4a4a4a" stroke="#4a4a4a" stroke-width="0.0">150</text>
<line x1="508.60" y1="225.30" x2="508.60" y2="226.60" stroke="#333" stroke-width="0.60"/>
<text transform="translate(512.30,230.60) rotate(-45)" text-anchor="end" font-size="4.3" fill="#4a4a4a" stroke="#4a4a4a" stroke-width="0.0">1,000</text>
<line x1="376.10" y1="195.30" x2="377.40" y2="195.30" stroke="#333" stroke-width="0.60"/>
<text x="376.20" y="194.60" text-anchor="end" font-size="4.4" fill="#4a4a4a" stroke="#4a4a4a" stroke-width="0.0">Summer</text>
<text x="376.20" y="199.40" text-anchor="end" font-size="4.4" fill="#4a4a4a" stroke="#4a4a4a" stroke-width="0.0">(N=5,434)</text>
<line x1="396.90" y1="242.70" x2="396.90" y2="304.40" stroke="#f7f7f7" stroke-width="0.50"/>
<line x1="422.00" y1="242.70" x2="422.00" y2="304.40" stroke="#f7f7f7" stroke-width="0.50"/>
<line x1="449.00" y1="242.70" x2="449.00" y2="304.40" stroke="#f7f7f7" stroke-width="0.50"/>
<line x1="476.00" y1="242.70" x2="476.00" y2="304.40" stroke="#f7f7f7" stroke-width="0.50"/>
<line x1="498.50" y1="242.70" x2="498.50" y2="304.40" stroke="#f7f7f7" stroke-width="0.50"/>
<line x1="384.40" y1="242.70" x2="384.40" y2="304.40" stroke="#ededed" stroke-width="0.60"/>
<line x1="409.40" y1="242.70" x2="409.40" y2="304.40" stroke="#ededed" stroke-width="0.60"/>
<line x1="434.50" y1="242.70" x2="434.50" y2="304.40" stroke="#ededed" stroke-width="0.60"/>
<line x1="463.40" y1="242.70" x2="463.40" y2="304.40" stroke="#ededed" stroke-width="0.60"/>
<line x1="488.40" y1="242.70" x2="488.40" y2="304.40" stroke="#ededed" stroke-width="0.60"/>
<line x1="508.60" y1="242.70" x2="508.60" y2="304.40" stroke="#ededed" stroke-width="0.60"/>
<line x1="377.40" y1="274.50" x2="515.50" y2="274.50" stroke="#ededed" stroke-width="0.60"/>
<path d="M384.70,262.20C385.18,262.58 384.70,264.12 387.60,264.50C391.82,264.88 402.85,264.60 410.00,264.50C417.15,264.40 423.57,264.23 430.50,263.90C437.43,263.57 446.63,262.88 451.60,262.50C456.57,262.12 458.27,262.47 460.30,261.60C462.33,260.73 462.63,258.60 463.80,257.30C464.97,256.00 466.28,255.27 467.30,253.80C468.32,252.33 469.02,250.20 469.90,248.50C470.78,246.80 471.80,244.53 472.60,243.60C473.40,242.67 473.97,242.08 474.70,242.90C475.43,243.72 476.25,245.82 477.00,248.50C477.75,251.18 478.48,256.37 479.20,259.00C479.92,261.63 480.95,263.42 481.30,264.30L481.30,264.80L384.70,264.80Z" fill="#d7e7c9"/>
<line x1="384.70" y1="264.80" x2="485.20" y2="264.80" stroke="#4a4a4a" stroke-width="0.60"/>
<path d="M384.70,262.20C385.18,262.58 384.70,264.12 387.60,264.50C391.82,264.88 402.85,264.60 410.00,264.50C417.15,264.40 423.57,264.23 430.50,263.90C437.43,263.57 446.63,262.88 451.60,262.50C456.57,262.12 458.27,262.47 460.30,261.60C462.33,260.73 462.63,258.60 463.80,257.30C464.97,256.00 466.28,255.27 467.30,253.80C468.32,252.33 469.02,250.20 469.90,248.50C470.78,246.80 471.80,244.53 472.60,243.60C473.40,242.67 473.97,242.08 474.70,242.90C475.43,243.72 476.25,245.82 477.00,248.50C477.75,251.18 478.48,256.37 479.20,259.00C479.92,261.63 480.95,263.42 481.30,264.30" fill="none" stroke="#333" stroke-width="0.5"/>
<rect x="395.00" y="270.00" width="25.00" height="9.50" fill="#d2e4c3" fill-opacity="0.17"/>
<rect x="420.00" y="270.00" width="25.00" height="9.50" fill="#d2e4c3" fill-opacity="0.30"/>
<rect x="445.00" y="270.20" width="37.00" height="9.10" fill="#d2e4c3"/>
<rect x="482.00" y="270.00" width="4.00" height="9.50" fill="#d2e4c3" fill-opacity="0.23"/>
<rect x="384.18" y="269.80" width="1.05" height="9.90" fill="#d2e4c3" fill-opacity="0.90"/>
<rect x="391.18" y="269.80" width="1.05" height="9.90" fill="#d2e4c3" fill-opacity="0.80"/>
<path fill="#d2e4c3" fill-opacity="0.8" d="M414.2 270.6h.9v.9h-.9zM400.2 277.8h.9v.9h-.9zM402.8 269.8h.9v.9h-.9zM397.5 270.9h.9v.9h-.9zM406.1 279.2h.9v.9h-.9zM416.5 274.0h.9v.9h-.9zM404.6 275.1h.9v.9h-.9zM407.6 271.0h.9v.9h-.9zM419.2 278.9h.9v.9h-.9zM397.7 277.0h.9v.9h-.9zM403.2 272.5h.9v.9h-.9zM399.8 275.9h.9v.9h-.9zM399.4 278.8h.9v.9h-.9zM399.6 278.5h.9v.9h-.9zM418.1 279.1h.9v.9h-.9zM413.2 277.9h.9v.9h-.9zM396.0 276.0h.9v.9h-.9zM394.9 276.5h.9v.9h-.9zM418.3 269.3h.9v.9h-.9zM418.6 279.3h.9v.9h-.9zM415.4 276.9h.9v.9h-.9zM403.5 277.9h.9v.9h-.9zM395.0 275.7h.9v.9h-.9zM410.1 273.8h.9v.9h-.9zM409.2 270.7h.9v.9h-.9zM415.4 276.5h.9v.9h-.9zM406.2 275.0h.9v.9h-.9zM413.7 278.1h.9v.9h-.9zM406.3 272.1h.9v.9h-.9zM416.8 269.2h.9v.9h-.9zM413.8 269.8h.9v.9h-.9zM405.6 277.3h.9v.9h-.9zM407.7 278.0h.9v.9h-.9zM414.3 274.1h.9v.9h-.9zM415.5 270.0h.9v.9h-.9zM416.6 271.9h.9v.9h-.9zM404.3 278.3h.9v.9h-.9zM407.8 275.7h.9v.9h-.9zM418.5 273.2h.9v.9h-.9zM400.1 276.3h.9v.9h-.9zM409.7 276.3h.9v.9h-.9zM407.5 276.3h.9v.9h-.9zM418.7 275.0h.9v.9h-.9zM398.7 274.6h.9v.9h-.9zM410.4 275.7h.9v.9h-.9zM394.7 270.9h.9v.9h-.9zM400.4 270.9h.9v.9h-.9zM419.5 273.2h.9v.9h-.9zM416.1 272.7h.9v.9h-.9zM411.2 274.3h.9v.9h-.9zM415.2 271.1h.9v.9h-.9zM402.2 269.1h.9v.9h-.9zM399.6 279.3h.9v.9h-.9zM399.7 273.8h.9v.9h-.9zM418.0 271.5h.9v.9h-.9zM395.6 272.6h.9v.9h-.9zM404.2 271.5h.9v.9h-.9zM417.9 273.1h.9v.9h-.9zM396.8 270.2h.9v.9h-.9zM408.1 274.2h.9v.9h-.9zM416.1 270.0h.9v.9h-.9zM411.9 269.4h.9v.9h-.9zM420.5 270.4h.9v.9h-.9zM441.7 274.6h.9v.9h-.9zM435.1 273.5h.9v.9h-.9zM425.5 272.7h.9v.9h-.9zM435.6 272.6h.9v.9h-.9zM431.0 279.5h.9v.9h-.9zM430.8 279.2h.9v.9h-.9zM431.2 278.0h.9v.9h-.9zM425.0 271.4h.9v.9h-.9zM427.1 278.5h.9v.9h-.9zM436.2 275.1h.9v.9h-.9zM439.3 274.9h.9v.9h-.9zM435.8 276.8h.9v.9h-.9zM433.1 276.7h.9v.9h-.9zM421.4 279.5h.9v.9h-.9zM437.9 275.8h.9v.9h-.9zM440.7 270.7h.9v.9h-.9zM423.6 274.7h.9v.9h-.9zM428.7 277.7h.9v.9h-.9zM431.6 277.6h.9v.9h-.9zM436.7 278.0h.9v.9h-.9zM422.9 271.8h.9v.9h-.9zM427.7 270.6h.9v.9h-.9zM432.2 272.3h.9v.9h-.9zM434.4 276.0h.9v.9h-.9zM435.8 269.9h.9v.9h-.9zM431.3 275.9h.9v.9h-.9zM440.4 274.1h.9v.9h-.9zM422.9 279.0h.9v.9h-.9zM430.9 279.4h.9v.9h-.9zM419.7 271.0h.9v.9h-.9zM433.1 271.0h.9v.9h-.9zM434.6 277.5h.9v.9h-.9zM432.8 276.0h.9v.9h-.9zM424.4 275.1h.9v.9h-.9zM440.7 272.2h.9v.9h-.9zM441.7 270.3h.9v.9h-.9zM430.7 270.3h.9v.9h-.9zM433.6 279.2h.9v.9h-.9zM442.9 279.3h.9v.9h-.9zM426.5 271.1h.9v.9h-.9zM429.7 270.3h.9v.9h-.9zM430.0 271.7h.9v.9h-.9zM429.8 273.5h.9v.9h-.9zM432.8 270.8h.9v.9h-.9zM441.1 270.6h.9v.9h-.9zM436.1 270.5h.9v.9h-.9zM439.0 276.4h.9v.9h-.9zM444.4 274.2h.9v.9h-.9zM443.4 271.2h.9v.9h-.9zM424.2 273.2h.9v.9h-.9zM431.3 276.3h.9v.9h-.9zM427.5 276.0h.9v.9h-.9zM444.0 269.7h.9v.9h-.9zM442.8 269.2h.9v.9h-.9zM436.4 275.1h.9v.9h-.9zM443.5 277.0h.9v.9h-.9zM422.2 272.9h.9v.9h-.9zM442.9 273.5h.9v.9h-.9zM443.6 273.0h.9v.9h-.9zM437.8 275.0h.9v.9h-.9zM433.6 279.5h.9v.9h-.9zM436.9 270.8h.9v.9h-.9zM436.6 278.6h.9v.9h-.9zM439.6 278.8h.9v.9h-.9zM420.7 272.2h.9v.9h-.9zM424.7 270.8h.9v.9h-.9zM429.5 278.6h.9v.9h-.9zM430.3 274.0h.9v.9h-.9zM437.9 269.8h.9v.9h-.9zM439.2 273.4h.9v.9h-.9zM426.3 272.2h.9v.9h-.9zM443.8 273.6h.9v.9h-.9zM438.0 276.5h.9v.9h-.9zM441.1 276.4h.9v.9h-.9zM420.6 274.3h.9v.9h-.9zM432.1 275.9h.9v.9h-.9zM423.6 277.8h.9v.9h-.9zM427.0 274.2h.9v.9h-.9zM421.4 278.3h.9v.9h-.9zM430.5 279.2h.9v.9h-.9zM431.5 272.0h.9v.9h-.9zM428.0 275.5h.9v.9h-.9zM431.0 275.6h.9v.9h-.9zM421.7 272.9h.9v.9h-.9zM423.3 277.2h.9v.9h-.9zM427.6 273.4h.9v.9h-.9zM434.7 277.7h.9v.9h-.9zM423.3 279.2h.9v.9h-.9zM442.2 271.4h.9v.9h-.9zM427.8 270.4h.9v.9h-.9zM433.7 275.2h.9v.9h-.9zM432.5 269.5h.9v.9h-.9zM434.4 277.8h.9v.9h-.9zM425.4 276.3h.9v.9h-.9zM437.6 270.6h.9v.9h-.9zM444.5 275.0h.9v.9h-.9zM442.1 272.3h.9v.9h-.9zM430.0 274.2h.9v.9h-.9zM428.9 274.3h.9v.9h-.9zM424.6 274.5h.9v.9h-.9zM425.4 274.1h.9v.9h-.9zM424.0 276.8h.9v.9h-.9zM433.2 279.0h.9v.9h-.9zM431.3 278.1h.9v.9h-.9zM444.3 274.4h.9v.9h-.9zM470.1 269.3h.9v.9h-.9zM457.8 279.0h.9v.9h-.9zM458.2 269.9h.9v.9h-.9zM446.4 279.4h.9v.9h-.9zM476.5 279.0h.9v.9h-.9zM444.8 269.4h.9v.9h-.9zM463.4 279.4h.9v.9h-.9zM466.6 269.1h.9v.9h-.9zM478.3 279.2h.9v.9h-.9zM449.5 278.8h.9v.9h-.9zM456.0 279.5h.9v.9h-.9zM481.0 278.9h.9v.9h-.9zM450.3 269.8h.9v.9h-.9zM449.7 279.5h.9v.9h-.9zM450.7 278.9h.9v.9h-.9zM473.6 278.8h.9v.9h-.9zM445.0 269.7h.9v.9h-.9zM460.2 270.0h.9v.9h-.9zM453.0 269.1h.9v.9h-.9zM473.1 270.0h.9v.9h-.9zM471.1 269.1h.9v.9h-.9zM462.1 269.8h.9v.9h-.9zM475.3 269.7h.9v.9h-.9zM457.0 269.3h.9v.9h-.9zM480.4 278.7h.9v.9h-.9zM479.9 269.3h.9v.9h-.9zM452.5 269.2h.9v.9h-.9zM480.0 278.7h.9v.9h-.9zM452.3 278.6h.9v.9h-.9zM477.7 269.6h.9v.9h-.9zM451.3 269.2h.9v.9h-.9zM448.8 269.3h.9v.9h-.9zM471.9 279.3h.9v.9h-.9zM464.8 269.4h.9v.9h-.9zM447.1 278.6h.9v.9h-.9zM461.7 279.2h.9v.9h-.9zM451.3 278.9h.9v.9h-.9zM445.0 279.4h.9v.9h-.9zM456.2 279.4h.9v.9h-.9zM478.3 269.1h.9v.9h-.9zM463.4 278.8h.9v.9h-.9zM453.4 278.7h.9v.9h-.9zM477.9 270.0h.9v.9h-.9zM466.3 278.6h.9v.9h-.9zM457.0 269.5h.9v.9h-.9zM458.5 278.6h.9v.9h-.9zM466.2 278.8h.9v.9h-.9zM476.3 279.2h.9v.9h-.9zM478.7 279.5h.9v.9h-.9zM445.2 269.4h.9v.9h-.9zM479.2 278.6h.9v.9h-.9zM480.1 278.6h.9v.9h-.9zM457.8 278.7h.9v.9h-.9zM445.7 269.8h.9v.9h-.9zM445.9 269.5h.9v.9h-.9zM446.2 269.2h.9v.9h-.9zM451.7 269.9h.9v.9h-.9zM454.5 270.0h.9v.9h-.9zM451.3 269.6h.9v.9h-.9zM481.8 274.9h.9v.9h-.9zM485.4 275.5h.9v.9h-.9zM485.1 270.2h.9v.9h-.9zM483.9 271.0h.9v.9h-.9zM482.9 270.6h.9v.9h-.9zM483.4 269.5h.9v.9h-.9zM484.2 275.8h.9v.9h-.9zM485.2 277.1h.9v.9h-.9zM481.9 278.2h.9v.9h-.9zM483.7 278.9h.9v.9h-.9zM483.5 269.9h.9v.9h-.9zM484.4 270.9h.9v.9h-.9z"/>
<line x1="446.70" y1="275.00" x2="463.50" y2="275.00" stroke="#6f7466" stroke-width="1.10"/>
<line x1="474.50" y1="275.00" x2="485.20" y2="275.00" stroke="#6f7466" stroke-width="1.10"/>
<rect x="463.50" y="270.50" width="11.00" height="8.00" fill="#cfe2bf" fill-opacity="0.90" stroke="#333" stroke-width="0.75"/>
<line x1="471.50" y1="270.50" x2="471.50" y2="278.50" stroke="#333" stroke-width="0.90"/>
<line x1="461.50" y1="242.70" x2="461.50" y2="304.40" stroke="#3f8f4f" stroke-width="0.75" stroke-dasharray="1.8,1.5,0.5,1.5" opacity="0.85"/>
<line x1="481.50" y1="242.70" x2="481.50" y2="304.40" stroke="#b33a30" stroke-width="0.90" opacity="0.85"/>
<circle cx="470.80" cy="275.00" r="1.45" fill="#fff" stroke="#333" stroke-width="0.45"/>
<line x1="377.40" y1="242.70" x2="377.40" y2="304.40" stroke="#7a7a7a" stroke-width="0.90"/>
<line x1="377.40" y1="304.40" x2="515.50" y2="304.40" stroke="#7a7a7a" stroke-width="0.90"/>
<line x1="384.40" y1="304.40" x2="384.40" y2="305.70" stroke="#333" stroke-width="0.60"/>
<text transform="translate(388.10,309.70) rotate(-45)" text-anchor="end" font-size="4.3" fill="#4a4a4a" stroke="#4a4a4a" stroke-width="0.0">0.01</text>
<line x1="409.40" y1="304.40" x2="409.40" y2="305.70" stroke="#333" stroke-width="0.60"/>
<text transform="translate(413.10,309.70) rotate(-45)" text-anchor="end" font-size="4.3" fill="#4a4a4a" stroke="#4a4a4a" stroke-width="0.0">0.1</text>
<line x1="434.50" y1="304.40" x2="434.50" y2="305.70" stroke="#333" stroke-width="0.60"/>
<text transform="translate(438.20,309.70) rotate(-45)" text-anchor="end" font-size="4.3" fill="#4a4a4a" stroke="#4a4a4a" stroke-width="0.0">1</text>
<line x1="463.40" y1="304.40" x2="463.40" y2="305.70" stroke="#333" stroke-width="0.60"/>
<text transform="translate(467.10,309.70) rotate(-45)" text-anchor="end" font-size="4.3" fill="#4a4a4a" stroke="#4a4a4a" stroke-width="0.0">15</text>
<line x1="488.40" y1="304.40" x2="488.40" y2="305.70" stroke="#333" stroke-width="0.60"/>
<text transform="translate(492.10,309.70) rotate(-45)" text-anchor="end" font-size="4.3" fill="#4a4a4a" stroke="#4a4a4a" stroke-width="0.0">150</text>
<line x1="508.60" y1="304.40" x2="508.60" y2="305.70" stroke="#333" stroke-width="0.60"/>
<text transform="translate(512.30,309.70) rotate(-45)" text-anchor="end" font-size="4.3" fill="#4a4a4a" stroke="#4a4a4a" stroke-width="0.0">1,000</text>
<line x1="376.10" y1="274.50" x2="377.40" y2="274.50" stroke="#333" stroke-width="0.60"/>
<text x="376.20" y="273.80" text-anchor="end" font-size="4.4" fill="#4a4a4a" stroke="#4a4a4a" stroke-width="0.0">Fall</text>
<text x="376.20" y="278.60" text-anchor="end" font-size="4.4" fill="#4a4a4a" stroke="#4a4a4a" stroke-width="0.0">(N=4,200)</text>
<line x1="566.00" y1="11.20" x2="566.00" y2="66.30" stroke="#f7f7f7" stroke-width="0.50"/>
<line x1="591.00" y1="11.20" x2="591.00" y2="66.30" stroke="#f7f7f7" stroke-width="0.50"/>
<line x1="617.00" y1="11.20" x2="617.00" y2="66.30" stroke="#f7f7f7" stroke-width="0.50"/>
<line x1="644.00" y1="11.20" x2="644.00" y2="66.30" stroke="#f7f7f7" stroke-width="0.50"/>
<line x1="668.00" y1="11.20" x2="668.00" y2="66.30" stroke="#f7f7f7" stroke-width="0.50"/>
<line x1="553.40" y1="11.20" x2="553.40" y2="66.30" stroke="#ededed" stroke-width="0.60"/>
<line x1="578.40" y1="11.20" x2="578.40" y2="66.30" stroke="#ededed" stroke-width="0.60"/>
<line x1="603.00" y1="11.20" x2="603.00" y2="66.30" stroke="#ededed" stroke-width="0.60"/>
<line x1="632.60" y1="11.20" x2="632.60" y2="66.30" stroke="#ededed" stroke-width="0.60"/>
<line x1="656.40" y1="11.20" x2="656.40" y2="66.30" stroke="#ededed" stroke-width="0.60"/>
<line x1="677.50" y1="11.20" x2="677.50" y2="66.30" stroke="#ededed" stroke-width="0.60"/>
<line x1="546.30" y1="39.90" x2="685.00" y2="39.90" stroke="#ededed" stroke-width="0.60"/>
<path d="M595.00,30.70C595.30,30.22 596.15,28.73 596.80,27.80C597.45,26.87 598.17,24.97 598.90,25.10C599.63,25.23 600.38,27.80 601.20,28.60C602.02,29.40 601.92,29.83 603.80,29.90C605.68,29.97 610.17,29.30 612.50,29.00C614.83,28.70 616.33,28.60 617.80,28.10C619.27,27.60 620.28,26.50 621.30,26.00C622.32,25.50 623.02,25.38 623.90,25.10C624.78,24.82 625.58,25.60 626.60,24.30C627.62,23.00 628.83,19.40 630.00,17.30C631.17,15.20 632.42,11.70 633.60,11.70C634.78,11.70 635.93,15.65 637.10,17.30C638.27,18.95 639.73,20.73 640.60,21.60C641.47,22.47 641.72,21.62 642.30,22.50C642.88,23.38 643.52,25.53 644.10,26.90C644.68,28.27 645.52,30.07 645.80,30.70L645.80,30.70L595.00,30.70Z" fill="#bde0ea"/>
<line x1="553.00" y1="30.70" x2="652.00" y2="30.70" stroke="#4a4a4a" stroke-width="0.60"/>
<path d="M595.00,30.70C595.30,30.22 596.15,28.73 596.80,27.80C597.45,26.87 598.17,24.97 598.90,25.10C599.63,25.23 600.38,27.80 601.20,28.60C602.02,29.40 601.92,29.83 603.80,29.90C605.68,29.97 610.17,29.30 612.50,29.00C614.83,28.70 616.33,28.60 617.80,28.10C619.27,27.60 620.28,26.50 621.30,26.00C622.32,25.50 623.02,25.38 623.90,25.10C624.78,24.82 625.58,25.60 626.60,24.30C627.62,23.00 628.83,19.40 630.00,17.30C631.17,15.20 632.42,11.70 633.60,11.70C634.78,11.70 635.93,15.65 637.10,17.30C638.27,18.95 639.73,20.73 640.60,21.60C641.47,22.47 641.72,21.62 642.30,22.50C642.88,23.38 643.52,25.53 644.10,26.90C644.68,28.27 645.52,30.07 645.80,30.70" fill="none" stroke="#333" stroke-width="0.5"/>
<rect x="575.00" y="34.40" width="21.00" height="9.00" fill="#acd7e4" fill-opacity="0.11"/>
<rect x="596.00" y="34.60" width="49.00" height="8.60" fill="#acd7e4"/>
<rect x="645.00" y="34.40" width="5.00" height="9.00" fill="#acd7e4" fill-opacity="0.15"/>
<rect x="552.98" y="34.20" width="1.05" height="9.40" fill="#acd7e4" fill-opacity="0.50"/>
<path fill="#acd7e4" fill-opacity="0.8" d="M574.1 38.7h1.1v1.1h-1.1zM572.3 38.3h1.1v1.1h-1.1zM559.6 40.0h1.1v1.1h-1.1zM568.1 38.0h1.1v1.1h-1.1zM558.5 37.6h1.1v1.1h-1.1zM568.2 35.6h1.1v1.1h-1.1zM555.9 38.2h1.1v1.1h-1.1zM566.9 34.0h1.1v1.1h-1.1zM558.4 43.1h1.1v1.1h-1.1zM558.3 41.1h1.1v1.1h-1.1zM559.2 34.2h1.1v1.1h-1.1zM563.1 42.0h1.1v1.1h-1.1zM569.5 33.8h1.1v1.1h-1.1zM567.9 39.6h1.1v1.1h-1.1zM563.1 40.0h1.1v1.1h-1.1zM563.9 35.2h1.1v1.1h-1.1zM567.8 34.6h1.1v1.1h-1.1zM559.3 41.9h1.1v1.1h-1.1zM586.5 38.6h.9v.9h-.9zM589.5 38.4h.9v.9h-.9zM582.6 39.0h.9v.9h-.9zM575.0 37.0h.9v.9h-.9zM575.4 43.4h.9v.9h-.9zM593.6 40.0h.9v.9h-.9zM577.9 42.0h.9v.9h-.9zM580.5 41.5h.9v.9h-.9zM588.2 39.5h.9v.9h-.9zM590.1 36.1h.9v.9h-.9zM592.1 38.9h.9v.9h-.9zM590.4 41.8h.9v.9h-.9zM579.9 37.6h.9v.9h-.9zM582.1 34.2h.9v.9h-.9zM592.9 40.3h.9v.9h-.9zM584.8 38.9h.9v.9h-.9zM593.0 34.1h.9v.9h-.9zM582.1 40.3h.9v.9h-.9zM585.8 38.4h.9v.9h-.9zM580.0 35.7h.9v.9h-.9zM588.6 36.9h.9v.9h-.9zM594.2 42.5h.9v.9h-.9zM594.9 36.2h.9v.9h-.9zM585.4 34.5h.9v.9h-.9zM582.1 34.2h.9v.9h-.9zM585.1 43.0h.9v.9h-.9zM590.6 37.1h.9v.9h-.9zM580.4 42.8h.9v.9h-.9zM575.7 41.9h.9v.9h-.9zM592.5 34.1h.9v.9h-.9zM594.5 39.9h.9v.9h-.9zM614.6 43.1h.9v.9h-.9zM639.4 33.8h.9v.9h-.9zM619.7 43.2h.9v.9h-.9zM644.4 33.5h.9v.9h-.9zM598.6 34.0h.9v.9h-.9zM601.9 34.3h.9v.9h-.9zM642.0 34.2h.9v.9h-.9zM638.1 33.5h.9v.9h-.9zM609.8 34.4h.9v.9h-.9zM618.2 34.2h.9v.9h-.9zM613.1 33.8h.9v.9h-.9zM626.4 42.9h.9v.9h-.9zM627.6 34.1h.9v.9h-.9zM602.7 43.2h.9v.9h-.9zM597.7 33.9h.9v.9h-.9zM643.4 43.3h.9v.9h-.9zM600.9 43.2h.9v.9h-.9zM615.3 34.0h.9v.9h-.9zM630.0 34.2h.9v.9h-.9zM630.9 43.1h.9v.9h-.9zM604.4 34.4h.9v.9h-.9zM611.1 42.7h.9v.9h-.9zM615.7 42.7h.9v.9h-.9zM624.2 43.1h.9v.9h-.9zM616.2 42.9h.9v.9h-.9zM604.6 43.1h.9v.9h-.9zM607.0 34.3h.9v.9h-.9zM618.2 43.2h.9v.9h-.9zM599.7 42.9h.9v.9h-.9zM631.8 42.9h.9v.9h-.9zM601.3 33.5h.9v.9h-.9zM637.9 42.8h.9v.9h-.9zM596.6 34.3h.9v.9h-.9zM642.4 34.4h.9v.9h-.9zM636.6 42.6h.9v.9h-.9zM638.4 43.1h.9v.9h-.9zM602.3 43.1h.9v.9h-.9zM609.0 43.3h.9v.9h-.9zM636.1 34.1h.9v.9h-.9zM605.8 43.0h.9v.9h-.9zM598.3 33.6h.9v.9h-.9zM614.0 34.0h.9v.9h-.9zM606.9 34.1h.9v.9h-.9zM643.6 42.8h.9v.9h-.9zM611.2 34.4h.9v.9h-.9zM616.1 42.5h.9v.9h-.9zM597.7 43.2h.9v.9h-.9zM641.1 33.5h.9v.9h-.9zM602.1 34.3h.9v.9h-.9zM614.6 34.3h.9v.9h-.9zM644.1 34.1h.9v.9h-.9zM615.6 34.2h.9v.9h-.9zM606.0 34.4h.9v.9h-.9zM615.4 33.5h.9v.9h-.9zM597.6 42.8h.9v.9h-.9zM625.8 43.4h.9v.9h-.9zM618.5 33.5h.9v.9h-.9zM608.4 34.4h.9v.9h-.9zM612.1 43.1h.9v.9h-.9zM641.2 33.7h.9v.9h-.9zM597.1 33.5h.9v.9h-.9zM621.5 33.6h.9v.9h-.9zM600.1 43.2h.9v.9h-.9zM634.2 33.5h.9v.9h-.9zM622.0 33.9h.9v.9h-.9zM633.7 33.9h.9v.9h-.9zM622.2 33.8h.9v.9h-.9zM621.4 34.2h.9v.9h-.9zM613.3 33.9h.9v.9h-.9zM637.6 33.6h.9v.9h-.9zM617.5 43.3h.9v.9h-.9zM596.2 43.3h.9v.9h-.9zM630.2 43.1h.9v.9h-.9zM633.3 42.8h.9v.9h-.9zM642.5 33.7h.9v.9h-.9zM613.0 34.4h.9v.9h-.9zM597.6 33.7h.9v.9h-.9zM628.1 33.6h.9v.9h-.9zM648.7 34.6h.9v.9h-.9zM647.9 33.6h.9v.9h-.9zM647.5 41.5h.9v.9h-.9zM646.8 39.0h.9v.9h-.9zM649.0 35.3h.9v.9h-.9zM648.4 38.7h.9v.9h-.9zM646.6 34.3h.9v.9h-.9zM648.3 35.0h.9v.9h-.9zM647.2 33.8h.9v.9h-.9zM649.4 41.1h.9v.9h-.9z"/>
<line x1="609.90" y1="39.50" x2="625.50" y2="39.50" stroke="#383838" stroke-width="0.90"/>
<line x1="636.50" y1="39.50" x2="649.30" y2="39.50" stroke="#383838" stroke-width="0.90"/>
<rect x="625.50" y="36.50" width="11.00" height="7.00" fill="#a9d6e3" fill-opacity="0.90" stroke="#333" stroke-width="0.75"/>
<line x1="631.50" y1="36.50" x2="631.50" y2="43.50" stroke="#333" stroke-width="0.90"/>
<line x1="626.60" y1="11.20" x2="626.60" y2="66.30" stroke="#3f8f4f" stroke-width="0.75" stroke-dasharray="1.8,1.5,0.5,1.5" opacity="0.85"/>
<line x1="647.00" y1="11.20" x2="647.00" y2="66.30" stroke="#b33a30" stroke-width="1.00" opacity="0.62"/>
<circle cx="633.20" cy="39.50" r="1.45" fill="#fff" stroke="#333" stroke-width="0.45"/>
<line x1="546.30" y1="11.20" x2="546.30" y2="66.30" stroke="#7a7a7a" stroke-width="0.90"/>
<line x1="546.30" y1="66.30" x2="685.00" y2="66.30" stroke="#7a7a7a" stroke-width="0.90"/>
<line x1="553.40" y1="66.30" x2="553.40" y2="67.60" stroke="#333" stroke-width="0.60"/>
<text transform="translate(557.10,71.60) rotate(-45)" text-anchor="end" font-size="4.3" fill="#4a4a4a" stroke="#4a4a4a" stroke-width="0.0">0.01</text>
<line x1="578.40" y1="66.30" x2="578.40" y2="67.60" stroke="#333" stroke-width="0.60"/>
<text transform="translate(582.10,71.60) rotate(-45)" text-anchor="end" font-size="4.3" fill="#4a4a4a" stroke="#4a4a4a" stroke-width="0.0">0.1</text>
<line x1="603.00" y1="66.30" x2="603.00" y2="67.60" stroke="#333" stroke-width="0.60"/>
<text transform="translate(606.70,71.60) rotate(-45)" text-anchor="end" font-size="4.3" fill="#4a4a4a" stroke="#4a4a4a" stroke-width="0.0">1</text>
<line x1="632.60" y1="66.30" x2="632.60" y2="67.60" stroke="#333" stroke-width="0.60"/>
<text transform="translate(636.30,71.60) rotate(-45)" text-anchor="end" font-size="4.3" fill="#4a4a4a" stroke="#4a4a4a" stroke-width="0.0">15</text>
<line x1="656.40" y1="66.30" x2="656.40" y2="67.60" stroke="#333" stroke-width="0.60"/>
<text transform="translate(660.10,71.60) rotate(-45)" text-anchor="end" font-size="4.3" fill="#4a4a4a" stroke="#4a4a4a" stroke-width="0.0">150</text>
<line x1="677.50" y1="66.30" x2="677.50" y2="67.60" stroke="#333" stroke-width="0.60"/>
<text transform="translate(681.20,71.60) rotate(-45)" text-anchor="end" font-size="4.3" fill="#4a4a4a" stroke="#4a4a4a" stroke-width="0.0">1,000</text>
<line x1="545.00" y1="39.90" x2="546.30" y2="39.90" stroke="#333" stroke-width="0.60"/>
<text x="545.20" y="39.20" text-anchor="end" font-size="4.4" fill="#4a4a4a" stroke="#4a4a4a" stroke-width="0.0">Winter</text>
<text x="545.20" y="44.00" text-anchor="end" font-size="4.4" fill="#4a4a4a" stroke="#4a4a4a" stroke-width="0.0">(N=3,707)</text>
<line x1="566.00" y1="84.30" x2="566.00" y2="145.50" stroke="#f7f7f7" stroke-width="0.50"/>
<line x1="591.00" y1="84.30" x2="591.00" y2="145.50" stroke="#f7f7f7" stroke-width="0.50"/>
<line x1="617.00" y1="84.30" x2="617.00" y2="145.50" stroke="#f7f7f7" stroke-width="0.50"/>
<line x1="644.00" y1="84.30" x2="644.00" y2="145.50" stroke="#f7f7f7" stroke-width="0.50"/>
<line x1="668.00" y1="84.30" x2="668.00" y2="145.50" stroke="#f7f7f7" stroke-width="0.50"/>
<line x1="553.40" y1="84.30" x2="553.40" y2="145.50" stroke="#ededed" stroke-width="0.60"/>
<line x1="578.40" y1="84.30" x2="578.40" y2="145.50" stroke="#ededed" stroke-width="0.60"/>
<line x1="603.00" y1="84.30" x2="603.00" y2="145.50" stroke="#ededed" stroke-width="0.60"/>
<line x1="632.60" y1="84.30" x2="632.60" y2="145.50" stroke="#ededed" stroke-width="0.60"/>
<line x1="656.40" y1="84.30" x2="656.40" y2="145.50" stroke="#ededed" stroke-width="0.60"/>
<line x1="677.50" y1="84.30" x2="677.50" y2="145.50" stroke="#ededed" stroke-width="0.60"/>
<line x1="546.30" y1="115.90" x2="685.00" y2="115.90" stroke="#ededed" stroke-width="0.60"/>
<path d="M593.30,105.90C593.73,105.23 594.97,103.35 595.90,101.90C596.83,100.45 597.93,96.92 598.90,97.20C599.87,97.48 600.88,102.38 601.70,103.60C602.52,104.82 602.58,104.55 603.80,104.50C605.02,104.45 606.97,103.58 609.00,103.30C611.03,103.02 613.95,103.23 616.00,102.80C618.05,102.37 619.68,101.73 621.30,100.70C622.92,99.67 624.25,98.30 625.70,96.60C627.15,94.90 628.68,92.25 630.00,90.50C631.32,88.75 632.52,87.32 633.60,86.10C634.68,84.88 635.63,83.05 636.50,83.20C637.37,83.35 637.98,85.35 638.80,87.00C639.62,88.65 640.52,91.50 641.40,93.10C642.28,94.70 643.22,95.13 644.10,96.60C644.98,98.07 645.97,100.35 646.70,101.90C647.43,103.45 648.20,105.23 648.50,105.90L648.50,105.90L593.30,105.90Z" fill="#eda58b"/>
<line x1="553.00" y1="105.90" x2="657.70" y2="105.90" stroke="#4a4a4a" stroke-width="0.60"/>
<path d="M593.30,105.90C593.73,105.23 594.97,103.35 595.90,101.90C596.83,100.45 597.93,96.92 598.90,97.20C599.87,97.48 600.88,102.38 601.70,103.60C602.52,104.82 602.58,104.55 603.80,104.50C605.02,104.45 606.97,103.58 609.00,103.30C611.03,103.02 613.95,103.23 616.00,102.80C618.05,102.37 619.68,101.73 621.30,100.70C622.92,99.67 624.25,98.30 625.70,96.60C627.15,94.90 628.68,92.25 630.00,90.50C631.32,88.75 632.52,87.32 633.60,86.10C634.68,84.88 635.63,83.05 636.50,83.20C637.37,83.35 637.98,85.35 638.80,87.00C639.62,88.65 640.52,91.50 641.40,93.10C642.28,94.70 643.22,95.13 644.10,96.60C644.98,98.07 645.97,100.35 646.70,101.90C647.43,103.45 648.20,105.23 648.50,105.90" fill="none" stroke="#333" stroke-width="0.5"/>
<rect x="575.00" y="110.30" width="21.00" height="9.50" fill="#eb9c80" fill-opacity="0.15"/>
<rect x="596.00" y="110.50" width="52.00" height="9.10" fill="#eb9c80"/>
<rect x="552.98" y="110.10" width="1.05" height="9.90" fill="#eb9c80" fill-opacity="0.50"/>
<path fill="#eb9c80" fill-opacity="0.8" d="M565.2 118.7h1.1v1.1h-1.1zM555.9 114.8h1.1v1.1h-1.1zM556.8 117.7h1.1v1.1h-1.1zM560.5 110.0h1.1v1.1h-1.1zM568.9 110.8h1.1v1.1h-1.1zM564.5 117.7h1.1v1.1h-1.1zM555.7 116.9h1.1v1.1h-1.1zM569.2 115.9h1.1v1.1h-1.1zM572.8 115.1h1.1v1.1h-1.1zM570.8 110.6h1.1v1.1h-1.1zM556.8 116.6h1.1v1.1h-1.1zM556.5 111.3h1.1v1.1h-1.1zM560.5 116.6h1.1v1.1h-1.1zM579.0 112.6h.9v.9h-.9zM585.2 110.7h.9v.9h-.9zM583.9 110.5h.9v.9h-.9zM590.9 114.7h.9v.9h-.9zM576.1 114.5h.9v.9h-.9zM575.9 111.8h.9v.9h-.9zM588.5 111.0h.9v.9h-.9zM579.1 110.6h.9v.9h-.9zM589.7 112.9h.9v.9h-.9zM575.1 110.1h.9v.9h-.9zM582.3 119.2h.9v.9h-.9zM582.2 113.1h.9v.9h-.9zM580.6 113.0h.9v.9h-.9zM595.2 119.1h.9v.9h-.9zM594.3 115.6h.9v.9h-.9zM594.6 112.1h.9v.9h-.9zM579.3 117.9h.9v.9h-.9zM592.0 110.9h.9v.9h-.9zM591.7 112.2h.9v.9h-.9zM576.3 109.4h.9v.9h-.9zM585.4 115.2h.9v.9h-.9zM590.8 119.8h.9v.9h-.9zM577.8 118.9h.9v.9h-.9zM589.2 114.5h.9v.9h-.9zM577.9 114.2h.9v.9h-.9zM587.5 117.2h.9v.9h-.9zM574.6 119.5h.9v.9h-.9zM580.1 117.3h.9v.9h-.9zM594.9 117.0h.9v.9h-.9zM592.1 116.7h.9v.9h-.9zM594.7 114.3h.9v.9h-.9zM590.5 114.7h.9v.9h-.9zM586.2 114.0h.9v.9h-.9zM578.1 114.6h.9v.9h-.9zM577.3 112.1h.9v.9h-.9zM576.9 113.5h.9v.9h-.9zM575.0 117.8h.9v.9h-.9zM579.9 109.7h.9v.9h-.9zM585.9 111.4h.9v.9h-.9zM582.8 119.3h.9v.9h-.9zM593.8 119.4h.9v.9h-.9zM581.4 111.1h.9v.9h-.9zM585.6 119.5h.9v.9h-.9zM587.5 114.8h.9v.9h-.9zM623.5 110.3h.9v.9h-.9zM639.5 110.0h.9v.9h-.9zM630.2 119.3h.9v.9h-.9zM606.2 118.9h.9v.9h-.9zM619.2 119.1h.9v.9h-.9zM640.7 119.8h.9v.9h-.9zM623.1 119.8h.9v.9h-.9zM631.0 118.9h.9v.9h-.9zM617.0 109.4h.9v.9h-.9zM634.7 110.1h.9v.9h-.9zM633.3 109.4h.9v.9h-.9zM631.5 119.0h.9v.9h-.9zM637.4 109.8h.9v.9h-.9zM608.1 109.8h.9v.9h-.9zM601.6 110.0h.9v.9h-.9zM613.4 110.1h.9v.9h-.9zM627.6 119.8h.9v.9h-.9zM610.8 119.5h.9v.9h-.9zM646.1 110.2h.9v.9h-.9zM605.0 110.3h.9v.9h-.9zM610.5 119.6h.9v.9h-.9zM630.5 119.3h.9v.9h-.9zM625.3 110.3h.9v.9h-.9zM623.5 119.7h.9v.9h-.9zM610.2 110.2h.9v.9h-.9zM643.4 119.2h.9v.9h-.9zM647.2 109.7h.9v.9h-.9zM606.8 119.5h.9v.9h-.9zM624.9 119.7h.9v.9h-.9zM643.6 109.5h.9v.9h-.9zM626.6 119.1h.9v.9h-.9zM601.3 109.8h.9v.9h-.9zM645.2 109.6h.9v.9h-.9zM626.0 119.6h.9v.9h-.9zM630.5 109.6h.9v.9h-.9zM615.6 110.3h.9v.9h-.9zM598.7 110.2h.9v.9h-.9zM626.3 119.6h.9v.9h-.9zM610.0 109.9h.9v.9h-.9zM615.9 110.0h.9v.9h-.9zM606.4 109.9h.9v.9h-.9zM619.5 109.9h.9v.9h-.9zM622.4 110.1h.9v.9h-.9zM634.3 109.8h.9v.9h-.9zM621.1 119.8h.9v.9h-.9zM614.9 110.0h.9v.9h-.9zM635.6 109.6h.9v.9h-.9zM637.3 119.0h.9v.9h-.9zM618.4 119.6h.9v.9h-.9zM642.0 110.3h.9v.9h-.9zM642.3 118.9h.9v.9h-.9zM613.2 109.5h.9v.9h-.9zM632.6 119.1h.9v.9h-.9zM631.2 109.7h.9v.9h-.9zM634.8 119.1h.9v.9h-.9zM608.5 109.8h.9v.9h-.9zM624.1 119.1h.9v.9h-.9zM628.5 110.1h.9v.9h-.9zM635.6 109.6h.9v.9h-.9zM604.9 109.6h.9v.9h-.9zM606.6 110.2h.9v.9h-.9zM610.4 110.3h.9v.9h-.9zM600.1 110.0h.9v.9h-.9zM623.8 110.1h.9v.9h-.9zM597.5 109.9h.9v.9h-.9zM615.1 110.0h.9v.9h-.9zM603.6 118.9h.9v.9h-.9zM633.5 109.5h.9v.9h-.9zM605.8 119.5h.9v.9h-.9zM596.0 119.7h.9v.9h-.9zM641.3 119.3h.9v.9h-.9zM635.5 118.9h.9v.9h-.9zM617.1 109.7h.9v.9h-.9zM640.2 119.1h.9v.9h-.9zM607.2 109.9h.9v.9h-.9zM634.3 110.1h.9v.9h-.9zM643.2 110.1h.9v.9h-.9zM613.5 119.4h.9v.9h-.9zM639.5 109.7h.9v.9h-.9zM637.7 109.5h.9v.9h-.9zM605.4 119.6h.9v.9h-.9zM644.1 119.2h.9v.9h-.9zM642.9 109.4h.9v.9h-.9zM657.0 112.6h1.1v1.1h-1.1zM656.5 112.2h1.1v1.1h-1.1zM654.7 110.1h1.1v1.1h-1.1zM655.6 118.7h1.1v1.1h-1.1zM653.4 118.8h1.1v1.1h-1.1zM653.8 117.2h1.1v1.1h-1.1zM652.9 114.8h1.1v1.1h-1.1zM655.5 111.1h1.1v1.1h-1.1z"/>
<line x1="603.80" y1="115.50" x2="624.50" y2="115.50" stroke="#383838" stroke-width="0.90"/>
<line x1="637.50" y1="115.50" x2="657.70" y2="115.50" stroke="#383838" stroke-width="0.90"/>
<rect x="624.50" y="111.50" width="13.00" height="9.00" fill="#e99476" fill-opacity="0.90" stroke="#333" stroke-width="0.75"/>
<line x1="632.50" y1="111.50" x2="632.50" y2="120.50" stroke="#333" stroke-width="0.90"/>
<line x1="626.60" y1="84.30" x2="626.60" y2="145.50" stroke="#3f8f4f" stroke-width="0.75" stroke-dasharray="1.8,1.5,0.5,1.5" opacity="0.85"/>
<line x1="647.00" y1="84.30" x2="647.00" y2="145.50" stroke="#b33a30" stroke-width="1.00" opacity="0.62"/>
<circle cx="634.40" cy="115.50" r="1.45" fill="#fff" stroke="#333" stroke-width="0.45"/>
<line x1="546.30" y1="84.30" x2="546.30" y2="145.50" stroke="#7a7a7a" stroke-width="0.90"/>
<line x1="546.30" y1="145.50" x2="685.00" y2="145.50" stroke="#7a7a7a" stroke-width="0.90"/>
<line x1="553.40" y1="145.50" x2="553.40" y2="146.80" stroke="#333" stroke-width="0.60"/>
<text transform="translate(557.10,150.80) rotate(-45)" text-anchor="end" font-size="4.3" fill="#4a4a4a" stroke="#4a4a4a" stroke-width="0.0">0.01</text>
<line x1="578.40" y1="145.50" x2="578.40" y2="146.80" stroke="#333" stroke-width="0.60"/>
<text transform="translate(582.10,150.80) rotate(-45)" text-anchor="end" font-size="4.3" fill="#4a4a4a" stroke="#4a4a4a" stroke-width="0.0">0.1</text>
<line x1="603.00" y1="145.50" x2="603.00" y2="146.80" stroke="#333" stroke-width="0.60"/>
<text transform="translate(606.70,150.80) rotate(-45)" text-anchor="end" font-size="4.3" fill="#4a4a4a" stroke="#4a4a4a" stroke-width="0.0">1</text>
<line x1="632.60" y1="145.50" x2="632.60" y2="146.80" stroke="#333" stroke-width="0.60"/>
<text transform="translate(636.30,150.80) rotate(-45)" text-anchor="end" font-size="4.3" fill="#4a4a4a" stroke="#4a4a4a" stroke-width="0.0">15</text>
<line x1="656.40" y1="145.50" x2="656.40" y2="146.80" stroke="#333" stroke-width="0.60"/>
<text transform="translate(660.10,150.80) rotate(-45)" text-anchor="end" font-size="4.3" fill="#4a4a4a" stroke="#4a4a4a" stroke-width="0.0">150</text>
<line x1="677.50" y1="145.50" x2="677.50" y2="146.80" stroke="#333" stroke-width="0.60"/>
<text transform="translate(681.20,150.80) rotate(-45)" text-anchor="end" font-size="4.3" fill="#4a4a4a" stroke="#4a4a4a" stroke-width="0.0">1,000</text>
<line x1="545.00" y1="115.90" x2="546.30" y2="115.90" stroke="#333" stroke-width="0.60"/>
<text x="545.20" y="115.20" text-anchor="end" font-size="4.4" fill="#4a4a4a" stroke="#4a4a4a" stroke-width="0.0">Spring</text>
<text x="545.20" y="120.00" text-anchor="end" font-size="4.4" fill="#4a4a4a" stroke="#4a4a4a" stroke-width="0.0">(N=3,828)</text>
<line x1="566.00" y1="163.00" x2="566.00" y2="225.50" stroke="#f7f7f7" stroke-width="0.50"/>
<line x1="591.00" y1="163.00" x2="591.00" y2="225.50" stroke="#f7f7f7" stroke-width="0.50"/>
<line x1="617.00" y1="163.00" x2="617.00" y2="225.50" stroke="#f7f7f7" stroke-width="0.50"/>
<line x1="644.00" y1="163.00" x2="644.00" y2="225.50" stroke="#f7f7f7" stroke-width="0.50"/>
<line x1="668.00" y1="163.00" x2="668.00" y2="225.50" stroke="#f7f7f7" stroke-width="0.50"/>
<line x1="553.40" y1="163.00" x2="553.40" y2="225.50" stroke="#ededed" stroke-width="0.60"/>
<line x1="578.40" y1="163.00" x2="578.40" y2="225.50" stroke="#ededed" stroke-width="0.60"/>
<line x1="603.00" y1="163.00" x2="603.00" y2="225.50" stroke="#ededed" stroke-width="0.60"/>
<line x1="632.60" y1="163.00" x2="632.60" y2="225.50" stroke="#ededed" stroke-width="0.60"/>
<line x1="656.40" y1="163.00" x2="656.40" y2="225.50" stroke="#ededed" stroke-width="0.60"/>
<line x1="677.50" y1="163.00" x2="677.50" y2="225.50" stroke="#ededed" stroke-width="0.60"/>
<line x1="546.30" y1="195.30" x2="685.00" y2="195.30" stroke="#ededed" stroke-width="0.60"/>
<path d="M589.60,185.40C590.28,184.88 592.52,183.83 593.70,182.30C594.88,180.77 595.68,177.72 596.70,176.20C597.72,174.68 598.78,173.03 599.80,173.20C600.82,173.37 601.78,176.28 602.80,177.20C603.82,178.12 604.20,178.58 605.90,178.70C607.60,178.82 610.47,178.15 613.00,177.90C615.53,177.65 619.08,177.65 621.10,177.20C623.12,176.75 623.75,176.88 625.10,175.20C626.45,173.52 627.73,169.13 629.20,167.10C630.67,165.07 632.38,163.17 633.90,163.00C635.42,162.83 636.88,164.23 638.30,166.10C639.72,167.97 641.22,171.83 642.40,174.20C643.58,176.57 644.38,178.60 645.40,180.30C646.42,182.00 647.48,183.55 648.50,184.40C649.52,185.25 651.00,185.23 651.50,185.40L651.50,185.40L589.60,185.40Z" fill="#f7bf2e"/>
<line x1="553.10" y1="185.40" x2="677.50" y2="185.40" stroke="#4a4a4a" stroke-width="0.60"/>
<path d="M589.60,185.40C590.28,184.88 592.52,183.83 593.70,182.30C594.88,180.77 595.68,177.72 596.70,176.20C597.72,174.68 598.78,173.03 599.80,173.20C600.82,173.37 601.78,176.28 602.80,177.20C603.82,178.12 604.20,178.58 605.90,178.70C607.60,178.82 610.47,178.15 613.00,177.90C615.53,177.65 619.08,177.65 621.10,177.20C623.12,176.75 623.75,176.88 625.10,175.20C626.45,173.52 627.73,169.13 629.20,167.10C630.67,165.07 632.38,163.17 633.90,163.00C635.42,162.83 636.88,164.23 638.30,166.10C639.72,167.97 641.22,171.83 642.40,174.20C643.58,176.57 644.38,178.60 645.40,180.30C646.42,182.00 647.48,183.55 648.50,184.40C649.52,185.25 651.00,185.23 651.50,185.40" fill="none" stroke="#333" stroke-width="0.5"/>
<rect x="568.00" y="190.20" width="22.00" height="9.70" fill="#f6bb22" fill-opacity="0.12"/>
<rect x="590.00" y="190.20" width="8.00" height="9.70" fill="#f6bb22" fill-opacity="0.28"/>
<rect x="598.00" y="190.40" width="52.00" height="9.30" fill="#f6bb22"/>
<rect x="553.18" y="190.00" width="1.05" height="10.10" fill="#f6bb22" fill-opacity="0.90"/>
<rect x="560.08" y="190.00" width="1.05" height="10.10" fill="#f6bb22" fill-opacity="0.60"/>
<rect x="564.78" y="190.00" width="1.05" height="10.10" fill="#f6bb22" fill-opacity="0.60"/>
<path fill="#f6bb22" fill-opacity="0.8" d="M586.8 190.8h.9v.9h-.9zM575.3 199.7h.9v.9h-.9zM571.5 193.3h.9v.9h-.9zM583.7 197.6h.9v.9h-.9zM569.3 189.9h.9v.9h-.9zM570.1 199.2h.9v.9h-.9zM571.7 199.9h.9v.9h-.9zM580.2 192.7h.9v.9h-.9zM572.8 194.8h.9v.9h-.9zM571.8 191.3h.9v.9h-.9zM568.5 195.4h.9v.9h-.9zM583.3 197.8h.9v.9h-.9zM585.0 195.7h.9v.9h-.9zM569.3 195.6h.9v.9h-.9zM579.7 189.5h.9v.9h-.9zM576.2 191.8h.9v.9h-.9zM578.9 199.2h.9v.9h-.9zM573.1 189.5h.9v.9h-.9zM577.9 196.8h.9v.9h-.9zM574.1 195.2h.9v.9h-.9zM568.8 193.5h.9v.9h-.9zM585.7 190.7h.9v.9h-.9zM569.9 198.0h.9v.9h-.9zM580.2 192.2h.9v.9h-.9zM576.3 189.4h.9v.9h-.9zM568.8 197.1h.9v.9h-.9zM572.9 191.7h.9v.9h-.9zM580.0 199.5h.9v.9h-.9zM574.4 199.2h.9v.9h-.9zM570.2 198.6h.9v.9h-.9zM589.0 190.3h.9v.9h-.9zM575.3 199.4h.9v.9h-.9zM588.9 190.0h.9v.9h-.9zM580.9 198.3h.9v.9h-.9zM568.2 191.3h.9v.9h-.9zM581.9 192.8h.9v.9h-.9zM574.6 189.4h.9v.9h-.9zM567.8 193.5h.9v.9h-.9zM579.1 193.7h.9v.9h-.9zM597.4 193.0h.9v.9h-.9zM591.3 191.2h.9v.9h-.9zM592.2 197.3h.9v.9h-.9zM596.8 199.4h.9v.9h-.9zM597.1 195.9h.9v.9h-.9zM591.4 195.3h.9v.9h-.9zM595.8 199.2h.9v.9h-.9zM593.4 195.1h.9v.9h-.9zM593.4 196.8h.9v.9h-.9zM596.2 199.0h.9v.9h-.9zM596.5 194.5h.9v.9h-.9zM589.6 198.8h.9v.9h-.9zM591.2 198.4h.9v.9h-.9zM592.8 199.4h.9v.9h-.9zM591.6 197.1h.9v.9h-.9zM590.7 198.6h.9v.9h-.9zM593.8 193.7h.9v.9h-.9zM593.8 190.8h.9v.9h-.9zM596.3 193.1h.9v.9h-.9zM597.2 197.6h.9v.9h-.9zM592.2 197.3h.9v.9h-.9zM592.9 192.9h.9v.9h-.9zM589.8 191.5h.9v.9h-.9zM594.3 196.4h.9v.9h-.9zM590.3 199.2h.9v.9h-.9zM597.0 196.9h.9v.9h-.9zM596.4 193.1h.9v.9h-.9zM596.1 192.0h.9v.9h-.9zM594.3 191.8h.9v.9h-.9zM592.1 197.7h.9v.9h-.9zM593.9 197.8h.9v.9h-.9zM603.0 199.3h.9v.9h-.9zM618.7 199.1h.9v.9h-.9zM633.5 199.2h.9v.9h-.9zM623.1 189.7h.9v.9h-.9zM619.3 190.1h.9v.9h-.9zM621.1 199.9h.9v.9h-.9zM626.5 199.6h.9v.9h-.9zM624.5 189.4h.9v.9h-.9zM620.2 189.5h.9v.9h-.9zM604.8 199.7h.9v.9h-.9zM628.7 189.6h.9v.9h-.9zM613.7 190.1h.9v.9h-.9zM639.5 189.3h.9v.9h-.9zM607.0 189.7h.9v.9h-.9zM602.4 199.7h.9v.9h-.9zM598.8 199.4h.9v.9h-.9zM648.4 189.6h.9v.9h-.9zM625.1 189.6h.9v.9h-.9zM600.1 189.7h.9v.9h-.9zM620.0 190.1h.9v.9h-.9zM627.7 199.9h.9v.9h-.9zM615.5 189.5h.9v.9h-.9zM632.0 190.2h.9v.9h-.9zM628.5 199.0h.9v.9h-.9zM621.0 199.5h.9v.9h-.9zM621.0 199.3h.9v.9h-.9zM610.8 199.2h.9v.9h-.9zM638.0 190.1h.9v.9h-.9zM608.0 189.4h.9v.9h-.9zM614.7 199.7h.9v.9h-.9zM631.3 199.9h.9v.9h-.9zM645.0 199.2h.9v.9h-.9zM631.7 189.4h.9v.9h-.9zM600.7 189.9h.9v.9h-.9zM618.2 190.1h.9v.9h-.9zM646.6 189.5h.9v.9h-.9zM609.4 189.8h.9v.9h-.9zM622.8 199.7h.9v.9h-.9zM631.7 189.8h.9v.9h-.9zM633.0 190.2h.9v.9h-.9zM614.2 199.7h.9v.9h-.9zM600.4 199.6h.9v.9h-.9zM625.6 199.7h.9v.9h-.9zM627.3 199.3h.9v.9h-.9zM633.0 199.3h.9v.9h-.9zM617.4 199.7h.9v.9h-.9zM618.0 189.9h.9v.9h-.9zM623.7 190.0h.9v.9h-.9zM611.4 199.8h.9v.9h-.9zM648.5 189.8h.9v.9h-.9zM601.1 189.9h.9v.9h-.9zM606.6 199.2h.9v.9h-.9zM633.3 189.8h.9v.9h-.9zM619.3 199.5h.9v.9h-.9zM646.3 189.6h.9v.9h-.9zM623.1 189.9h.9v.9h-.9zM620.7 199.4h.9v.9h-.9zM603.3 199.2h.9v.9h-.9zM600.4 199.9h.9v.9h-.9zM622.2 189.3h.9v.9h-.9zM648.6 189.4h.9v.9h-.9zM623.7 190.1h.9v.9h-.9zM632.8 199.4h.9v.9h-.9zM604.5 189.7h.9v.9h-.9zM619.4 189.9h.9v.9h-.9zM643.5 190.1h.9v.9h-.9zM605.4 190.2h.9v.9h-.9zM636.0 199.1h.9v.9h-.9zM638.9 189.6h.9v.9h-.9zM649.5 199.3h.9v.9h-.9zM609.1 190.1h.9v.9h-.9zM607.9 199.5h.9v.9h-.9zM613.7 199.9h.9v.9h-.9zM609.0 199.2h.9v.9h-.9zM636.8 199.8h.9v.9h-.9zM606.9 189.6h.9v.9h-.9zM605.6 199.4h.9v.9h-.9zM598.4 199.7h.9v.9h-.9zM622.9 199.8h.9v.9h-.9zM636.8 199.4h.9v.9h-.9zM622.3 199.7h.9v.9h-.9zM615.0 199.3h.9v.9h-.9zM597.8 189.9h.9v.9h-.9zM677.4 196.5h1v1h-1z"/>
<line x1="578.50" y1="195.50" x2="612.50" y2="195.50" stroke="#383838" stroke-width="0.90"/>
<line x1="635.50" y1="195.50" x2="651.90" y2="195.50" stroke="#383838" stroke-width="0.90"/>
<rect x="612.50" y="191.50" width="23.00" height="8.00" fill="#f5b820" fill-opacity="0.90" stroke="#333" stroke-width="0.75"/>
<line x1="629.50" y1="191.50" x2="629.50" y2="199.50" stroke="#333" stroke-width="0.90"/>
<line x1="626.60" y1="163.00" x2="626.60" y2="225.50" stroke="#3f8f4f" stroke-width="0.75" stroke-dasharray="1.8,1.5,0.5,1.5" opacity="0.85"/>
<line x1="647.00" y1="163.00" x2="647.00" y2="225.50" stroke="#b33a30" stroke-width="1.00" opacity="0.62"/>
<circle cx="632.20" cy="195.50" r="1.45" fill="#fff" stroke="#333" stroke-width="0.45"/>
<line x1="546.30" y1="163.00" x2="546.30" y2="225.50" stroke="#7a7a7a" stroke-width="0.90"/>
<line x1="546.30" y1="225.50" x2="685.00" y2="225.50" stroke="#7a7a7a" stroke-width="0.90"/>
<line x1="553.40" y1="225.50" x2="553.40" y2="226.80" stroke="#333" stroke-width="0.60"/>
<text transform="translate(557.10,230.80) rotate(-45)" text-anchor="end" font-size="4.3" fill="#4a4a4a" stroke="#4a4a4a" stroke-width="0.0">0.01</text>
<line x1="578.40" y1="225.50" x2="578.40" y2="226.80" stroke="#333" stroke-width="0.60"/>
<text transform="translate(582.10,230.80) rotate(-45)" text-anchor="end" font-size="4.3" fill="#4a4a4a" stroke="#4a4a4a" stroke-width="0.0">0.1</text>
<line x1="603.00" y1="225.50" x2="603.00" y2="226.80" stroke="#333" stroke-width="0.60"/>
<text transform="translate(606.70,230.80) rotate(-45)" text-anchor="end" font-size="4.3" fill="#4a4a4a" stroke="#4a4a4a" stroke-width="0.0">1</text>
<line x1="632.60" y1="225.50" x2="632.60" y2="226.80" stroke="#333" stroke-width="0.60"/>
<text transform="translate(636.30,230.80) rotate(-45)" text-anchor="end" font-size="4.3" fill="#4a4a4a" stroke="#4a4a4a" stroke-width="0.0">15</text>
<line x1="656.40" y1="225.50" x2="656.40" y2="226.80" stroke="#333" stroke-width="0.60"/>
<text transform="translate(660.10,230.80) rotate(-45)" text-anchor="end" font-size="4.3" fill="#4a4a4a" stroke="#4a4a4a" stroke-width="0.0">150</text>
<line x1="677.50" y1="225.50" x2="677.50" y2="226.80" stroke="#333" stroke-width="0.60"/>
<text transform="translate(681.20,230.80) rotate(-45)" text-anchor="end" font-size="4.3" fill="#4a4a4a" stroke="#4a4a4a" stroke-width="0.0">1,000</text>
<line x1="545.00" y1="195.30" x2="546.30" y2="195.30" stroke="#333" stroke-width="0.60"/>
<text x="545.20" y="194.60" text-anchor="end" font-size="4.4" fill="#4a4a4a" stroke="#4a4a4a" stroke-width="0.0">Summer</text>
<text x="545.20" y="199.40" text-anchor="end" font-size="4.4" fill="#4a4a4a" stroke="#4a4a4a" stroke-width="0.0">(N=4,760)</text>
<line x1="566.00" y1="242.50" x2="566.00" y2="304.50" stroke="#f7f7f7" stroke-width="0.50"/>
<line x1="591.00" y1="242.50" x2="591.00" y2="304.50" stroke="#f7f7f7" stroke-width="0.50"/>
<line x1="617.00" y1="242.50" x2="617.00" y2="304.50" stroke="#f7f7f7" stroke-width="0.50"/>
<line x1="644.00" y1="242.50" x2="644.00" y2="304.50" stroke="#f7f7f7" stroke-width="0.50"/>
<line x1="668.00" y1="242.50" x2="668.00" y2="304.50" stroke="#f7f7f7" stroke-width="0.50"/>
<line x1="553.40" y1="242.50" x2="553.40" y2="304.50" stroke="#ededed" stroke-width="0.60"/>
<line x1="578.40" y1="242.50" x2="578.40" y2="304.50" stroke="#ededed" stroke-width="0.60"/>
<line x1="603.00" y1="242.50" x2="603.00" y2="304.50" stroke="#ededed" stroke-width="0.60"/>
<line x1="632.60" y1="242.50" x2="632.60" y2="304.50" stroke="#ededed" stroke-width="0.60"/>
<line x1="656.40" y1="242.50" x2="656.40" y2="304.50" stroke="#ededed" stroke-width="0.60"/>
<line x1="677.50" y1="242.50" x2="677.50" y2="304.50" stroke="#ededed" stroke-width="0.60"/>
<line x1="546.30" y1="274.90" x2="685.00" y2="274.90" stroke="#ededed" stroke-width="0.60"/>
<path d="M595.90,264.80C596.20,263.98 597.17,261.37 597.70,259.90C598.23,258.43 598.58,255.85 599.10,256.00C599.62,256.15 600.17,259.48 600.80,260.80C601.43,262.12 600.80,263.55 602.90,263.90C605.15,264.25 611.82,263.33 614.30,262.90C616.78,262.47 616.78,261.42 617.80,261.30C618.82,261.18 619.38,262.43 620.40,262.20C621.42,261.97 622.87,261.17 623.90,259.90C624.93,258.63 625.80,256.93 626.60,254.60C627.40,252.27 627.92,247.88 628.70,245.90C629.48,243.92 630.48,242.85 631.30,242.70C632.12,242.55 632.78,243.60 633.60,245.00C634.42,246.40 635.33,249.98 636.20,251.10C637.07,252.22 637.93,251.70 638.80,251.70C639.67,251.70 640.58,250.75 641.40,251.10C642.22,251.45 643.02,252.33 643.70,253.80C644.38,255.27 644.92,258.10 645.50,259.90C646.08,261.70 646.92,263.82 647.20,264.60L647.20,264.80L595.90,264.80Z" fill="#d7e7c9"/>
<line x1="565.30" y1="264.80" x2="652.00" y2="264.80" stroke="#4a4a4a" stroke-width="0.60"/>
<path d="M595.90,264.80C596.20,263.98 597.17,261.37 597.70,259.90C598.23,258.43 598.58,255.85 599.10,256.00C599.62,256.15 600.17,259.48 600.80,260.80C601.43,262.12 600.80,263.55 602.90,263.90C605.15,264.25 611.82,263.33 614.30,262.90C616.78,262.47 616.78,261.42 617.80,261.30C618.82,261.18 619.38,262.43 620.40,262.20C621.42,261.97 622.87,261.17 623.90,259.90C624.93,258.63 625.80,256.93 626.60,254.60C627.40,252.27 627.92,247.88 628.70,245.90C629.48,243.92 630.48,242.85 631.30,242.70C632.12,242.55 632.78,243.60 633.60,245.00C634.42,246.40 635.33,249.98 636.20,251.10C637.07,252.22 637.93,251.70 638.80,251.70C639.67,251.70 640.58,250.75 641.40,251.10C642.22,251.45 643.02,252.33 643.70,253.80C644.38,255.27 644.92,258.10 645.50,259.90C646.08,261.70 646.92,263.82 647.20,264.60" fill="none" stroke="#333" stroke-width="0.5"/>
<rect x="565.00" y="269.10" width="30.00" height="11.30" fill="#d2e4c3" fill-opacity="0.15"/>
<rect x="595.00" y="269.30" width="53.00" height="10.90" fill="#d2e4c3"/>
<rect x="563.88" y="268.90" width="1.05" height="11.70" fill="#d2e4c3" fill-opacity="0.60"/>
<rect x="573.48" y="268.90" width="1.05" height="11.70" fill="#d2e4c3" fill-opacity="0.60"/>
<path fill="#d2e4c3" fill-opacity="0.8" d="M576.0 272.5h.9v.9h-.9zM577.6 275.6h.9v.9h-.9zM565.6 274.9h.9v.9h-.9zM592.4 268.9h.9v.9h-.9zM591.3 275.2h.9v.9h-.9zM594.5 277.0h.9v.9h-.9zM586.1 277.4h.9v.9h-.9zM577.2 269.6h.9v.9h-.9zM590.2 278.9h.9v.9h-.9zM586.2 270.8h.9v.9h-.9zM579.5 274.5h.9v.9h-.9zM575.5 274.2h.9v.9h-.9zM578.3 280.2h.9v.9h-.9zM583.4 280.2h.9v.9h-.9zM591.8 270.3h.9v.9h-.9zM587.7 272.8h.9v.9h-.9zM582.5 275.1h.9v.9h-.9zM586.7 271.8h.9v.9h-.9zM584.9 272.7h.9v.9h-.9zM588.0 274.2h.9v.9h-.9zM583.8 280.4h.9v.9h-.9zM573.0 268.2h.9v.9h-.9zM591.4 274.6h.9v.9h-.9zM583.9 278.4h.9v.9h-.9zM591.3 272.9h.9v.9h-.9zM594.2 273.0h.9v.9h-.9zM586.4 278.4h.9v.9h-.9zM575.4 273.3h.9v.9h-.9zM575.5 272.4h.9v.9h-.9zM576.9 278.6h.9v.9h-.9zM566.4 280.3h.9v.9h-.9zM588.3 275.0h.9v.9h-.9zM583.8 271.8h.9v.9h-.9zM587.5 278.9h.9v.9h-.9zM576.0 274.3h.9v.9h-.9zM571.1 271.2h.9v.9h-.9zM590.1 276.0h.9v.9h-.9zM578.0 276.0h.9v.9h-.9zM570.1 268.2h.9v.9h-.9zM575.3 275.2h.9v.9h-.9zM570.1 274.8h.9v.9h-.9zM574.3 271.4h.9v.9h-.9zM586.8 272.6h.9v.9h-.9zM586.8 277.4h.9v.9h-.9zM575.8 268.5h.9v.9h-.9zM589.8 274.9h.9v.9h-.9zM582.0 276.6h.9v.9h-.9zM581.0 279.3h.9v.9h-.9zM564.8 280.1h.9v.9h-.9zM583.0 273.2h.9v.9h-.9zM591.8 279.2h.9v.9h-.9zM582.4 268.3h.9v.9h-.9zM583.3 273.2h.9v.9h-.9zM581.8 278.4h.9v.9h-.9zM568.5 278.5h.9v.9h-.9zM573.9 271.2h.9v.9h-.9zM565.7 269.5h.9v.9h-.9zM572.6 274.7h.9v.9h-.9zM592.7 270.3h.9v.9h-.9zM573.2 272.7h.9v.9h-.9zM583.8 272.5h.9v.9h-.9zM584.6 270.0h.9v.9h-.9zM565.9 275.3h.9v.9h-.9zM586.3 269.8h.9v.9h-.9zM566.0 276.4h.9v.9h-.9zM566.5 279.5h.9v.9h-.9zM585.3 270.1h.9v.9h-.9zM576.8 268.8h.9v.9h-.9zM567.2 272.5h.9v.9h-.9zM590.9 279.3h.9v.9h-.9zM587.1 276.0h.9v.9h-.9zM582.1 274.4h.9v.9h-.9zM584.2 274.3h.9v.9h-.9zM576.5 278.4h.9v.9h-.9zM573.6 273.1h.9v.9h-.9zM630.6 279.8h.9v.9h-.9zM640.7 269.1h.9v.9h-.9zM629.0 268.4h.9v.9h-.9zM600.7 268.6h.9v.9h-.9zM620.2 280.4h.9v.9h-.9zM615.4 279.7h.9v.9h-.9zM627.7 268.6h.9v.9h-.9zM635.1 268.8h.9v.9h-.9zM604.5 279.8h.9v.9h-.9zM634.0 268.4h.9v.9h-.9zM646.0 279.7h.9v.9h-.9zM643.1 269.1h.9v.9h-.9zM600.8 280.1h.9v.9h-.9zM634.4 268.6h.9v.9h-.9zM640.8 268.5h.9v.9h-.9zM618.4 280.2h.9v.9h-.9zM618.3 268.2h.9v.9h-.9zM606.7 268.3h.9v.9h-.9zM639.9 268.7h.9v.9h-.9zM627.6 279.5h.9v.9h-.9zM643.3 268.8h.9v.9h-.9zM599.9 280.4h.9v.9h-.9zM618.7 279.5h.9v.9h-.9zM613.9 279.5h.9v.9h-.9zM645.0 269.1h.9v.9h-.9zM633.5 269.0h.9v.9h-.9zM643.6 279.6h.9v.9h-.9zM645.4 269.1h.9v.9h-.9zM642.1 279.9h.9v.9h-.9zM639.5 268.5h.9v.9h-.9zM608.1 268.7h.9v.9h-.9zM610.9 268.5h.9v.9h-.9zM617.5 279.8h.9v.9h-.9zM634.7 280.4h.9v.9h-.9zM626.1 268.8h.9v.9h-.9zM626.1 280.3h.9v.9h-.9zM600.8 268.5h.9v.9h-.9zM643.9 280.1h.9v.9h-.9zM629.3 268.2h.9v.9h-.9zM604.8 268.2h.9v.9h-.9zM611.2 279.7h.9v.9h-.9zM595.7 280.4h.9v.9h-.9zM641.8 279.5h.9v.9h-.9zM631.0 268.8h.9v.9h-.9zM627.7 269.0h.9v.9h-.9zM611.2 279.5h.9v.9h-.9zM616.2 268.7h.9v.9h-.9zM610.7 280.2h.9v.9h-.9zM641.4 268.9h.9v.9h-.9zM643.4 268.2h.9v.9h-.9zM628.6 279.8h.9v.9h-.9zM639.1 268.9h.9v.9h-.9zM646.8 269.1h.9v.9h-.9zM624.5 280.2h.9v.9h-.9zM605.0 268.9h.9v.9h-.9zM602.0 280.1h.9v.9h-.9zM619.6 269.0h.9v.9h-.9zM621.4 268.6h.9v.9h-.9zM603.4 279.6h.9v.9h-.9zM623.4 279.5h.9v.9h-.9zM644.1 268.3h.9v.9h-.9zM605.1 268.8h.9v.9h-.9zM627.4 268.5h.9v.9h-.9zM637.5 280.3h.9v.9h-.9zM622.4 269.1h.9v.9h-.9zM627.4 280.2h.9v.9h-.9zM618.5 279.5h.9v.9h-.9zM634.8 268.3h.9v.9h-.9zM608.3 268.5h.9v.9h-.9zM639.5 269.1h.9v.9h-.9zM625.8 279.9h.9v.9h-.9zM642.2 279.5h.9v.9h-.9zM616.1 268.7h.9v.9h-.9zM595.3 279.9h.9v.9h-.9zM636.0 279.6h.9v.9h-.9zM636.7 268.4h.9v.9h-.9zM614.0 268.7h.9v.9h-.9zM640.8 279.9h.9v.9h-.9zM616.6 268.3h.9v.9h-.9zM634.1 269.1h.9v.9h-.9zM637.3 280.4h.9v.9h-.9zM630.3 279.5h.9v.9h-.9zM608.3 279.7h.9v.9h-.9zM601.5 268.3h.9v.9h-.9z"/>
<line x1="610.10" y1="275.00" x2="626.50" y2="275.00" stroke="#6f7466" stroke-width="1.10"/>
<line x1="637.50" y1="275.00" x2="651.70" y2="275.00" stroke="#6f7466" stroke-width="1.10"/>
<rect x="626.50" y="270.50" width="11.00" height="9.00" fill="#cfe2bf" fill-opacity="0.90" stroke="#333" stroke-width="0.75"/>
<line x1="631.50" y1="270.50" x2="631.50" y2="279.50" stroke="#333" stroke-width="0.90"/>
<line x1="626.60" y1="242.50" x2="626.60" y2="304.50" stroke="#3f8f4f" stroke-width="0.75" stroke-dasharray="1.8,1.5,0.5,1.5" opacity="0.85"/>
<line x1="647.00" y1="242.50" x2="647.00" y2="304.50" stroke="#b33a30" stroke-width="1.00" opacity="0.62"/>
<circle cx="633.50" cy="275.00" r="1.45" fill="#fff" stroke="#333" stroke-width="0.45"/>
<line x1="546.30" y1="242.50" x2="546.30" y2="304.50" stroke="#7a7a7a" stroke-width="0.90"/>
<line x1="546.30" y1="304.50" x2="685.00" y2="304.50" stroke="#7a7a7a" stroke-width="0.90"/>
<line x1="553.40" y1="304.50" x2="553.40" y2="305.80" stroke="#333" stroke-width="0.60"/>
<text transform="translate(557.10,309.80) rotate(-45)" text-anchor="end" font-size="4.3" fill="#4a4a4a" stroke="#4a4a4a" stroke-width="0.0">0.01</text>
<line x1="578.40" y1="304.50" x2="578.40" y2="305.80" stroke="#333" stroke-width="0.60"/>
<text transform="translate(582.10,309.80) rotate(-45)" text-anchor="end" font-size="4.3" fill="#4a4a4a" stroke="#4a4a4a" stroke-width="0.0">0.1</text>
<line x1="603.00" y1="304.50" x2="603.00" y2="305.80" stroke="#333" stroke-width="0.60"/>
<text transform="translate(606.70,309.80) rotate(-45)" text-anchor="end" font-size="4.3" fill="#4a4a4a" stroke="#4a4a4a" stroke-width="0.0">1</text>
<line x1="632.60" y1="304.50" x2="632.60" y2="305.80" stroke="#333" stroke-width="0.60"/>
<text transform="translate(636.30,309.80) rotate(-45)" text-anchor="end" font-size="4.3" fill="#4a4a4a" stroke="#4a4a4a" stroke-width="0.0">15</text>
<line x1="656.40" y1="304.50" x2="656.40" y2="305.80" stroke="#333" stroke-width="0.60"/>
<text transform="translate(660.10,309.80) rotate(-45)" text-anchor="end" font-size="4.3" fill="#4a4a4a" stroke="#4a4a4a" stroke-width="0.0">150</text>
<line x1="677.50" y1="304.50" x2="677.50" y2="305.80" stroke="#333" stroke-width="0.60"/>
<text transform="translate(681.20,309.80) rotate(-45)" text-anchor="end" font-size="4.3" fill="#4a4a4a" stroke="#4a4a4a" stroke-width="0.0">1,000</text>
<line x1="545.00" y1="274.90" x2="546.30" y2="274.90" stroke="#333" stroke-width="0.60"/>
<text x="545.20" y="274.20" text-anchor="end" font-size="4.4" fill="#4a4a4a" stroke="#4a4a4a" stroke-width="0.0">Fall</text>
<text x="545.20" y="279.00" text-anchor="end" font-size="4.4" fill="#4a4a4a" stroke="#4a4a4a" stroke-width="0.0">(N=3,798)</text>
<text x="1" y="4.8" font-size="7" fill="#111">A)</text>
<text x="357.1" y="4.8" font-size="7" fill="#111">B)</text>
<text x="446.6" y="8.4" text-anchor="middle" font-size="5.55" font-weight="bold" fill="#111" stroke="#111" stroke-width="0.12">Total Trihalomethanes</text>
<text x="615.3" y="8.4" text-anchor="middle" font-size="5.55" font-weight="bold" fill="#111" stroke="#111" stroke-width="0.12">Haloacetic Acids</text>
<text x="161.45" y="330.3" text-anchor="middle" font-size="4.75" fill="#222">Water contaminant concentration (μg/L)</text>
<text x="517.45" y="332.1" text-anchor="middle" font-size="4.75" fill="#222">Water contaminant concentration (μg/L)</text>
</svg>
</body></html>
